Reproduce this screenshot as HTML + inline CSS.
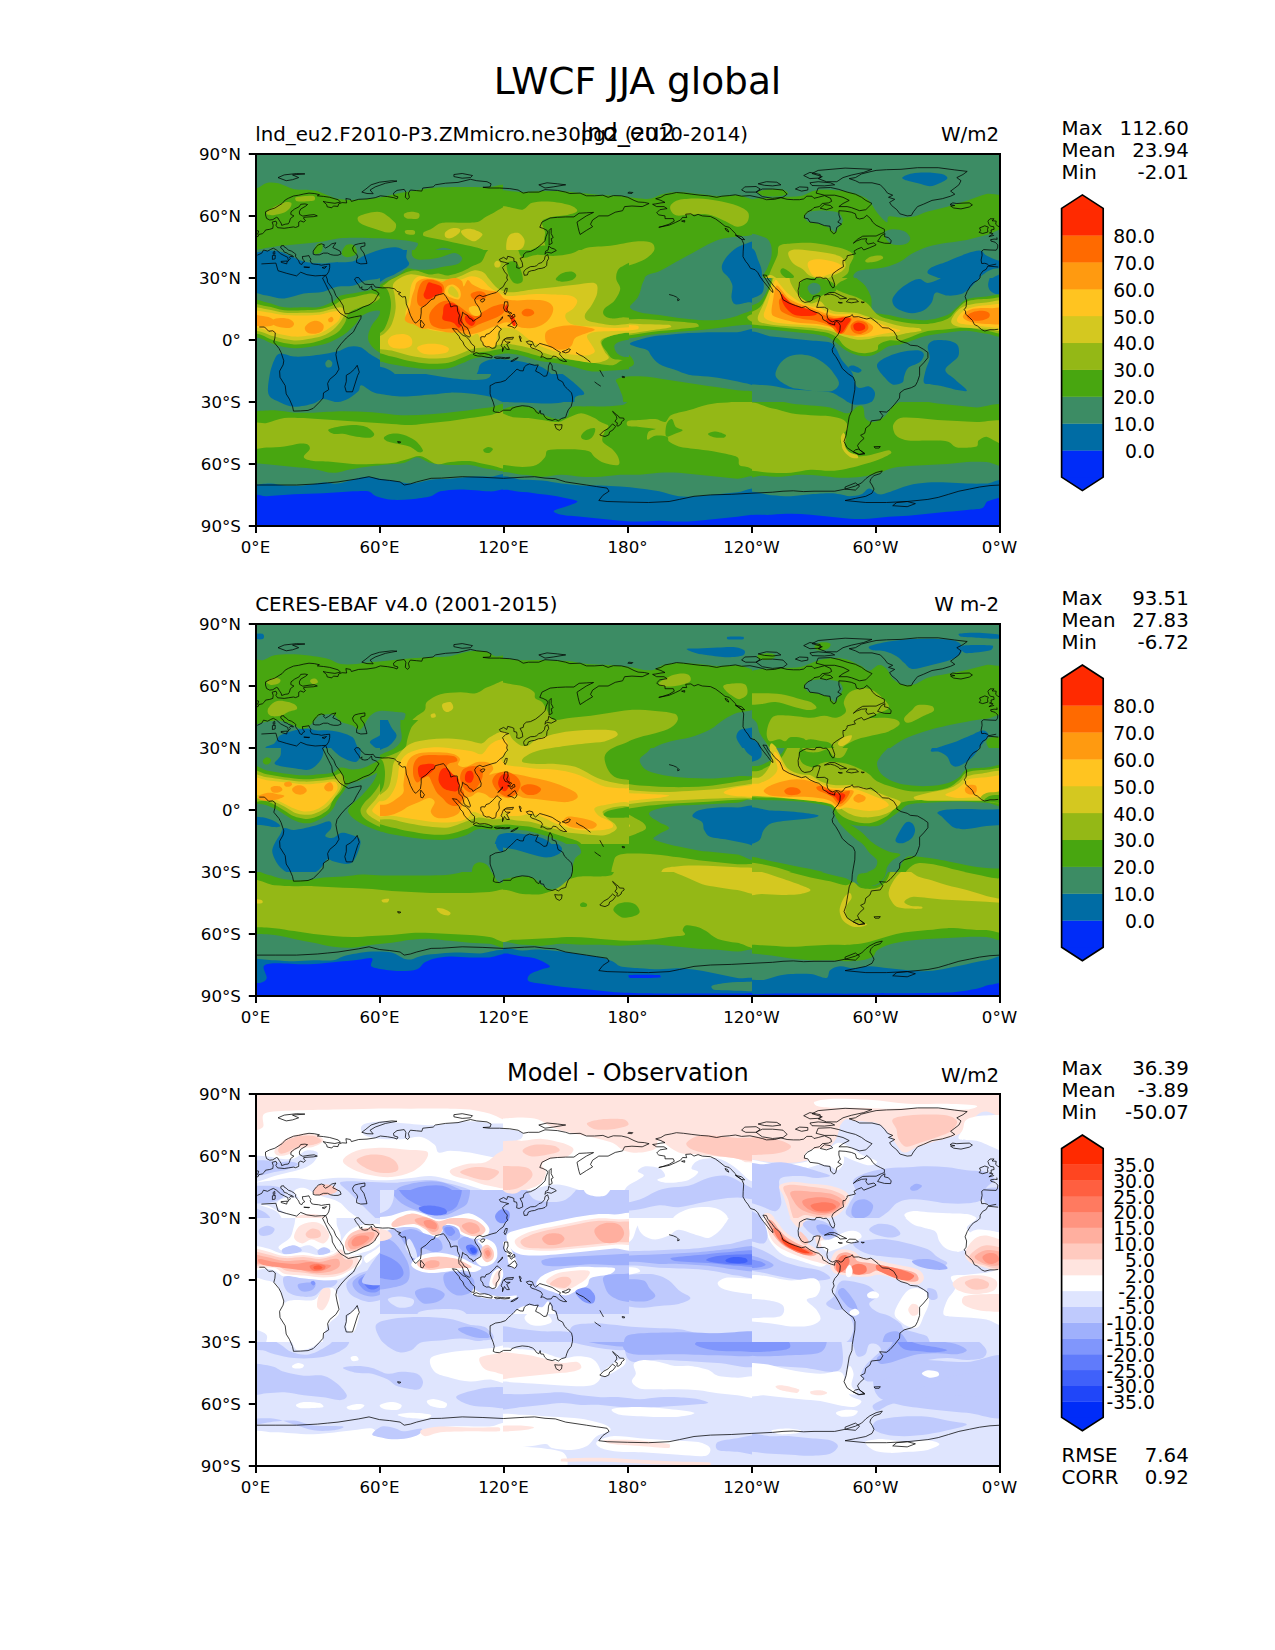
<!DOCTYPE html>
<html lang="en"><head><meta charset="utf-8"><title>LWCF JJA global</title>
<style>
html,body{margin:0;padding:0;background:#fff;}
body{width:1275px;height:1650px;overflow:hidden;}
svg{display:block;}
text{font-family:"DejaVu Sans","Liberation Sans",sans-serif;fill:#000;}
</style></head><body>
<svg width="1275" height="1650" viewBox="0 0 1275 1650">
<rect width="1275" height="1650" fill="#fff"/>
<clipPath id="c1"><rect x="255.0" y="154.0" width="249.0" height="186.0"/></clipPath>
<g clip-path="url(#c1)">
<rect x="255.0" y="154.0" width="249.0" height="186.0" fill="#3c8c64"/>
<g transform="translate(255.0 154.0) scale(0.19529)">
<path d="M-30 178c1-16 25 3 40-2c15-5 32-24 50-28c18-4 37-3 60 2c23 5 48 24 80 30c32 6 70-1 110 8c40 9 82 37 130 44c48 7 110 1 160-4c50-5 97-20 140-28c43-8 83-15 120-20c37-5 60-9 100-10c53-2 162-2 220 0c52 2 122-40 130 12c22 135 223 665 0 798c-223 133-1117 134-1340 0c-223-134-7-668 0-802z" fill="#48a610"/>
<path d="M-30 495c1-12 18-1 30-3c27-4 78-15 130-22c55-7 147-13 200-20c48-6 71-17 120-20c52-3 127-2 190 2c63 4 161 12 190 23c18 7-18 33-15 45c3 12 18 27 35 25c24-3 78-43 110-45c32-2 65 19 80 30c12 9 17 24 10 35c-7 11-28 23-50 30c-25 7-67 12-100 15c-33 3-77 0-100 5c-18 4-23 16-40 25c-17 9-40 22-60 30c-20 8-37 13-60 20c-23 7-52 12-80 20c-28 8-67 21-90 30c-21 8-29 17-50 25c-23 8-53 21-90 25c-45 4-125 2-180 2c-55 0-120-3-150-4c-12 0-29 12-30 0c-5-46-5-227 0-273z" fill="#3c8c64"/>
<path d="M-30 505c2-12 18 1 30 0c15-2 38-9 60-10c22-1 47-1 70 5c23 6 50 22 70 30c20 8 29 15 50 20c22 5 55 9 80 10c25 1 42-3 70-5c28-2 73 1 100-5c26-6 37-20 60-30c23-10 53-23 80-30c27-7 58-14 80-12c22 2 38 10 50 22c12 12 20 35 20 50c0 15-7 28-20 40c-15 13-45 28-70 40c-25 12-50 21-80 30c-30 9-63 18-100 25c-37 7-88 10-120 15c-28 4-42 10-70 15c-33 6-92 16-130 20c-38 4-67 8-100 5c-33-3-78-21-100-25c-12-2-28 12-30 0c-5-35-5-175 0-210z" fill="#006ca4"/>
<path d="M300 500c2-9 12-34 20-40c8-6 22-5 25 2c3 7 1 30-5 38c-6 8-23 12-30 12c-6 0-11-6-10-12z" fill="#48a610"/>
<path d="M445 500c3-9 14-30 25-35c11-5 32-3 40 5c8 8 15 30 10 40c-5 10-28 16-40 18c-12 2-24-3-30-8c-6-5-8-12-5-20z" fill="#48a610"/>
<path d="M60 295c6-7 25-17 40-25c15-8 36-19 50-22c14-3 30-2 35 2c5 4 1 17-5 25c-6 8-17 19-30 25c-13 6-36 10-50 12c-14 2-28 1-35-2c-6-2-9-10-5-15z" fill="#94b816"/>
<path d="M210 222c14-4 75-10 90-7c9 2 11 20 2 23c-14 4-72 7-87 4c-8-1-13-18-5-20z" fill="#94b816"/>
<path d="M530 320c12-8 50-19 70-22c20-3 33-4 50 2c17 6 38 25 50 35c10 9 20 16 22 25c2 9 0 23-7 30c-7 7-20 13-35 12c-16-1-40-11-60-17c-20-6-45-13-60-20c-13-6-25-13-30-20c-5-7-8-19 0-25z" fill="#94b816"/>
<path d="M765 305c6-4 23-9 35-9c12 0 34 3 40 9c6 6 3 21-5 25c-8 4-33 3-45 2c-11-1-21-6-25-10c-4-4-5-13 0-17z" fill="#94b816"/>
<path d="M770 392c7-3 38-3 45 0c7 3 7 17 0 20c-7 3-33 1-40-2c-7-3-12-15-5-18z" fill="#94b816"/>
<path d="M865 400c6-6 21-8 35-15c16-8 33-29 60-33c38-6 130 5 170-2c31-5 40-27 70-38c30-11 103-74 110-29c18 111 45 581 0 697c-39 101-227 63-270 0c-43-63 3-314 10-380c1-13 17-12 30-15c20-5 72-7 90-15c12-5 13-18 15-30c2-12 3-30-5-40c-8-10-23-15-40-20c-20-6-50-11-80-18c-30-7-68-15-100-22c-32-7-79-13-95-20c-7-3-6-14 0-20z" fill="#94b816"/>
<path d="M975 400c6-8 23-18 35-20c12-2 35 0 40 5c5 5-2 18-10 25c-8 8-29 20-40 22c-10 2-21-2-25-7c-4-5-6-17 0-25z" fill="#d4c820"/>
<path d="M1055 395c3-6 23-11 35-12c12-1 28 2 40 7c12 5 35 13 35 22c0 9-24 28-35 33c-11 5-20-1-30-5c-10-4-22-12-30-20c-8-8-18-19-15-25z" fill="#d4c820"/>
<path d="M1225 555c3-5 15-9 20-7c5 2 13 11 13 17c0 6-8 18-13 20c-5 2-14-2-17-7c-3-5-6-18-3-23z" fill="#d4c820"/>
<path d="M-30 788c22-32 83 1 130 2c47 1 112 5 150 5c32 0 55 0 80-3c25-3 52-12 70-17c16-5 25-7 40-15c17-9 40-31 60-40c20-9 40-12 60-15c20-3 46-6 60-5c11 1 24 4 25 12c1 8-13 23-20 33c-7 10-13 18-25 25c-14 8-40 17-60 25c-20 8-47 16-60 25c-12 8-13 18-20 30c-7 12-12 27-20 40c-8 13-18 25-25 40c-7 15 6 48-15 50c-74 8-358 32-430 0c-70-31-22-160 0-192z" fill="#94b816"/>
<path d="M-30 800c22-30 83 2 130 3c47 1 112 5 150 5c32 0 55 0 80-3c25-3 52-12 70-15c16-2 31-6 40-2c9 4 14 15 12 27c-2 12-14 30-22 45c-8 15-18 31-25 45c-7 14-15 27-20 40c-5 13 5 34-10 35c-69 6-337 30-405 0c-66-29-22-150 0-180z" fill="#d4c820"/>
<path d="M-30 815c22-12 83 2 130 3c47 1 112 4 150 4c32 0 55-1 80-4c25-3 53-12 70-13c12-1 26-1 30 7c4 8 0 25-5 38c-5 13-16 28-25 40c-9 12-18 21-30 30c-12 9-25 18-40 25c-15 7-29 18-50 17c-22-1-50-14-80-24c-30-10-67-25-100-33c-33-8-78-12-100-15c-12-2-26 9-30-2c-5-12-22-61 0-73z" fill="#ffc420"/>
<path d="M90 850c6-6 25-11 40-12c15-1 38 2 50 7c12 5 20 17 20 25c0 8-9 17-20 20c-12 3-36 0-50-2c-14-2-28-7-35-13c-7-6-11-19-5-25z" fill="#ff9a10"/>
<path d="M255 890c2-10 14-22 25-28c11-6 28-9 40-7c12 2 26 11 30 20c4 9 2 27-5 35c-7 8-23 13-35 15c-12 2-31 1-40-5c-9-6-17-20-15-30z" fill="#ff9a10"/>
<path d="M375 845c2-5 13-13 17-13c4 0 10 11 10 16c0 5-6 12-10 14c-4 2-11 1-14-2c-3-3-5-10-3-15z" fill="#ff9a10"/>
<path d="M-30 905c13-12 55 2 80 5c25 3 45 8 70 15c25 7 67 18 80 27c9 6 11 27 0 28c-38 5-192 12-230 0c-29-9-13-63 0-75z" fill="#94b816"/>
<path d="M-30 915c12-10 48-1 70 3c22 4 48 12 60 22c12 10 26 35 10 40c-22 7-117 11-140 0c-23-11-12-55 0-65z" fill="#48a610"/>
<path d="M470 850c8-12 16-15 30-20c15-5 40-9 60-10c20-1 47 0 60 5c12 4 18 12 20 25c3 26 33 108 0 130c-33 22-168 13-200 0c-30-13 5-58 10-80c5-21 12-38 20-50z" fill="#3c8c64"/>
</g></g>
<clipPath id="c2"><rect x="255.0" y="340.0" width="249.0" height="187.0"/></clipPath>
<g clip-path="url(#c2)">
<rect x="255.0" y="340.0" width="249.0" height="187.0" fill="#3c8c64"/>
<g transform="translate(255.0 340.0) scale(0.19529)">
<path d="M90 -30c-21 3 12 33 30 45c18 12 50 23 80 27c30 4 68 0 100-4c32-4 67-12 90-23c23-11 77-41 50-45c-50-8-297-8-350 0z" fill="#48a610"/>
<path d="M130 -30c-20 3 15 31 30 40c15 9 37 13 60 15c23 2 55-1 80-5c25-4 53-12 70-20c15-8 47-28 30-30c-40-5-230-7-270 0z" fill="#94b816"/>
<path d="M190 -30c-15 6 15 29 30 35c15 6 45 6 60 0c15-6 45-29 30-35c-15-6-105-6-120 0z" fill="#d4c820"/>
<path d="M70 280c-9-23 0-70 5-100c5-30 16-62 25-80c8-15 13-28 30-30c17-2 42 13 70 15c28 2 63-1 100-5c37-4 90-12 120-20c25-6 40-21 60-25c20-4 40-5 60 3c20 8 35 27 60 42c27 15 58 35 100 50c42 15 100 29 150 40c50 11 103 19 150 25c47 6 98 10 130 10c26 0 52-3 65-10c12-6 15-20 15-30c0-10-4-22-15-30c-12-9-56-17-55-23c1-6 36-10 60-12c28-3 92-40 110-5c18 35 18 185 0 217c-18 32-75-16-110-22c-35-6-67-12-100-15c-33-3-67-6-100-5c-33 1-60 7-100 10c-40 3-98 10-140 10c-42 0-83-8-110-12c-20-3-32-5-50-13c-18-8-43-33-55-33c-12 0-6 20-15 30c-11 11-32 29-50 38c-18 9-38 18-60 18c-22 0-50-17-70-16c-20 1-29 17-50 23c-25 7-72 18-100 17c-28-1-48-12-70-22c-22-10-51-17-60-40z" fill="#006ca4"/>
<path d="M360 120c1-6 9-17 15-18c6-1 17 7 20 13c3 6-1 19-5 23c-4 4-17 5-22 2c-5-3-9-14-8-20z" fill="#3c8c64"/>
<path d="M560 -30c-23 2 17 34 30 50c13 16 26 32 50 45c25 13 65 25 100 35c35 10 75 20 110 25c35 5 68 7 100 5c32-2 65-8 90-15c25-7 34-23 60-30c27-7 65-7 100-10c35-3 92 13 110-5c18-18 40-95 0-100c-125-17-630-8-750 0z" fill="#48a610"/>
<path d="M600 -30c-21 1 12 31 25 45c13 14 33 28 55 40c22 12 52 23 80 30c28 7 58 12 90 15c32 3 70 7 100 5c30-2 58-7 80-15c22-8 27-24 50-30c25-7 62-8 100-10c38-2 108 8 130-5c22-13 30-72 0-75c-118-12-596-8-710 0z" fill="#94b816"/>
<path d="M640 -30c-18 1 7 28 20 40c13 12 37 27 60 35c23 8 50 9 80 15c30 6 67 18 100 20c33 2 77-3 100-10c19-5 23-22 40-30c17-8 35-15 60-20c27-5 65-8 100-10c35-2 92 7 110 0c15-5 16-39 0-40c-112-7-562-7-670 0z" fill="#d4c820"/>
<path d="M690 -30c-15 6 2 29 10 40c8 11 25 20 40 25c15 5 38 9 50 5c12-4 18-18 20-30c2-12 6-35-10-40c-20-7-93-7-110 0z" fill="#ffc420"/>
<path d="M820 45c-2-7 16-17 30-20c17-4 47-7 70-5c23 2 59 8 70 15c9 5 3 19-5 25c-10 7-34 13-55 15c-21 2-52 0-70-5c-18-5-38-18-40-25z" fill="#ffc420"/>
<path d="M-30 365c1-12 18 0 30 0c22-1 67-6 100-5c33 1 67 10 100 12c33 2 60 1 100 0c42-1 100-7 150-7c50 0 100 2 150 5c50 3 100 13 150 15c50 2 100-2 150-5c50-3 100-9 150-15c50-6 107-16 150-20c43-4 95-46 110-5c18 51 18 257 0 310c-14 42-75 12-110 10c-35-2-67-17-100-20c-33-3-67 2-100 0c-33-2-72-3-100-10c-28-7-47-30-70-30c-23 0-40 23-70 30c-30 7-67 5-110 10c-43 5-108 13-150 20c-40 6-67 20-100 20c-33 0-67-15-100-20c-33-5-67-7-100-10c-33-3-67-7-100-10c-33-3-78-8-100-10c-12-1-29 12-30 0c-5-44-5-221 0-265z" fill="#48a610"/>
<path d="M-30 430c15-20 60 0 90-5c30-5 58-21 90-25c32-4 60-2 100 0c42 2 100 7 150 10c50 3 100 7 150 10c50 3 108 8 150 10c40 2 67 6 100 5c33-1 67-7 100-10c33-3 67-6 100-10c33-4 67-10 100-15c33-5 65-11 100-15c35-4 93-51 110-10c18 43 18 221 0 265c-17 41-75 3-110 0c-35-3-67-18-100-20c-33-2-72 2-100 5c-28 2-45 15-70 10c-25-5-55-36-80-40c-25-4-45 9-70 15c-25 6-50 16-80 20c-30 4-67 4-100 5c-33 1-67 2-100 0c-33-2-67-7-100-10c-33-3-75-1-100-5c-21-4-47-10-50-20c-3-10 27-29 30-40c3-10-2-20-10-25c-8-5-24-6-40-5c-20 2-52 12-80 15c-28 3-60 5-90 5c-30 0-75 18-90-2c-15-20-15-98 0-118z" fill="#94b816"/>
<path d="M375 460c3-6 26-11 45-15c21-4 55-10 80-10c25 0 52 3 70 10c18 7 37 26 40 35c3 9-9 18-20 20c-15 2-47-2-70-5c-23-3-50-13-70-15c-20-2-38 3-50 0c-12-3-28-14-25-20z" fill="#48a610"/>
<path d="M660 500c3-7 23-18 40-20c17-2 40-1 60 5c20 6 43 17 60 30c17 13 37 40 40 50c3 8-11 12-20 10c-12-3-30-23-50-30c-20-7-52-11-70-15c-16-4-30-5-40-10c-10-5-23-13-20-20z" fill="#48a610"/>
<path d="M1170 560c3-4 17-12 25-12c8 0 22 5 23 10c1 5-11 17-18 20c-7 3-20 0-25-3c-5-3-8-11-5-15z" fill="#48a610"/>
<path d="M-30 745c1-12 18-2 30-3c18-2 55-8 80-7c25 1 42 8 70 10c28 2 67 3 100 0c33-3 72-13 100-15c28-2 45 8 70 5c25-3 55-14 80-20c25-6 47-14 70-15c23-1 45 6 70 10c25 4 53 8 80 12c27 4 50 14 80 13c30-1 67-16 100-20c33-4 67-3 100-5c33-2 67-8 100-10c33-2 65-1 100 0c35 1 94-36 110 5c18 48 112 261 0 285c-223 48-1117 41-1340 0c-96-18-5-204 0-245z" fill="#006ca4"/>
<path d="M-30 805c15-32 54-3 90-5c38-2 92-8 140-10c48-2 100-2 150-5c50-3 112-8 150-10c32-1 60-4 80 0c18 4 22 19 40 25c20 7 50 16 80 18c30 2 67 0 100-3c33-3 75-8 100-15c22-6 28-20 50-25c25-6 60-10 100-10c42 0 107 7 150 10c43 3 92-31 110 5c18 36 83 197 0 210c-223 35-1117 31-1340 0c-73-10-15-153 0-185z" fill="#002cf8"/>
</g></g>
<clipPath id="c3"><rect x="503.0" y="154.0" width="249.0" height="186.0"/></clipPath>
<g clip-path="url(#c3)">
<rect x="503.0" y="154.0" width="249.0" height="186.0" fill="#48a610"/>
<g transform="translate(503.0 154.0) scale(0.19529)">
<path d="M-30 -30c223-36 1117-41 1340 0c96 18 18 205 0 245c-18 40-75-5-110-5c-35 0-67 6-100 5c-33-1-67-7-100-10c-33-3-70-10-100-10c-30 0-57 5-80 10c-23 5-40 19-60 23c-20 4-36 2-60 0c-27-2-67-10-100-13c-33-3-67-3-100-5c-33-2-67-7-100-10c-33-3-67-8-100-10c-33-2-67-1-100 0c-33 1-67 6-100 5c-33-1-78-8-100-10c-12-1-28 12-30 0c-5-36-85-201 0-215z" fill="#3c8c64"/>
<path d="M860 260c7-9 22-21 40-25c23-5 67-8 100-7c33 1 67 6 100 12c33 6 74 15 100 25c24 9 47 21 55 35c8 14 4 38-5 50c-9 12-30 24-50 22c-20-2-45-22-70-32c-25-10-52-25-80-30c-28-5-63-1-90 0c-27 1-53 8-70 5c-15-3-25-16-30-25c-5-9-7-21 0-30z" fill="#94b816"/>
<path d="M-30 290c9-51 100 2 130-5c24-5 26-29 50-35c25-7 67-8 100-5c33 3 78 12 100 20c15 5 33 19 30 27c-3 8-29 15-50 20c-22 5-58 4-80 10c-21 5-44 10-50 23c-6 13 13 37 15 55c2 18-7 30-3 50c4 20 17 57 28 70c11 13 24 10 40 10c18 0 45-2 70-10c25-8 47-32 80-40c33-8 78-5 120-10c42-5 95-20 130-22c32-2 64 0 80 7c14 6 18 23 15 35c-3 12-19 28-35 40c-16 12-40 22-60 30c-20 8-44 12-60 20c-16 8-32 13-35 30c-3 17 14 48 15 70c1 22 0 42-10 60c-10 18-38 37-50 50c-11 11-28 20-25 30c3 10 24 27 45 30c31 4 92-6 140-5c48 1 102 6 150 10c48 4 115 7 140 13c9 2 19 18 10 22c-15 6-67 10-100 15c-33 5-67 7-100 15c-33 8-75 18-100 30c-23 11-24 39-50 40c-122 7-567 117-680 0c-113-117-22-582 0-700z" fill="#94b816"/>
<path d="M270 640c0-7 17-23 30-30c13-7 38-12 50-10c12 2 25 12 25 20c0 8-13 20-25 25c-12 5-37 8-50 7c-13-1-30-5-30-12z" fill="#48a610"/>
<path d="M-30 560c8-15 35-10 50-10c15 0 27 2 40 10c13 8 34 25 40 40c6 15 2 39-5 50c-7 11-23 18-35 18c-12 0-25-13-40-18c-15-5-42 5-50-10c-8-15-8-65 0-80z" fill="#48a610"/>
<path d="M90 545c2-12 22-33 40-45c18-12 52-27 70-30c14-3 30 0 35 10c5 10 4 37-5 50c-9 13-32 23-50 30c-18 7-45 12-60 10c-15-2-32-13-30-25z" fill="#48a610"/>
<path d="M20 440c3-14 10-24 20-30c10-6 28-10 40-5c12 5 27 23 30 35c3 12-2 30-10 40c-8 10-27 16-40 18c-13 2-33 7-40-3c-7-10-3-41 0-55z" fill="#d4c820"/>
<path d="M-30 700c11-34 60 10 90 10c30 0 58-7 90-10c32-3 67-7 100-10c33-3 67-5 100-10c33-5 78-20 100-20c14 0 27 10 30 20c3 10-3 27-10 40c-7 13-20 27-30 40c-10 13-27 28-30 40c-3 12 0 23 10 30c12 8 37 13 60 20c23 7 47 16 80 20c37 5 92 8 140 10c48 2 123-2 150 0c7 1 17 13 10 15c-15 5-73 10-100 15c-24 5-42 8-60 15c-18 7-40 14-50 25c-10 11 6 39-10 40c-113 7-558 48-670 0c-106-46-15-243 0-290z" fill="#d4c820"/>
<path d="M-30 740c12-34 60 1 90 0c30-1 58-2 90-5c32-3 68-9 100-10c32-1 68-1 90 5c19 5 35 18 40 30c5 12-2 28-10 40c-8 12-32 22-40 30c-6 6-18 16-10 20c12 7 50 15 80 20c30 5 67 8 100 10c33 2 68-1 100 0c32 1 75 1 90 5c8 2 8 17 0 20c-15 5-58 7-90 10c-32 3-80 4-100 10c-12 4-17 14-20 25c-3 11 16 39 0 40c-85 7-425 42-510 0c-85-42-15-208 0-250z" fill="#ffc420"/>
<path d="M40 790c5-13 14-24 30-30c18-7 53-10 80-10c27 0 62 2 80 10c17 8 24 25 25 40c1 15-11 36-20 50c-9 14-17 28-35 35c-18 7-48 11-70 10c-22-1-45-6-60-15c-15-9-25-25-30-40c-5-15-5-37 0-50z" fill="#ff9a10"/>
<path d="M225 930c6-18 19-36 35-45c16-9 37-9 60-7c23 2 55 12 80 17c25 5 67 5 70 10c3 5-29 14-50 20c-22 7-60 9-80 20c-20 11-21 37-40 45c-19 8-62 10-75 0c-13-10-6-42 0-60z" fill="#ff9a10"/>
<path d="M100 805c3-5 16-12 25-13c9-1 25 3 30 8c5 5 7 15 3 20c-4 5-19 10-28 10c-9 0-20-4-25-8c-5-4-8-12-5-17z" fill="#ff6a00"/>
<path d="M1310 420c-4-24-38-1-60 0c-22 1-45 2-70 5c-25 3-50 4-80 15c-30 11-67 32-100 50c-33 18-67 37-100 55c-33 18-73 43-100 55c-23 11-45 10-60 20c-15 10-24 23-30 40c-6 17 2 43-5 60c-7 17-26 28-35 40c-9 11-25 22-20 30c5 8 29 16 50 20c25 5 67 5 100 10c33 5 67 15 100 20c33 5 67 8 100 10c33 2 67 3 100 0c33-3 75-12 100-20c22-7 32-23 50-30c18-7 56 14 60-10c10-63 10-308 0-370z" fill="#3c8c64"/>
<path d="M1310 460c-9-31-57-2-80 5c-23 7-42 19-60 35c-18 16-38 43-45 60c-7 15-6 27 0 40c6 13 27 23 35 40c8 17 8 40 10 60c2 20-5 48 0 60c5 12 17 12 30 10c13-2 32-13 50-20c18-7 55 5 60-20c10-48 13-226 0-270z" fill="#006ca4"/>
<path d="M640 990c-32-3 33-42 60-55c27-13 67-14 100-20c33-6 67-11 100-15c33-4 67-6 100-10c33-4 67-8 100-12c33-4 65-7 100-10c35-3 92-28 110-8c18 20 51 120 0 130c-112 22-568 9-670 0z" fill="#3c8c64"/>
<path d="M700 990c-30-2 35-35 60-45c25-10 54-10 90-13c40-3 108-5 150-7c40-2 67-5 100-7c33-2 65-4 100-6c35-2 92-20 110-7c18 13 34 80 0 85c-102 14-518 8-610 0z" fill="#006ca4"/>
<path d="M1250 840c1-7 15-16 25-20c10-4 29-12 35-5c6 7 7 42 0 50c-7 8-30 1-40-3c-10-4-21-15-20-22z" fill="#94b816"/>
</g></g>
<clipPath id="c4"><rect x="503.0" y="340.0" width="249.0" height="187.0"/></clipPath>
<g clip-path="url(#c4)">
<rect x="503.0" y="340.0" width="249.0" height="187.0" fill="#48a610"/>
<g transform="translate(503.0 340.0) scale(0.19529)">
<path d="M-30 60c22-43 83 18 130 25c47 7 100 13 150 20c50 7 105 19 150 25c45 6 87 10 120 10c32 0 57-3 80-10c23-7 48-18 60-30c12-12 13-27 10-40c-3-13-18-25-30-40c-12-15-66-48-40-50c112-8 592-45 710 0c101 38 18 229 0 270c-18 41-75-18-110-25c-35-7-67-11-100-15c-33-4-67-8-100-10c-33-2-67-5-100-5c-33 0-67 4-100 5c-33 1-70 1-100 2c-30 1-60-1-80 3c-18 3-38 9-40 20c-2 11 20 31 30 45c10 14 28 28 30 40c2 12-6 25-20 30c-20 7-67 8-100 10c-33 2-72-1-100 0c-28 1-55-3-70 5c-15 8-8 35-20 45c-12 10-29 17-50 15c-22-2-58-15-80-25c-22-10-26-29-50-35c-25-7-70-5-100-5c-30 0-71 36-80 5c-13-47-22-242 0-285z" fill="#3c8c64"/>
<path d="M-30 95c14-33 60 1 90 5c30 4 58 13 90 20c32 7 70 8 100 20c30 12 55 32 80 50c25 18 56 46 70 60c8 8 20 18 15 25c-5 7-27 8-45 15c-19 8-42 24-70 30c-28 6-67 5-100 5c-33 0-67-4-100-5c-33-1-78-2-100-2c-12 0-28 12-30 0c-5-37-15-187 0-223z" fill="#006ca4"/>
<path d="M660 10c0-13 17-39 40-40c108-7 508-41 610 0c91 37 18 209 0 245c-18 36-75-23-110-30c-35-7-67-7-100-10c-33-3-70-3-100-5c-30-2-55-5-80-10c-25-5-50-12-70-20c-20-8-35-19-50-30c-15-11-23-25-40-35c-17-10-43-14-60-25c-17-11-40-27-40-40z" fill="#006ca4"/>
<path d="M-30 -30c112-14 554-12 670 0c30 3 22 50 25 70c3 20 6 36-5 50c-11 14-37 28-60 35c-23 7-48 10-80 10c-33 0-75-4-120-10c-45-6-100-17-150-25c-50-8-103-12-150-20c-47-8-108-7-130-25c-22-18-34-81 0-85z" fill="#48a610"/>
<path d="M100 -30c-27 4 13 43 30 60c17 17 42 29 70 40c28 11 67 18 100 25c33 7 67 12 100 15c33 3 70 7 100 5c30-2 63-7 80-15c13-6 20-17 20-30c0-13-10-33-20-50c-10-17-15-47-40-50c-80-8-372-10-440 0z" fill="#94b816"/>
<path d="M150 -30c-31 6 25 43 50 60c25 17 67 31 100 40c33 9 70 12 100 15c30 3 57 7 80 5c23-2 50-10 60-20c10-10 6-25 0-40c-7-17-11-56-40-60c-65-10-300-10-350 0z" fill="#d4c820"/>
<path d="M170 -30c-25 9 33 42 60 55c27 13 72 19 100 25c28 6 52 11 70 10c17-1 37-7 40-15c3-8-10-23-20-35c-10-12-18-36-40-40c-42-7-185-9-210 0z" fill="#ffc420"/>
<path d="M190 -30c-15 7 38 30 60 40c22 10 53 19 70 20c13 1 27-5 30-15c3-10 8-40-10-45c-27-8-135-7-150 0z" fill="#ff9a10"/>
<path d="M-30 385c10-31 53 7 80 10c27 3 55 3 80 5c25 2 45 7 70 10c25 3 57 12 80 10c23-2 40-18 60-25c20-7 40-20 60-20c20 0 43 13 60 20c17 7 27 17 40 25c13 8 37 12 40 20c3 8-15 17-20 30c-5 13-17 35-10 50c7 15 37 27 50 40c13 13 25 27 30 40c5 13 12 35 0 40c-12 5-50-3-70-10c-20-7-37-20-50-30c-13-10-14-25-30-30c-22-7-65-9-100-10c-35-1-89-2-110 5c-15 5-5 23-15 35c-10 12-26 32-45 40c-19 8-42 10-70 10c-28 0-78-8-100-10c-12-1-29 12-30 0c-5-42-13-214 0-255z" fill="#94b816"/>
<path d="M400 490c3-8 18-24 30-30c12-6 34-12 40-8c6 4 0 23-5 33c-5 10-16 21-25 25c-9 4-23 1-30-2c-7-3-13-10-10-18z" fill="#48a610"/>
<path d="M640 415c10-5 37-3 60-5c23-2 58-7 80-5c21 2 37 18 50 15c13-3 14-27 30-35c20-10 58-16 90-25c32-9 67-23 100-30c33-7 60-8 100-10c43-2 133-59 160-2c27 57 10 287 0 342c-4 24-43-7-60-10c-16-3-32-2-40-10c-8-8 4-32-10-40c-18-11-67-18-100-25c-33-7-67-10-100-15c-33-5-75-8-100-15c-22-6-40-17-50-25c-8-7 0-21-10-25c-12-5-43-7-60-5c-17 2-34 23-40 20c-6-3-2-31 5-40c7-9 43-11 35-15c-8-4-57-7-80-10c-23-3-50 0-60-5c-9-4-9-21 0-25z" fill="#94b816"/>
<path d="M1050 480c2-5 25-13 40-12c15 1 43 12 50 17c6 5-3 13-10 15c-10 2-37 1-50-2c-13-3-32-13-30-18z" fill="#48a610"/>
<path d="M838 430c5-14 19-28 27-25c8 3 11 31 20 40c9 9 37 11 35 17c-2 6-31 15-45 20c-14 5-34 19-40 10c-6-9-2-48 3-62z" fill="#48a610"/>
<path d="M-30 700c21-48 92-10 130-10c38 0 67 10 100 10c33 0 67-10 100-10c33 0 67 8 100 10c33 2 67 2 100 0c33-2 67-8 100-10c33-2 67 2 100 0c33-2 67-8 100-10c33-2 67-2 100 0c33 2 67 7 100 10c33 3 67 7 100 10c33 3 65 8 100 10c35 2 94-36 110 5c18 47 108 253 0 275c-223 46-1117 48-1340 0c-113-25-22-240 0-290z" fill="#3c8c64"/>
<path d="M-30 720c22-46 92-5 130-5c38 0 67 2 100 5c33 3 67 11 100 15c33 4 67 8 100 10c33 2 67-1 100 0c33 1 67 3 100 5c33 2 67 6 100 10c33 4 67 8 100 15c33 7 67 21 100 25c33 4 67 2 100 0c33-2 67-7 100-10c33-3 65-8 100-10c35-2 92-40 110-5c18 35 85 201 0 215c-223 36-1117 45-1340 0c-106-21-22-224 0-270z" fill="#006ca4"/>
<path d="M-30 785c22-35 92-8 130-7c38 1 67 8 100 12c33 4 70 9 100 15c30 6 75 13 80 20c5 7-30 17-50 25c-20 8-65 18-70 25c-5 7 23 16 40 20c23 5 67 7 100 10c33 3 67 7 100 10c33 3 67 7 100 10c33 3 67 5 100 5c33 0 67-5 100-5c33 0 67 5 100 5c33 0 67-2 100-5c33-3 67-7 100-10c33-3 65-7 100-10c35-3 92-19 110-5c18 14 36 88 0 90c-223 15-1117 34-1340 0c-81-12-22-170 0-205z" fill="#002cf8"/>
</g></g>
<clipPath id="c5"><rect x="752.0" y="154.0" width="249.0" height="186.0"/></clipPath>
<g clip-path="url(#c5)">
<rect x="752.0" y="154.0" width="249.0" height="186.0" fill="#48a610"/>
<g transform="translate(752.0 154.0) scale(0.19529)">
<path d="M-30 -30c223-41 1117-37 1340 0c87 14 18 181 0 220c-18 39-75 7-110 15c-35 8-67 24-100 35c-33 11-67 21-100 30c-33 9-72 17-100 25c-28 8-47 20-70 25c-23 5-48 5-70 5c-22 0-48-9-60-5c-12 4 0 33-10 30c-10-3-35-32-50-50c-15-18-27-46-40-60c-13-14-22-18-40-25c-22-8-53-20-90-25c-38-5-103-9-140-5c-34 4-50 24-80 30c-30 6-67 3-100 5c-33 2-70 6-100 5c-30-1-70 21-80-10c-13-43-96-227 0-245z" fill="#3c8c64"/>
<path d="M270 320c2-8 15-21 30-25c18-5 57-6 80-5c23 1 46 2 60 10c14 8 25 27 25 40c0 13-18 30-25 40c-6 8-7 21-15 20c-8-1-19-18-35-25c-16-7-42-15-60-20c-18-5-35-4-45-10c-10-6-17-17-15-25z" fill="#3c8c64"/>
<path d="M680 400c5-9 23-14 40-15c17-1 45 3 60 10c15 7 28 24 30 35c2 11-7 24-20 30c-13 6-43 8-60 5c-17-3-32-14-40-25c-8-11-15-31-10-40z" fill="#3c8c64"/>
<path d="M30 195c3-5 30-11 50-13c20-2 52-5 70-2c16 3 35 14 35 20c0 6-20 13-35 15c-21 3-70 3-90 0c-14-2-33-15-30-20z" fill="#48a610"/>
<path d="M770 120c5-6 29-16 50-20c22-4 53-6 80-5c27 1 63 5 80 10c11 3 23 13 20 20c-3 7-25 18-40 25c-15 7-32 15-50 15c-18 0-40-10-60-15c-20-5-47-10-60-15c-9-4-25-9-20-15z" fill="#006ca4"/>
<path d="M1310 400c-14-42-75 8-110 15c-35 7-67 18-100 25c-33 7-67 9-100 15c-33 6-70 11-100 20c-30 9-57 23-80 35c-23 12-37 28-60 40c-23 12-53 23-80 30c-27 7-57 7-80 10c-23 3-47 3-60 10c-13 6-25 20-20 30c5 10 35 18 50 30c15 12 35 23 40 40c5 17-12 42-10 60c2 18 3 38 20 50c17 12 50 13 80 20c30 7 67 17 100 20c33 3 67 3 100 0c33-3 75-10 100-20c24-10 33-25 50-40c17-15 25-40 50-50c25-10 65-10 100-10c35 0 96 52 110 10c18-55 18-286 0-340z" fill="#3c8c64"/>
<path d="M720 740c5-15 23-35 40-50c17-15 43-32 60-40c15-7 27-12 40-10c13 2 23 20 40 20c17 0 60-12 60-20c0-8-53-20-60-30c-7-10 8-23 20-30c17-10 50-18 80-30c30-12 72-31 100-40c27-9 53-17 70-15c16 2 16 17 30 25c15 8 42 22 60 25c18 3 42-11 50-5c8 6 13 32 0 40c-13 8-58 3-80 10c-22 7-35 18-50 30c-15 12-27 27-40 40c-13 13-27 30-40 40c-13 10-23 16-40 20c-17 4-40 7-60 5c-20-2-47-21-60-15c-13 6-10 35-20 50c-10 15-23 31-40 40c-17 9-40 15-60 15c-20 0-45-9-60-15c-13-5-23-10-30-20c-7-10-15-25-10-40z" fill="#006ca4"/>
<path d="M1210 660c3-12 15-22 30-30c17-8 58-36 70-20c12 16 8 97 0 115c-8 18-35-1-50-5c-15-4-32-10-40-20c-8-10-13-28-10-40z" fill="#006ca4"/>
<path d="M-30 425c10-35 69-6 90 0c19 5 28 19 35 35c7 16 7 40 5 60c-2 20-13 43-20 60c-7 17-15 23-20 40c-5 17-5 40-10 60c-5 20-7 48-20 60c-13 12-55 34-60 10c-10-52-15-271 0-325z" fill="#3c8c64"/>
<path d="M-30 480c3-16 30 0 40 10c10 10 13 32 20 50c7 18 18 37 20 60c2 23 0 58-5 80c-5 22-13 45-25 55c-12 10-46 27-50 7c-8-42-7-220 0-262z" fill="#006ca4"/>
<path d="M95 600c8-20 27-58 35-80c7-19-2-40 10-50c12-10 36-10 60-12c27-2 67-5 100-3c33 2 70 9 100 15c30 6 60 12 80 20c18 8 37 17 40 30c3 13-15 35-20 50c-5 15 0 27-10 40c-10 13-40 27-50 40c-10 13-17 29-10 40c7 11 29 18 50 25c22 7 60 11 80 20c19 9 30 21 40 35c10 14 3 37 20 50c17 13 50 22 80 30c30 8 67 16 100 20c33 4 67 8 100 5c33-3 75-13 100-25c25-12 33-35 50-50c17-15 26-31 50-40c25-9 65-13 100-15c35-2 92-34 110 5c18 39 91 214 0 230c-223 38-1117 20-1340 0c-48-4-8-90 0-120c8-30 35-33 50-60c15-27 30-73 40-100c9-24 14-43 20-60c6-16 8-24 15-40z" fill="#94b816"/>
<path d="M-30 880c12-15 48 5 70 10c22 5 35 15 60 20c27 6 67 11 100 15c33 4 67 7 100 10c33 3 83 3 100 10c13 6 14 34 0 35c-72 6-358 17-430 0c-39-9-12-85 0-100z" fill="#48a610"/>
<path d="M-30 905c12-11 48 5 70 10c22 5 40 14 60 20c20 6 50 9 60 17c9 7 11 26 0 28c-32 5-158 12-190 0c-28-11-12-64 0-75z" fill="#3c8c64"/>
<path d="M-30 935c12-7 52 1 70 5c17 4 33 13 40 20c6 6 8 19 0 20c-18 3-92 8-110 0c-17-7-12-38 0-45z" fill="#006ca4"/>
<path d="M740 980c-18-1 7-31 20-40c13-9 37-12 60-15c23-3 50-3 80-5c30-2 67-2 100-5c33-3 67-13 100-15c33-2 65 4 100 5c35 1 92-13 110 0c18 13 30 71 0 75c-95 12-478 7-570 0z" fill="#48a610"/>
<path d="M800 980c-27-4 33-28 60-35c27-7 67-3 100-5c33-2 77-12 100-10c18 2 33 14 40 22c7 8 11 27 0 28c-50 5-260 6-300 0z" fill="#3c8c64"/>
<path d="M240 690c1-15 5-31 15-40c10-9 26-13 45-15c19-2 50 0 70 5c20 5 40 15 50 25c10 10 17 27 10 35c-7 8-35 9-50 15c-15 6-25 13-40 20c-15 7-35 19-50 20c-15 1-32-4-40-15c-8-11-11-35-10-50z" fill="#48a610"/>
<path d="M285 680c3-8 15-18 25-20c10-2 28 3 35 10c7 7 9 22 5 30c-4 8-21 18-30 20c-9 2-19-3-25-10c-6-7-13-22-10-30z" fill="#3c8c64"/>
<path d="M145 600c0-7 7-17 15-15c9 2 31 17 40 25c8 6 17 15 15 20c-2 5-16 11-25 10c-9-1-22-8-30-15c-8-7-15-18-15-25z" fill="#48a610"/>
<path d="M580 545c3-5 17-16 30-20c13-4 40-7 50-5c7 1 15 10 10 15c-5 5-27 14-40 17c-13 3-32 4-40 3c-6-1-13-5-10-10z" fill="#94b816"/>
<path d="M185 510c0-12 12-18 25-20c19-2 58 2 90 5c32 3 73 9 100 15c25 5 47 10 60 20c13 10 20 28 20 40c0 12-10 22-20 30c-10 8-27 13-40 20c-13 7-25 18-40 20c-15 2-35-2-50-5c-15-3-28-7-40-15c-12-8-17-20-30-30c-13-10-38-17-50-30c-12-13-25-38-25-50z" fill="#d4c820"/>
<path d="M285 570c-2-12 4-21 15-25c12-5 38-7 60-5c22 2 53 9 70 15c14 5 28 13 30 20c2 7-10 18-20 25c-10 7-25 10-40 15c-15 5-35 14-50 15c-15 1-29 0-40-10c-11-10-23-38-25-50z" fill="#ffc420"/>
<path d="M60 650c5-16 18-28 30-30c12-2 27 8 40 20c13 12 23 33 40 50c17 17 38 37 60 50c22 13 50 27 70 30c20 3 37-13 50-10c13 3 18 22 30 30c12 8 23 16 40 20c17 4 40 3 60 5c20 2 40 1 60 5c20 4 36 12 60 20c27 8 70 21 100 30c30 9 53 17 80 22c27 5 66 4 80 8c6 2 11 13 5 15c-13 4-61 5-85 10c-24 5-47 11-60 20c-13 9-4 33-20 35c-47 6-212 9-260 0c-25-5-8-44-30-55c-23-12-75-13-110-17c-35-4-67-5-100-8c-33-3-72-5-100-12c-28-7-55-21-70-30c-10-6-19-11-18-23c2-13 20-36 28-55c8-19 17-38 20-60c3-22-5-53 0-70z" fill="#d4c820"/>
<path d="M80 660c2-9 20-17 30-15c10 2 19 14 30 25c12 12 23 30 40 45c17 15 40 33 60 45c20 12 43 20 60 25c15 5 27 1 40 5c13 4 25 14 40 20c15 6 30 12 50 15c20 3 48-2 70 0c22 2 40 4 60 10c20 6 37 16 60 25c23 9 57 22 80 30c23 8 60 14 60 20c0 6-42 9-60 15c-18 6-40 11-50 20c-10 9 4 32-10 35c-32 6-145 9-180 0c-24-6-9-41-30-55c-22-14-70-24-100-30c-30-6-50-2-80-5c-30-3-72-8-100-15c-28-7-53-17-70-25c-13-6-28-10-30-20c-2-10 12-25 20-40c8-15 20-35 25-50c5-15 7-27 5-40c-2-13-22-31-20-40z" fill="#ffc420"/>
<path d="M100 690c0-7 17-12 25-10c8 2 16 11 25 20c11 11 23 32 40 45c17 13 40 22 60 30c20 8 42 13 60 20c18 7 32 13 50 20c18 7 40 17 60 20c20 3 42-1 60 0c18 1 33 1 50 5c17 4 35 12 50 20c15 8 37 20 40 30c3 10-7 23-20 30c-13 8-40 12-60 15c-20 3-43 6-60 5c-16-1-27-3-40-10c-13-7-22-21-40-30c-18-9-45-20-70-25c-25-5-53-2-80-5c-27-3-57-8-80-15c-23-7-48-16-60-25c-10-8-12-18-10-30c2-12 16-27 20-40c4-13 8-28 5-40c-3-12-25-23-25-30z" fill="#ff9a10"/>
<path d="M140 720c4-7 16 4 25 10c10 8 19 25 35 35c16 10 40 17 60 25c20 8 42 13 60 20c18 7 33 14 50 20c17 6 32 13 50 15c18 2 45-6 60-5c13 1 28 2 30 10c2 8-13 28-20 40c-7 12-12 24-20 30c-8 6-19 10-30 5c-12-6-22-29-40-40c-18-11-47-19-70-25c-23-6-48-6-70-10c-22-4-42-8-60-15c-18-7-40-14-50-25c-10-11-8-25-10-40c-2-15-4-43 0-50z" fill="#ff6a00"/>
<path d="M505 885c3-10 22-25 35-27c13-2 36 5 45 12c9 7 14 21 10 30c-4 9-23 22-35 25c-12 3-31 0-40-7c-9-7-18-23-15-33z" fill="#ff6a00"/>
<path d="M150 720c3-2 15 16 25 25c10 9 19 22 35 30c16 8 40 13 60 20c20 7 51 14 60 20c5 3 1 13-5 15c-8 3-27 5-45 5c-18 0-43 1-60-5c-17-6-29-18-40-30c-11-12-20-27-25-40c-5-13-8-38-5-40z" fill="#ff2a00"/>
<path d="M380 850c4-5 25 1 40 0c15-1 36-8 50-8c14 0 32 1 35 8c3 7-13 24-20 35c-7 11-13 24-20 30c-6 5-13 9-20 5c-7-4-12-23-20-30c-8-7-23-3-30-10c-7-7-19-25-15-30z" fill="#ff2a00"/>
<path d="M520 880c3-6 16-12 25-12c9 0 25 7 30 12c5 5 7 15 3 20c-4 5-19 11-28 12c-9 1-20-2-25-7c-5-5-8-19-5-25z" fill="#ff2a00"/>
<path d="M1020 860c2-12 17-37 30-50c13-13 28-23 50-30c25-8 65-12 100-15c35-3 92-23 110 0c18 23 18 117 0 140c-18 23-75-3-110-5c-35-2-73-2-100-5c-24-2-47-4-60-10c-12-5-22-13-20-25z" fill="#d4c820"/>
<path d="M1050 850c3-10 17-30 30-40c13-10 30-15 50-20c20-5 42-8 70-10c30-2 92-18 110 0c18 18 18 92 0 110c-18 18-77 2-110 0c-33-2-67-7-90-10c-20-3-40-5-50-10c-8-4-13-12-10-20z" fill="#ffc420"/>
<path d="M1080 840c-2-10 17-28 30-35c13-7 30-8 50-10c20-2 45 0 70 0c25 0 67-13 80 0c13 13 18 62 0 75c-18 13-78 6-110 5c-32-1-60-4-80-10c-18-5-38-15-40-25z" fill="#ff9a10"/>
<path d="M1100 835c2-7 17-15 30-20c13-5 36-8 50-7c14 1 30 6 35 12c5 6 3 19-5 25c-8 6-25 11-40 13c-15 2-38 1-50-3c-11-4-22-13-20-20z" fill="#ff6a00"/>
</g></g>
<clipPath id="c6"><rect x="752.0" y="340.0" width="249.0" height="187.0"/></clipPath>
<g clip-path="url(#c6)">
<rect x="752.0" y="340.0" width="249.0" height="187.0" fill="#3c8c64"/>
<g transform="translate(752.0 340.0) scale(0.19529)">
<path d="M-30 -30c75-42 374-12 450 0c28 4-2 48 5 70c7 22 21 40 35 60c14 20 37 37 50 60c13 23 15 68 30 80c15 12 45-10 60-5c15 5 29 21 30 35c1 14-7 40-25 50c-18 10-61 14-85 10c-24-4-40-24-60-35c-20-11-34-25-60-30c-43-7-150-9-200-15c-40-4-67-14-100-18c-33-4-78-6-100-7c-12-1-29 12-30 0c-5-43-75-213 0-255z" fill="#006ca4"/>
<path d="M120 170c2-16 15-44 30-60c15-16 35-30 60-35c25-5 62-3 90 5c28 8 58 28 80 45c22 17 39 43 50 60c9 14 18 28 15 40c-3 12-17 27-35 33c-19 6-53 3-80 2c-27-1-58-7-80-10c-20-3-32-2-50-10c-18-8-47-23-60-35c-12-11-22-19-20-35z" fill="#3c8c64"/>
<path d="M640 130c0-17 20-29 40-40c20-12 52-23 80-30c28-7 70-12 90-10c14 1 28 10 30 20c2 10-7 28-20 40c-13 12-47 18-60 30c-13 12-15 28-20 40c-5 12 0 28-10 35c-10 7-35 14-50 10c-15-4-27-19-40-35c-13-16-40-43-40-60z" fill="#006ca4"/>
<path d="M880 215c-5-13 5-44 10-65c5-21 18-40 20-60c2-20-13-40-10-60c3-20 7-50 30-60c23-10 88-13 110 0c22 13 18 60 20 80c1 16-1 26-10 40c-12 17-58 42-60 60c-2 18 32 33 50 50c18 17 57 42 60 50c3 8-24 2-40 0c-20-2-57-11-80-15c-23-4-43-7-60-10c-16-3-35 3-40-10z" fill="#006ca4"/>
<path d="M495 135c2-5 15-9 25-7c11 2 36 16 40 22c4 6-7 14-15 15c-8 1-27-5-35-10c-8-5-17-15-15-20z" fill="#006ca4"/>
<path d="M440 -30c-21 4 10 36 20 50c10 14 23 26 40 35c17 9 40 17 60 20c20 3 40 4 60 0c20-4 43-16 60-25c17-9 30-17 40-30c10-13 41-46 20-50c-47-8-253-8-300 0z" fill="#48a610"/>
<path d="M475 -30c-18 5 4 33 15 45c11 12 32 19 50 25c18 6 43 12 60 10c17-2 32-7 40-20c8-13 33-52 10-60c-28-10-148-8-175 0z" fill="#94b816"/>
<path d="M-30 285c17-50 92 13 130 20c38 7 67 15 100 20c33 5 67 7 100 10c33 3 68 3 100 10c32 7 67 31 90 30c23-1 37-30 50-35c11-4 23-5 30 5c7 10 2 43 10 55c8 12 23 22 40 20c17-2 43-17 60-30c17-13 23-37 40-50c17-13 38-25 60-30c22-5 42-2 70 0c28 2 67 11 100 15c33 4 67 7 100 10c33 3 60 8 100 10c43 3 133-43 160 5c27 48 18 234 0 280c-16 41-75-4-110-5c-35-1-67-2-100 0c-33 2-67 7-100 10c-33 3-67 3-100 5c-33 2-70 2-100 5c-30 3-55 4-80 10c-25 6-43 17-70 25c-27 8-57 16-90 20c-33 4-75 6-110 5c-35-1-67-7-100-10c-33-3-67-6-100-5c-33 1-67 9-100 10c-33 1-70-3-100-5c-30-2-74 26-80-5c-13-68-22-341 0-405z" fill="#48a610"/>
<path d="M-30 340c20-48 92 4 130 10c38 6 67 19 100 25c33 6 67 7 100 10c33 3 72 1 100 5c28 4 55 10 70 20c15 10 22 27 20 40c-2 13-24 27-30 40c-6 13-8 27-5 40c3 13 13 29 25 40c12 11 30 22 50 25c20 3 42 0 70-5c28-5 81-23 100-25c8-1 18 10 12 15c-8 8-37 22-62 32c-25 10-62 20-90 28c-28 8-53 15-80 20c-27 5-50 9-80 10c-30 1-67-7-100-5c-33 2-67 13-100 15c-33 2-67 2-100 0c-33-2-78-8-100-10c-12-1-29 7-30-5c-5-55-22-273 0-325z" fill="#94b816"/>
<path d="M455 500c1-12 11-25 15-25c4 0 9 14 10 25c1 11-8 28-5 40c3 12 14 27 25 35c11 8 33 10 40 15c5 4 6 14 0 15c-7 1-28 1-40-7c-12-8-28-22-35-38c-7-16-11-46-10-60z" fill="#d4c820"/>
<path d="M725 430c6-11 17-26 35-30c21-5 58-2 90 0c32 2 67 8 100 10c33 2 67 3 100 5c33 2 60 4 100 5c43 1 133-20 160 0c27 20 10 103 0 120c-10 17-42-12-60-20c-18-8-35-24-50-25c-15-1-32 12-40 20c-8 8 2 26-10 30c-18 6-75 9-100 5c-23-4-27-25-50-30c-25-6-67-4-100-5c-33-1-74 3-100 0c-23-3-42-12-55-20c-12-8-17-19-20-30c-3-11-6-24 0-35z" fill="#94b816"/>
<path d="M-30 790c22-32 92 3 130 5c38 2 67 6 100 5c33-1 67-8 100-10c33-2 75-5 100-5c20 0 33 3 50 5c17 2 32 10 50 10c18 0 43-3 60-10c17-7 25-30 40-30c15 0 33 27 50 30c17 3 30-4 50-10c25-8 67-27 100-35c33-8 67-13 100-15c33-2 67-1 100 0c33 1 67 4 100 5c33 1 65 1 100 0c35-1 93-45 110-5c18 42 102 240 0 260c-223 43-1117 33-1340 0c-79-12-22-168 0-200z" fill="#006ca4"/>
<path d="M-30 905c22-16 92-7 130-10c38-3 67-5 100-5c33 0 67 2 100 5c33 3 67 7 100 10c33 3 67 8 100 10c33 2 67 2 100 0c33-2 67-7 100-10c33-3 67-3 100-5c33-2 67-7 100-10c33-3 67-7 100-10c33-3 70-7 100-10c30-3 62-2 80-10c17-7 12-30 30-35c22-7 83-33 100-5c17 28 67 161 0 170c-223 28-1117 14-1340 0c-34-2-22-69 0-85z" fill="#002cf8"/>
</g></g>
<clipPath id="c7"><rect x="255.0" y="278.0" width="249.0" height="124.0"/></clipPath>
<g clip-path="url(#c7)">
<rect x="255.0" y="278.0" width="249.0" height="124.0" fill="#3c8c64"/>
<g transform="translate(255.0 278.0) scale(0.19529)">
<path d="M-30 -30c112-17 558-5 670 0c12 1 10 24 0 30c-13 8-57 8-80 15c-23 7-37 20-60 25c-23 5-55 0-80 5c-25 5-42 19-70 25c-28 6-67 4-100 10c-33 6-68 23-100 25c-32 2-65-10-90-15c-24-5-45-12-60-15c-12-2-27 9-30-3c-5-18-40-96 0-102z" fill="#006ca4"/>
<path d="M-30 120c15-28 60 0 90 5c30 5 58 21 90 25c32 4 70 0 100 0c30 0 55 3 80-2c25-5 52-18 70-28c18-9 21-23 40-30c20-8 53-10 80-15c27-5 57-9 80-15c23-6 43-5 60-20c17-15 8-67 40-70c108-12 508-68 610 0c102 68 10 341 0 410c-3 24-36 2-60 5c-27 3-67 7-100 15c-33 8-67 22-100 30c-33 8-67 13-100 15c-33 2-67-2-100-5c-33-3-72-8-100-15c-28-7-48-16-70-25c-22-9-44-18-60-30c-16-12-28-27-35-40c-7-13-7-25-5-40c2-15 12-35 20-50c8-15 23-28 30-40c6-11 15-25 10-30c-5-5-25-4-40 0c-16 4-42 15-55 25c-13 10-14 23-25 35c-11 12-27 28-40 40c-13 12-23 20-40 30c-17 10-37 22-60 30c-23 8-50 15-80 20c-30 5-67 12-100 10c-33-2-72-12-100-20c-28-8-48-22-70-30c-22-8-52 4-60-20c-10-32-15-142 0-170z" fill="#48a610"/>
<path d="M-30 140c15-21 60 1 90 5c30 4 58 17 90 20c32 3 70 1 100 0c30-1 55-1 80-5c25-4 50-12 70-20c20-8 30-22 50-30c20-8 45-10 70-15c25-5 60-16 80-15c18 1 40 12 40 20c0 8-23 22-40 30c-17 8-40 12-60 20c-20 8-47 17-60 30c-13 13-10 33-20 50c-10 17-23 37-40 50c-17 13-40 22-60 30c-20 8-35 15-60 20c-27 5-67 12-100 10c-33-2-72-12-100-20c-28-8-48-22-70-30c-22-8-51 3-60-20c-10-25-15-109 0-130z" fill="#94b816"/>
<path d="M-30 155c15-16 60 1 90 5c30 4 58 15 90 18c32 3 70 0 100 0c30 0 55 0 80-3c25-3 52-13 70-17c16-4 30-11 40-8c10 3 20 13 20 25c0 12-10 30-20 45c-10 15-25 32-40 45c-15 13-32 23-50 30c-18 7-36 11-60 15c-25 4-58 12-90 10c-32-2-72-12-100-20c-28-8-48-18-70-25c-22-7-50 0-60-20c-10-20-15-84 0-100z" fill="#d4c820"/>
<path d="M-30 170c15-11 60 2 90 5c30 3 58 12 90 15c32 3 70 2 100 2c30 0 55-1 80-4c25-3 52-14 70-16c14-2 30-4 35 3c5 7 3 27-5 40c-8 13-25 24-40 35c-15 11-32 22-50 30c-18 8-37 12-60 15c-23 3-50 7-80 5c-30-2-72-13-100-20c-28-7-48-15-70-22c-22-7-50-3-60-18c-10-15-15-59 0-70z" fill="#ffc420"/>
<path d="M90 215c6-6 25-9 40-10c15-1 38 2 50 7c11 5 20 16 20 23c0 7-9 17-20 20c-12 3-36-1-50-3c-14-2-28-6-35-12c-7-6-11-19-5-25z" fill="#ff9a10"/>
<path d="M255 255c2-9 14-21 25-27c11-6 28-10 40-8c12 2 26 12 30 20c4 8 2 22-5 30c-7 8-23 13-35 15c-12 2-31 0-40-5c-9-5-17-16-15-25z" fill="#ff9a10"/>
<path d="M375 210c2-4 13-12 17-12c4 0 10 9 10 14c0 5-6 12-10 14c-4 2-11 1-14-2c-3-3-5-10-3-14z" fill="#ff9a10"/>
<path d="M-30 190c12-7 50 2 70 5c20 3 41 7 50 15c9 8 12 24 5 30c-7 6-27 9-45 8c-21-1-67-3-80-13c-13-10-12-38 0-45z" fill="#ff9a10"/>
<path d="M70 597c-9-23 0-70 5-100c5-30 16-62 25-80c8-15 13-27 30-30c17-3 42 13 70 15c28 2 63-1 100-5c37-4 90-13 120-20c25-6 40-21 60-25c20-4 40-4 60 3c20 7 35 27 60 42c27 15 58 35 100 50c42 15 100 29 150 40c50 11 103 19 150 25c47 6 98 10 130 10c26 0 52-3 65-10c12-6 15-20 15-30c0-10-4-22-15-30c-12-9-56-17-55-23c1-6 36-10 60-12c28-3 92-40 110-5c18 35 18 184 0 217c-18 33-75-16-110-22c-35-6-67-12-100-15c-33-3-67-6-100-5c-33 1-60 7-100 10c-40 3-98 10-140 10c-42 0-83-8-110-12c-20-3-32-5-50-13c-18-8-43-32-55-33c-12-1-6 20-15 30c-11 11-32 29-50 38c-18 9-38 18-60 18c-22 0-50-17-70-16c-20 1-29 17-50 23c-25 7-72 18-100 17c-28-1-48-12-70-22c-22-10-51-17-60-40z" fill="#006ca4"/>
<path d="M360 437c1-6 9-17 15-18c6-1 17 7 20 13c3 6-1 19-5 23c-4 4-17 5-22 2c-5-3-9-14-8-20z" fill="#3c8c64"/>
</g></g>
<clipPath id="c8"><rect x="503.0" y="278.0" width="249.0" height="124.0"/></clipPath>
<g clip-path="url(#c8)">
<rect x="503.0" y="278.0" width="249.0" height="124.0" fill="#3c8c64"/>
<g transform="translate(503.0 278.0) scale(0.19529)">
<path d="M650 335c5-7 45-18 70-25c25-7 50-11 80-15c30-4 67-7 100-10c33-3 67-4 100-5c33-1 67-2 100-2c33 0 65 0 100 0c35 0 93-39 110 2c18 44 10 222 0 265c-5 23-36-1-60-5c-27-4-67-14-100-20c-33-6-67-11-100-15c-33-4-72-4-100-10c-28-6-45-16-70-25c-25-9-60-18-80-30c-20-11-30-28-40-40c-9-11-8-22-20-30c-12-8-35-9-50-15c-15-6-45-13-40-20z" fill="#006ca4"/>
<path d="M1160 -30c22-12 125-24 150 0c25 24 10 119 0 145c-9 23-40 7-60 10c-20 3-47 14-60 10c-13-4-18-19-20-35c-2-16 7-38 5-60c-2-22-37-58-15-70z" fill="#006ca4"/>
<path d="M-30 415c12-34 60 1 90 5c30 4 58 13 90 20c32 7 70 8 100 20c30 12 55 32 80 50c25 18 56 46 70 60c8 8 20 18 15 25c-5 7-34 3-45 15c-11 12 5 56-20 60c-67 10-317 42-380 0c-63-42-15-213 0-255z" fill="#006ca4"/>
<path d="M-30 -30c125-66 627-12 750 0c28 3-5 48-10 70c-5 22-10 42-20 60c-10 18-42 38-40 50c2 12 28 19 50 25c25 7 67 10 100 15c33 5 67 11 100 15c33 4 67 8 100 10c33 2 70 3 100 0c30-3 55-8 80-15c25-7 48-19 70-25c22-6 50-20 60-10c10 10 10 57 0 70c-10 13-36 3-60 5c-27 2-67 6-100 10c-33 4-67 8-100 12c-33 4-67 7-100 10c-33 3-67 5-100 8c-33 3-72 8-100 12c-28 4-45 9-70 13c-25 4-60 8-80 13c-17 4-43 8-40 17c3 9 43 23 60 35c17 12 32 28 40 40c7 10 13 22 10 30c-3 8-16 15-30 20c-15 5-37 9-60 10c-23 1-50-2-80-5c-30-3-67-11-100-15c-33-4-67-5-100-10c-33-5-67-13-100-20c-33-7-67-12-100-20c-33-8-78-24-100-30c-12-3-29 7-30-5c-5-67-125-329 0-395z" fill="#48a610"/>
<path d="M580 520c8-8 37-12 60-15c23-3 53-2 80 0c27 2 50 6 80 10c30 4 67 10 100 15c33 5 67 10 100 15c33 5 67 10 100 15c33 5 65 10 100 15c35 5 92-1 110 15c18 16 32 76 0 80c-112 13-553 12-670 0c-30-3-22-50-30-70c-8-20-15-37-20-50c-4-12-18-22-10-30z" fill="#48a610"/>
<path d="M600 -30c36 5 2 65 0 90c-2 24 0 43-10 60c-10 17-38 29-50 40c-11 9-28 16-25 25c3 9 24 27 45 30c31 4 92-6 140-5c48 1 102 6 150 10c48 4 115 7 140 12c8 2 18 15 10 18c-15 5-67 8-100 12c-33 4-67 6-100 10c-33 4-67 8-100 13c-33 5-70 10-100 15c-30 5-57 11-80 15c-23 4-60 4-60 10c0 6 40 14 60 25c20 11 47 28 60 40c11 9 23 21 20 30c-3 9-23 21-40 25c-17 4-36 2-60 0c-27-3-67-11-100-15c-33-4-67-5-100-10c-33-5-67-13-100-20c-33-7-67-12-100-20c-33-8-78-24-100-30c-12-3-29 7-30-5c-5-63-105-313 0-375c105-62 525-15 630 0z" fill="#94b816"/>
<path d="M1250 200c1-6 15-12 25-15c10-3 29-12 35-5c6 7 7 38 0 45c-7 7-30 1-40-3c-10-4-21-16-20-22z" fill="#94b816"/>
<path d="M-30 -30c85-58 427-12 510 0c28 4-3 48-10 70c-7 22-20 42-30 60c-10 18-28 35-30 50c-2 15 5 30 20 40c15 11 42 18 70 25c28 7 67 12 100 15c33 3 60 3 100 5c42 2 123 2 150 5c6 1 16 10 10 12c-15 5-70 11-100 16c-30 5-53 8-80 12c-27 4-53 7-80 10c-27 3-53 6-80 10c-27 4-72 5-80 12c-8 7 17 18 30 28c13 10 38 20 50 30c11 9 23 22 20 30c-3 8-22 18-40 20c-20 2-53-2-80-5c-27-3-52-10-80-15c-28-5-58-8-90-15c-32-7-67-16-100-25c-33-9-70-23-100-30c-30-7-73 21-80-10c-13-60-85-292 0-350z" fill="#d4c820"/>
<path d="M-30 -30c68-53 341-22 410 0c50 16 7 100 5 130c-1 21-6 36-15 50c-9 14-32 26-40 35c-6 7-18 16-10 20c12 7 50 15 80 20c30 5 67 7 100 10c33 3 68 3 100 5c32 2 75 1 90 5c7 2 7 15 0 17c-15 4-58 6-90 10c-32 4-72 8-100 13c-28 5-50 9-70 15c-20 6-45 12-50 20c-5 8 10 20 20 30c10 10 35 22 40 30c5 8-2 17-10 20c-10 3-30 2-50 0c-22-2-50-8-80-15c-30-7-67-16-100-25c-33-9-67-20-100-30c-33-10-78-23-100-30c-12-4-29 3-30-10c-5-55-68-267 0-320z" fill="#ffc420"/>
<path d="M40 150c5-13 14-24 30-30c18-7 53-10 80-10c27 0 62 2 80 10c17 8 24 25 25 40c1 15-11 36-20 50c-9 14-17 28-35 35c-18 7-48 11-70 10c-22-1-45-6-60-15c-15-9-25-25-30-40c-5-15-5-37 0-50z" fill="#ff9a10"/>
<path d="M225 290c3-16 19-36 35-45c16-9 37-9 60-7c23 2 55 12 80 17c25 5 67 5 70 10c3 5-32 13-50 20c-18 7-47 16-60 25c-12 8-22 21-20 30c2 9 32 19 30 25c-2 6-25 10-40 10c-15 0-35-4-50-10c-15-6-31-13-40-25c-9-12-18-34-15-50z" fill="#ff9a10"/>
<path d="M100 165c3-5 16-12 25-13c9-1 25 3 30 8c5 5 7 15 3 20c-4 5-19 10-28 10c-9 0-20-4-25-8c-5-4-8-12-5-17z" fill="#ff6a00"/>
</g></g>
<clipPath id="c9"><rect x="752.0" y="278.0" width="249.0" height="124.0"/></clipPath>
<g clip-path="url(#c9)">
<rect x="752.0" y="278.0" width="249.0" height="124.0" fill="#3c8c64"/>
<g transform="translate(752.0 278.0) scale(0.19529)">
<path d="M-30 -30c12-23 55-10 70 0c15 10 18 42 20 60c2 18 0 38-10 50c-10 12-37 20-50 25c-11 4-27 15-30 3c-5-22-12-115 0-138z" fill="#006ca4"/>
<path d="M720 105c5-15 23-35 40-50c17-15 43-32 60-40c15-7 27-12 40-10c13 2 23 20 40 20c17 0 43-11 60-20c17-9 19-32 40-35c37-6 157-9 180 0c23 9-27 39-40 55c-13 16-27 30-40 40c-13 10-23 16-40 20c-17 4-40 7-60 5c-20-2-47-21-60-15c-13 6-10 35-20 50c-10 15-23 31-40 40c-17 9-40 15-60 15c-20 0-45-9-60-15c-13-5-23-10-30-20c-7-10-15-25-10-40z" fill="#006ca4"/>
<path d="M1210 25c3-16 13-46 30-55c17-9 58-20 70 0c12 20 8 101 0 120c-8 18-35-1-50-5c-15-4-32-10-40-20c-8-10-13-24-10-40z" fill="#006ca4"/>
<path d="M-30 290c22-41 92 7 130 10c38 3 67 7 100 10c33 3 67 7 100 10c33 3 78 3 100 10c16 5 21 16 30 30c10 15 17 40 30 60c13 20 37 37 50 60c13 23 15 68 30 80c15 12 45-10 60-5c15 5 29 21 30 35c1 14-7 40-25 50c-18 10-61 14-85 10c-24-4-40-24-60-35c-20-11-34-25-60-30c-43-7-150-9-200-15c-40-4-67-14-100-18c-33-4-78-6-100-7c-12-1-29 12-30 0c-5-43-22-214 0-255z" fill="#006ca4"/>
<path d="M120 490c2-16 15-44 30-60c15-16 35-30 60-35c25-5 62-3 90 5c28 8 58 28 80 45c22 17 39 43 50 60c9 14 18 28 15 40c-3 12-17 27-35 33c-19 6-53 3-80 2c-27-1-58-7-80-10c-20-3-32-2-50-10c-18-8-47-23-60-35c-12-11-22-19-20-35z" fill="#3c8c64"/>
<path d="M640 450c0-17 20-29 40-40c20-12 52-23 80-30c28-7 70-12 90-10c14 1 28 10 30 20c2 10-7 28-20 40c-13 12-47 18-60 30c-13 12-15 28-20 40c-5 12 0 28-10 35c-10 7-35 14-50 10c-15-4-27-19-40-35c-13-16-40-43-40-60z" fill="#006ca4"/>
<path d="M880 535c-5-13 5-44 10-65c5-21 18-40 20-60c2-20-13-45-10-60c3-15 14-25 30-30c17-5 50-3 70 0c20 3 40 10 50 20c10 10 10 28 10 40c0 12-2 20-10 30c-12 15-58 42-60 60c-2 18 32 32 50 50c18 18 57 46 60 55c3 9-24 3-40 0c-20-3-57-15-80-20c-23-5-43-7-60-10c-16-3-35 3-40-10z" fill="#006ca4"/>
<path d="M495 455c2-5 15-9 25-7c11 2 36 16 40 22c4 6-7 14-15 15c-8 1-27-5-35-10c-8-5-17-15-15-20z" fill="#006ca4"/>
<path d="M-30 160c12-22 52-23 70-40c18-17 30-40 40-60c10-20 13-45 20-60c6-13 6-29 20-30c70-5 331-5 400 0c13 1 6 20 15 30c10 12 33 23 45 40c12 17 23 38 30 60c7 22-5 55 10 70c15 15 50 13 80 20c30 7 67 16 100 20c33 4 67 8 100 5c33-3 75-14 100-25c24-10 33-27 50-40c17-13 26-31 50-40c25-9 65-13 100-15c35-2 92-27 110 5c18 32 18 159 0 190c-18 31-75-2-110-5c-35-3-67-14-100-15c-33-1-67 6-100 10c-33 4-70 8-100 15c-30 7-57 17-80 25c-23 8-40 15-60 20c-20 5-42 3-60 10c-18 7-33 22-50 30c-17 8-32 18-50 20c-18 2-40 0-60-5c-20-5-42-14-60-25c-18-11-33-28-50-40c-17-12-28-22-50-30c-22-8-50-11-80-15c-30-4-67-7-100-10c-33-3-67-7-100-10c-33-3-78-7-100-10c-12-1-26 7-30-5c-5-16-12-68 0-90z" fill="#48a610"/>
<path d="M-30 190c12-14 52-22 70-40c18-18 30-48 40-70c10-22 15-42 20-60c5-18-10-47 10-50c67-8 327-5 390 0c13 1-1 21-10 30c-9 9-35 16-45 25c-10 9-21 21-15 30c6 9 30 17 50 25c20 8 51 16 70 25c19 9 30 17 45 30c15 13 27 37 45 50c18 13 35 18 60 25c27 8 67 16 100 20c33 4 67 8 100 5c33-3 75-13 100-25c25-12 33-35 50-50c17-15 26-32 50-40c25-9 65-11 100-12c35-1 92-24 110 4c18 28 18 137 0 163c-18 26-75-2-110-5c-35-3-67-14-100-15c-33-1-67 4-100 7c-33 3-70 4-100 10c-30 6-57 20-80 28c-23 8-40 17-60 20c-20 3-42-3-60 0c-18 3-40 12-50 20c-10 8 1 23-10 30c-12 8-40 14-60 15c-20 1-42-3-60-10c-18-7-37-19-50-30c-13-11-18-25-30-35c-12-10-22-20-40-25c-23-7-67-13-100-17c-33-4-67-7-100-10c-33-3-67-7-100-10c-33-3-78-7-100-10c-12-1-25 2-30-6c-5-8-11-29 0-42z" fill="#94b816"/>
<path d="M240 55c1-15 5-31 15-40c10-9 26-13 45-15c19-2 50 0 70 5c20 5 40 15 50 25c10 10 17 27 10 35c-7 8-35 9-50 15c-15 6-25 13-40 20c-15 7-35 19-50 20c-15 1-32-4-40-15c-8-11-11-35-10-50z" fill="#48a610"/>
<path d="M285 45c3-8 15-18 25-20c10-2 28 3 35 10c7 7 9 22 5 30c-4 8-21 18-30 20c-9 2-19-3-25-10c-6-7-13-22-10-30z" fill="#3c8c64"/>
<path d="M285 -30c-10 2 6 17 15 20c12 4 40 8 60 5c20-3 48-16 60-20c4-2 14-5 10-5c-22-1-123-3-145 0z" fill="#d4c820"/>
<path d="M30 200c3-16 20-47 30-70c10-23 22-48 30-70c8-22 15-45 20-60c4-12-2-25 10-30c12-5 47-10 60 0c13 10 10 40 20 60c10 20 23 43 40 60c17 17 42 35 60 40c18 5 37-13 50-10c13 3 18 22 30 30c12 8 23 16 40 20c17 4 40 3 60 5c20 2 40 1 60 5c20 4 36 12 60 20c27 8 70 22 100 30c30 8 53 15 80 20c27 5 66 4 80 8c6 1 11 12 5 14c-13 4-64 9-85 13c-16 3-27 7-40 10c-13 3-24 4-40 5c-17 1-43 0-60 2c-16 2-24 8-40 10c-17 2-42 5-60 4c-18-1-35-7-50-11c-15-4-25-7-40-13c-15-6-29-17-50-22c-25-6-67-11-100-15c-33-4-67-5-100-7c-33-2-73-4-100-8c-24-4-48-8-60-15c-9-5-12-14-10-25z" fill="#d4c820"/>
<path d="M1020 220c2-12 17-37 30-50c13-13 28-23 50-30c25-8 65-12 100-15c35-3 92-23 110 0c18 23 18 117 0 140c-18 23-75-3-110-5c-35-2-73-2-100-5c-24-2-47-4-60-10c-12-5-22-13-20-25z" fill="#d4c820"/>
<path d="M60 190c0-14 13-38 20-60c7-22 13-50 20-70c7-20 13-45 20-50c7-5 12 12 20 20c10 11 23 30 40 45c17 15 40 33 60 45c20 12 43 20 60 25c15 5 27 1 40 5c13 4 25 14 40 20c15 6 30 12 50 15c20 3 48-2 70 0c22 2 40 4 60 10c20 6 37 16 60 25c23 9 57 22 80 30c23 8 60 15 60 20c0 5-42 9-60 12c-18 3-33 5-50 8c-17 3-32 8-50 10c-18 2-43 3-60 2c-16-1-25-6-40-10c-15-4-33-9-50-14c-17-5-30-12-50-18c-20-6-45-12-70-15c-25-3-50-3-80-5c-30-2-72-4-100-8c-28-4-55-10-70-17c-12-5-20-12-20-25z" fill="#ffc420"/>
<path d="M1050 210c3-10 17-30 30-40c13-10 30-15 50-20c20-5 42-8 70-10c30-2 92-18 110 0c18 18 18 92 0 110c-18 18-77 2-110 0c-33-2-67-7-90-10c-20-3-40-5-50-10c-8-4-13-12-10-20z" fill="#ffc420"/>
<path d="M100 170c0-16 6-48 10-70c4-22 8-53 15-60c7-7 16 11 25 20c11 11 23 32 40 45c17 13 40 22 60 30c20 8 42 13 60 20c18 7 32 13 50 20c18 7 40 17 60 20c20 3 42-1 60 0c18 1 33 1 50 5c17 4 35 12 50 20c15 8 37 20 40 30c3 10-7 23-20 30c-13 8-40 13-60 15c-20 2-43-2-60-5c-17-3-27-8-40-15c-13-7-22-19-40-25c-18-7-45-12-70-15c-25-3-53-2-80-5c-27-3-57-9-80-15c-23-6-48-13-60-20c-9-6-10-14-10-25z" fill="#ff9a10"/>
<path d="M1080 200c-2-10 17-28 30-35c13-7 30-8 50-10c20-2 45 0 70 0c25 0 67-13 80 0c13 13 18 62 0 75c-18 13-78 6-110 5c-32-1-60-4-80-10c-18-5-38-15-40-25z" fill="#ff9a10"/>
<path d="M140 110c4-7 15-12 25-10c10 2 20 17 35 25c16 8 40 17 60 25c20 8 42 13 60 20c18 7 33 14 50 20c17 6 32 13 50 15c18 2 45-6 60-5c13 1 28 2 30 10c2 8-13 28-20 40c-7 12-12 24-20 30c-8 6-19 10-30 5c-12-6-22-29-40-40c-18-11-47-19-70-25c-23-6-48-6-70-10c-22-4-42-8-60-15c-18-7-40-16-50-25c-9-9-8-20-10-30c-2-10-4-23 0-30z" fill="#ff6a00"/>
<path d="M505 245c3-10 22-25 35-27c13-2 36 5 45 12c9 7 14 21 10 30c-4 9-23 22-35 25c-12 3-31 0-40-7c-9-7-18-23-15-33z" fill="#ff6a00"/>
<path d="M1100 195c2-7 17-15 30-20c13-5 36-8 50-7c14 1 30 6 35 12c5 6 3 19-5 25c-8 6-25 11-40 13c-15 2-38 1-50-3c-11-4-22-13-20-20z" fill="#ff6a00"/>
<path d="M150 80c3-2 15 16 25 25c10 9 19 22 35 30c16 8 40 13 60 20c20 7 51 14 60 20c5 3 1 13-5 15c-8 3-27 5-45 5c-18 0-43 1-60-5c-17-6-29-18-40-30c-11-12-20-27-25-40c-5-13-8-38-5-40z" fill="#ff2a00"/>
<path d="M380 210c4-5 25 1 40 0c15-1 36-8 50-8c14 0 32 1 35 8c3 7-13 24-20 35c-7 11-13 24-20 30c-6 5-13 9-20 5c-7-4-12-23-20-30c-8-7-23-3-30-10c-7-7-19-25-15-30z" fill="#ff2a00"/>
<path d="M520 240c3-6 16-12 25-12c9 0 25 7 30 12c5 5 7 15 3 20c-4 5-19 11-28 12c-9 1-20-2-25-7c-5-5-8-19-5-25z" fill="#ff2a00"/>
</g></g>
<clipPath id="c10"><rect x="380.0" y="250.0" width="249.0" height="124.0"/></clipPath>
<g clip-path="url(#c10)">
<rect x="380.0" y="250.0" width="249.0" height="124.0" fill="#94b816"/>
<g transform="translate(380.0 250.0) scale(0.19529)">
<path d="M-30 -30c98-37 495-8 590 0c21 2-13 35-20 50c-7 15-10 30-20 40c-10 10-24 12-40 20c-17 8-38 22-60 30c-22 8-50 18-70 20c-20 2-33-9-50-10c-17-1-30 7-50 5c-20-3-48-19-70-20c-22-1-40 7-60 15c-20 8-36 19-60 30c-25 12-75 70-90 40c-15-30-82-189 0-220z" fill="#48a610"/>
<path d="M-30 -30c30-34 148-10 180 0c24 7 7 47 15 60c8 13 19 19 35 20c22 2 70-4 100-10c30-6 60-25 80-25c19 0 37 16 40 25c3 9-7 24-20 30c-15 8-45 10-70 15c-25 5-55 13-80 15c-25 2-52 1-70 0c-16-1-27-9-40-5c-13 4-23 20-40 30c-17 10-38 22-60 30c-22 8-60 47-70 20c-12-31-30-171 0-205z" fill="#3c8c64"/>
<path d="M-30 -30c26-32 128-12 155 0c26 11 6 52 10 70c3 15 19 23 13 35c-6 12-30 24-48 35c-18 11-38 22-60 30c-22 8-59 47-70 20c-12-28-26-158 0-190z" fill="#006ca4"/>
<path d="M-30 190c6-23 46-7 60 5c14 12 22 43 25 65c3 22 0 47-5 70c-5 23-17 54-25 70c-7 13-16 20-25 25c-9 5-28 17-30 5c-5-39-10-201 0-240z" fill="#48a610"/>
<path d="M650 70c5-12 28-15 40-10c12 5 23 23 30 40c7 17 15 48 10 60c-5 12-28 15-40 10c-12-5-23-23-30-40c-7-17-15-48-10-60z" fill="#48a610"/>
<path d="M715 -30c54-8 277-7 325 0c22 3-19 31-40 40c-23 10-67 18-100 20c-33 2-73-7-100-5c-25 2-46 16-60 15c-13-1-21-8-25-20c-4-12-20-47 0-50z" fill="#48a610"/>
<path d="M900 150c0-7 17-23 30-30c13-7 38-12 50-10c12 2 25 12 25 20c0 8-13 20-25 25c-12 5-37 8-50 7c-13-1-30-5-30-12z" fill="#48a610"/>
<path d="M1310 70c-8-28-54 8-70 15c-13 5-20 14-25 25c-5 11-7 25-5 40c2 15 22 32 20 50c-2 18-17 43-30 60c-13 17-41 28-50 40c-8 10-10 22-5 30c5 8 19 18 35 20c16 2 38-2 60-5c22-3 63 13 70-15c12-46 12-219 0-260z" fill="#48a610"/>
<path d="M-30 535c15-21 60 5 90 10c30 5 58 17 90 23c32 6 67 12 100 14c33 2 72 0 100-5c28-5 48-17 70-25c22-8 37-18 60-24c23-6 53-6 80-10c27-4 57-12 80-13c23-1 40 3 60 7c20 4 40 10 60 16c20 6 37 12 60 17c23 5 55 8 80 11c25 3 43 3 72 6c31 4 78 10 115 15c37 5 81 15 106 13c21-2 27-19 47-25c20-6 58-27 70-10c12 17 46 111 0 115c-223 19-1117 22-1340 0c-54-5-15-114 0-135z" fill="#48a610"/>
<path d="M-30 575c15-14 60 6 90 10c30 4 58 11 90 15c32 4 67 9 100 10c33 1 72 0 100-5c28-5 48-17 70-25c22-8 37-19 60-25c23-6 53-6 80-10c27-4 57-13 80-15c23-2 40 2 60 5c20 3 40 9 60 15c20 6 35 13 60 18c27 5 71 9 101 14c30 5 51 11 79 18c28 7 55 19 87 22c32 3 69-4 106-5c37-1 97-12 117-3c20 9 22 55 0 56c-223 9-1117 16-1340 0c-38-3-15-81 0-95z" fill="#3c8c64"/>
<path d="M520 580c12-8 35-18 60-20c27-2 70 2 100 5c30 3 55 9 80 15c25 6 50 10 70 20c20 10 42 28 50 40c7 10 12 29 0 30c-63 5-318 10-380 0c-24-4 2-45 5-60c3-13 4-23 15-30z" fill="#006ca4"/>
<path d="M-30 600c12-10 52 3 70 10c18 7 33 20 40 30c7 10 12 27 0 30c-18 5-92 12-110 0c-18-12-12-60 0-70z" fill="#006ca4"/>
<path d="M1310 430c-18-18-83 1-110 5c-21 3-39 13-50 20c-10 7-17 14-15 25c2 11 14 27 25 40c11 13 18 36 40 40c25 4 92 7 110-15c18-22 18-97 0-115z" fill="#48a610"/>
<path d="M1310 462c-13-11-62 1-80 6c-14 4-28 12-30 22c-2 10 5 30 15 40c10 10 29 17 45 18c16 1 42 1 50-13c8-14 13-62 0-73z" fill="#3c8c64"/>
<path d="M-30 455c8-12 35-13 50-25c15-12 30-28 40-50c10-22 18-55 20-80c2-25-3-48-5-70c-2-22-17-42-5-60c12-18 50-40 80-45c30-5 67 11 100 15c33 4 72 12 100 10c28-2 48-12 70-20c22-8 42-22 60-25c18-3 37 3 50 10c13 7 18 22 30 35c12 13 25 34 40 45c15 11 33 17 50 20c17 3 30 2 50 0c25-3 67-11 100-15c33-4 67-6 100-10c33-4 67-9 100-12c33-3 81-15 100-8c19 7 14 32 12 50c-2 18-17 42-27 60c-10 18-31 37-35 50c-4 12-1 23 10 30c12 8 37 11 60 15c23 4 48 9 80 10c32 1 92-13 110-7c16 5 10 34 0 42c-10 8-38 2-60 5c-22 3-50 8-70 15c-20 7-45 12-50 25c-5 13 13 40 20 55c7 15 28 25 20 35c-8 10-42 21-70 23c-28 2-67-8-100-13c-33-5-70-13-100-20c-30-7-57-17-80-25c-23-8-40-15-60-20c-20-5-40-9-60-12c-20-3-37-9-60-8c-23 1-53 11-80 15c-27 4-57 5-80 10c-23 5-38 15-60 23c-22 8-42 18-70 22c-28 4-67 7-100 5c-33-2-68-8-100-15c-32-7-60-18-90-25c-30-7-75-5-90-15c-15-10-8-33 0-45z" fill="#d4c820"/>
<path d="M585 70c1-6 9-15 15-15c6 0 16 7 18 13c2 6-4 17-8 20c-4 3-14 3-18 0c-4-3-8-12-7-18z" fill="#d4c820"/>
<path d="M130 330c0-20 15-55 20-80c5-25 2-51 10-70c8-19 20-40 40-45c20-5 55 10 80 15c25 5 47 15 70 15c23 0 50-10 70-15c20-5 33-15 50-15c17 0 35 6 50 15c15 9 27 29 40 40c13 11 25 18 40 25c15 7 30 17 50 20c20 3 45-1 70-3c25-2 50-6 80-7c30-1 70 1 100 3c30 2 62 2 80 7c15 4 28 14 30 25c2 11-10 28-20 40c-10 12-35 19-40 30c-5 11 2 26 10 35c8 9 22 17 40 20c23 5 67 5 100 7c33 2 65 8 100 8c35 0 92-7 110-5c7 1 7 16 0 17c-18 3-75 2-110 3c-35 1-77 1-100 5c-18 3-37 10-40 20c-3 10 13 27 20 40c7 13 23 30 20 40c-3 10-22 18-40 20c-20 2-53-2-80-5c-27-3-55-8-80-15c-25-7-50-17-70-25c-20-8-35-16-50-25c-15-9-27-20-40-30c-13-10-27-23-40-30c-13-7-27-8-40-10c-13-2-30-7-40 0c-10 7-15 25-20 40c-5 15-2 40-10 50c-8 10-28 13-40 10c-12-3-22-18-30-30c-8-12-12-35-20-40c-8-5-20 10-30 10c-10 0-18-7-30-10c-12-3-24-9-40-10c-18-2-47 2-70 0c-23-2-48-4-70-10c-22-6-42-18-60-25c-18-7-38-6-50-15c-12-9-20-22-20-40z" fill="#ffc420"/>
<path d="M40 470c0-10 7-24 20-30c13-7 43-12 60-10c17 2 33 10 40 20c7 10 8 31 0 40c-8 9-33 14-50 15c-17 1-38-1-50-7c-12-6-20-18-20-28z" fill="#ffc420"/>
<path d="M190 500c2-8 23-15 40-18c18-3 50-3 70 0c20 3 43 11 50 18c7 7 0 20-10 25c-12 6-40 9-60 10c-20 1-45 1-60-5c-15-6-32-22-30-30z" fill="#ffc420"/>
<path d="M127 352c2-14 20-42 26-60c6-18 6-34 10-50c4-16 11-32 15-45c4-13 4-25 12-33c8-8 19-14 33-17c14-3 34-1 50 2c16 3 33 13 45 13c11 0 15-7 25-10c11-3 28-9 41-8c13 1 28 8 35 15c7 7 5 29 10 28c5-1 13-31 20-33c7-2 14 16 25 23c11 7 27 15 40 20c13 5 25 7 40 10c15 3 36 1 50 8c14 7 20 28 36 35c16 7 37 7 60 8c23 1 55-4 80-3c25 1 52 1 70 7c17 6 30 17 35 28c5 11 1 27-5 40c-6 13-17 29-30 40c-13 11-32 20-50 25c-18 5-42 7-60 5c-18-2-35-10-50-15c-15-5-25-15-40-15c-15 0-34 10-50 15c-16 5-30 12-46 18c-16 6-33 15-50 20c-17 5-33 10-50 10c-17 0-33-8-50-10c-17-2-34 2-51 0c-17-2-33-7-50-10c-17-3-35-8-50-10c-15-2-27 3-40 0c-13-3-23-15-35-20c-12-5-26-5-35-10c-9-5-17-11-16-21z" fill="#ff9a10"/>
<path d="M190 262c-1-13 0-38 5-55c5-17 13-39 25-48c12-9 31-10 48-7c17 3 43 14 53 25c10 11 8 31 5 40c-3 9-14 9-23 15c-10 6-23 11-35 20c-12 9-29 29-40 35c-9 5-19 4-25 0c-6-4-12-14-13-25z" fill="#ff6a00"/>
<path d="M253 332c3-16 18-33 30-45c12-12 27-21 40-25c13-4 27-4 40 0c13 4 27 16 41 25c14 9 27 22 40 30c13 8 25 21 40 20c15-1 33-17 50-25c17-8 33-19 50-25c17-6 41-14 50-10c9 4 10 24 5 35c-5 11-21 22-35 30c-14 8-33 13-50 20c-17 7-37 14-50 20c-12 6-17 11-30 16c-13 5-33 14-50 15c-17 1-32-8-51-10c-19-2-42 3-60 0c-18-3-40-8-50-20c-10-12-13-35-10-51z" fill="#ff6a00"/>
<path d="M464 227c2-7 18-13 30-15c12-2 32 0 40 5c8 5 13 19 10 25c-3 6-19 8-30 10c-11 2-27 4-35 0c-8-4-17-18-15-25z" fill="#ff6a00"/>
<path d="M223 232c-1-8 6-19 10-30c4-11 8-30 15-35c7-5 15 2 25 5c11 3 33 8 40 15c7 7 8 23 5 30c-3 7-16 5-25 10c-9 5-21 16-30 20c-9 4-18 7-25 5c-7-2-14-12-15-20z" fill="#ff2a00"/>
<path d="M328 287c5-8 16-13 25-15c9-2 23 0 31 5c8 5 15 16 20 25c5 9 7 18 10 30c3 12 12 29 10 40c-2 11-12 26-20 26c-8 0-16-19-30-26c-14-7-42-7-51-15c-9-8-1-23 0-35c1-12 0-27 5-35z" fill="#ff2a00"/>
<path d="M434 352c-1-8 4-18 10-20c6-2 18 5 25 10c7 5 19 12 20 20c1 8-8 23-15 26c-7 3-18-4-25-10c-7-6-14-18-15-26z" fill="#ff2a00"/>
<path d="M333 217c-1-8 3-23 10-30c7-7 20-12 30-10c10 2 24 12 31 20c7 8 10 21 10 30c0 9-3 22-10 25c-7 3-22-2-31-5c-9-3-18-5-25-10c-7-5-14-12-15-20z" fill="#ffc420"/>
<path d="M348 212c0-6 5-19 10-23c5-4 12-4 18 0c7 5 19 19 23 28c4 9 5 21 2 25c-3 4-15 0-22-3c-7-3-16-7-21-12c-5-5-10-9-10-15z" fill="#d4c820"/>
<path d="M454 302c0-8 12-13 20-15c8-2 22 0 30 5c8 5 15 18 15 25c0 7-7 17-15 20c-8 3-22 1-30-5c-8-6-20-22-20-30z" fill="#ffc420"/>
<path d="M850 420c8-12 28-19 50-25c22-6 53-10 80-10c27 0 60 6 80 10c17 3 40 8 40 13c0 5-24 10-40 17c-17 7-47 14-60 25c-13 11-10 30-20 40c-10 10-23 18-40 20c-17 2-45-3-60-10c-15-7-25-17-30-30c-5-13-8-38 0-50z" fill="#ff9a10"/>
<path d="M725 320c1-6 12-16 20-18c8-2 23 0 30 3c7 3 16 11 15 17c-1 6-12 13-20 16c-8 3-22 3-30 0c-8-3-16-12-15-18z" fill="#ff6a00"/>
<path d="M640 295c1-6 7-18 10-17c3 1 6 15 6 22c0 7-2 16-4 18c-2 2-7-2-9-6c-2-4-4-11-3-17z" fill="#ff2a00"/>
<path d="M668 340c1-5 8-8 12-5c4 3 10 17 12 25c2 8 4 20 2 25c-2 5-8 6-12 3c-4-3-8-15-10-23c-2-8-5-20-4-25z" fill="#ff2a00"/>
</g></g>
<clipPath id="c11"><rect x="255.0" y="624.0" width="249.0" height="186.0"/></clipPath>
<g clip-path="url(#c11)">
<rect x="255.0" y="624.0" width="249.0" height="186.0" fill="#3c8c64"/>
<g transform="translate(255.0 624.0) scale(0.19529)">
<path d="M-30 190c2-28 48 0 70-5c22-5 34-20 60-25c27-5 67-6 100-5c33 1 70 6 100 10c30 4 57 8 80 15c23 7 37 21 60 25c23 4 53 2 80 0c27-2 50-7 80-10c30-3 67-7 100-10c33-3 67-7 100-10c33-3 67-3 100-5c33-2 67 0 100-5c33-5 70-21 100-25c30-4 58-4 80 0c22 4 28 19 50 25c22 6 77-22 80 10c13 136 223 671 0 805c-223 134-1117 132-1340 0c-223-132-12-658 0-790z" fill="#48a610"/>
<path d="M-30 520c2-12 18-2 30-5c15-3 38-12 60-15c22-3 47-8 70-5c23 3 50 17 70 25c20 8 33 23 50 20c17-3 37-28 50-40c13-11 14-24 30-30c17-6 52-10 70-5c18 5 23 26 40 35c17 9 43 13 60 20c17 7 25 28 40 20c15-8 33-54 50-70c16-15 28-22 50-25c22-3 58 3 80 5c20 2 45-2 50 10c5 12-15 43-20 60c-5 16-5 27-10 40c-5 13-10 27-20 40c-10 13-23 28-40 40c-17 12-53 20-60 30c-7 10 20 18 20 30c0 12-7 28-20 40c-13 12-40 23-60 30c-20 7-36 8-60 10c-27 2-67 6-100 5c-33-1-67-7-100-10c-33-3-67-6-100-10c-33-4-73-7-100-15c-26-7-43-22-60-30c-16-8-28-17-40-20c-12-3-28 12-30 0c-5-30-5-149 0-180z" fill="#3c8c64"/>
<path d="M55 630c5-6 33-10 45-20c12-10 13-29 30-40c17-11 48-19 70-25c22-6 40-10 60-10c20 0 40 8 60 10c20 2 40-2 60 0c20 2 40 4 60 10c20 6 47 14 60 25c13 11 13 27 20 40c7 13 12 28 20 40c8 12 30 23 30 30c0 7-18 10-30 10c-12 0-24-7-40-10c-17-3-40-10-60-10c-20 0-45 2-60 10c-15 8-13 29-30 40c-17 11-47 22-70 25c-23 3-47-4-70-10c-23-6-52-23-70-25c-16-2-35 15-40 10c-5-5 7-27 10-40c3-13 17-32 10-40c-7-8-39-2-50-5c-8-2-20-9-15-15z" fill="#006ca4"/>
<path d="M590 600c7-8 38-20 50-30c11-9 10-24 20-30c10-6 30-8 40-5c10 3 22 14 20 25c-2 11-22 28-30 40c-8 12-10 28-20 35c-10 7-28 7-40 5c-12-2-23-13-30-20c-6-6-16-13-10-20z" fill="#006ca4"/>
<path d="M8 52c6-4 28-4 34 0c6 4 6 20 0 24c-6 4-28 4-34 0c-6-4-6-20 0-24z" fill="#006ca4"/>
<path d="M60 295c3-6 28-18 40-20c12-2 27 5 30 10c3 5-2 16-10 20c-8 5-30 9-40 7c-10-2-23-11-20-17z" fill="#94b816"/>
<path d="M285 285c4-3 19-7 25-5c6 2 14 13 12 18c-2 5-16 10-22 10c-6 0-12-4-15-8c-3-4-4-12 0-15z" fill="#94b816"/>
<path d="M65 440c3-12 21-32 35-40c14-8 33-7 50-5c17 2 39 8 50 15c10 6 20 18 15 25c-5 7-31 9-45 15c-14 6-25 17-40 20c-15 3-39 5-50 0c-11-5-18-18-15-30z" fill="#94b816"/>
<path d="M800 500c7-12 18-20 30-30c12-10 32-18 40-30c8-12-2-28 10-40c13-13 42-32 70-40c28-8 70-9 100-10c30-1 55 10 80 5c25-5 40-27 70-35c30-8 103-59 110-15c18 110 112 563 0 675c-112 112-561 13-670 0c-32-4 10-53 15-80c5-27 7-53 13-80c6-27 12-55 22-80c10-25 27-52 40-70c13-18 28-25 40-40c12-15 27-35 30-50c3-15-10-27-10-40c0-13 3-28 10-40z" fill="#94b816"/>
<path d="M960 410c6-7 31-13 40-10c9 3 17 22 15 30c-2 8-17 18-25 20c-8 2-20-3-25-10c-5-7-11-23-5-30z" fill="#d4c820"/>
<path d="M900 465c2-4 16-9 20-7c4 2 8 13 5 17c-3 4-16 7-20 5c-4-2-7-11-5-15z" fill="#d4c820"/>
<path d="M-30 770c12-30 58 2 80 5c21 3 29 12 50 15c25 4 67 8 100 10c33 2 67 5 100 5c33 0 75-3 100-5c20-2 37-10 50-10c13 0 27 2 30 10c3 8-3 27-10 40c-7 13-18 28-30 40c-12 12-28 20-40 30c-12 10-23 18-30 30c-7 12 6 38-10 40c-67 7-325 35-390 0c-65-35-13-176 0-210z" fill="#94b816"/>
<path d="M-30 790c12-29 58-2 80 0c21 2 29 12 50 15c25 4 67 8 100 10c33 2 67 3 100 3c33 0 77-6 100-6c16 0 32-3 40 3c8 6 8 23 5 35c-3 12-16 24-25 35c-9 11-20 20-30 30c-10 10-23 19-30 30c-7 11 5 34-10 35c-65 6-317 32-380 0c-63-32-13-158 0-190z" fill="#d4c820"/>
<path d="M-30 805c13-29 58 1 80 3c20 2 30 9 50 12c25 3 67 6 100 8c33 2 70 3 100 2c30-1 60-10 80-10c16 0 32 3 40 10c8 7 8 20 5 30c-3 10-16 20-25 30c-9 10-20 20-30 30c-10 10-23 20-30 30c-7 10 3 29-10 30c-62 5-300 29-360 0c-60-29-13-146 0-175z" fill="#ffc420"/>
<path d="M80 850c2-6 12-13 20-15c8-2 23 0 30 3c7 3 12 12 10 17c-2 5-12 13-20 15c-8 2-23 1-30-2c-7-3-12-12-10-18z" fill="#ff9a10"/>
<path d="M150 820c3-4 18-9 25-8c7 1 15 8 15 13c0 5-9 13-15 15c-6 2-16 1-20-2c-4-3-8-14-5-18z" fill="#ff9a10"/>
<path d="M190 850c2-8 15-18 25-20c10-2 27 0 35 5c8 5 17 17 15 25c-2 8-15 18-25 20c-10 2-27 0-35-5c-8-5-17-17-15-25z" fill="#ff9a10"/>
<path d="M360 830c5-6 18-16 25-15c7 1 13 13 15 20c2 7 0 20-5 25c-5 5-18 7-25 5c-7-2-13-9-15-15c-2-6 0-14 5-20z" fill="#ff9a10"/>
<path d="M20 885c7-6 25-13 40-15c15-2 35 2 50 5c15 3 38 5 40 10c2 5-16 15-30 20c-15 5-43 10-60 10c-16 0-33-5-40-10c-6-5-6-15 0-20z" fill="#ff9a10"/>
<path d="M-30 915c12-10 48 3 70 5c22 2 48 0 60 10c12 10 29 43 10 50c-22 8-117 11-140 0c-23-11-12-55 0-65z" fill="#d4c820"/>
<path d="M-30 930c12-8 50-3 70 0c20 3 40 12 50 20c10 8 22 27 10 30c-20 5-108 8-130 0c-19-7-12-42 0-50z" fill="#94b816"/>
<path d="M430 920c6-18 12-35 20-50c8-15 18-27 30-40c12-13 27-29 40-40c13-11 23-17 40-25c17-8 47-24 60-25c11-1 18 9 20 20c4 20 8 73 5 100c-2 25-13 40-20 60c-7 20 0 53-25 60c-35 10-157 10-185 0c-23-8 9-42 15-60z" fill="#3c8c64"/>
</g></g>
<clipPath id="c12"><rect x="255.0" y="810.0" width="249.0" height="187.0"/></clipPath>
<g clip-path="url(#c12)">
<rect x="255.0" y="810.0" width="249.0" height="187.0" fill="#3c8c64"/>
<g transform="translate(255.0 810.0) scale(0.19529)">
<path d="M80 -30c-26 5 17 44 30 60c13 16 32 27 50 35c18 8 37 14 60 15c23 1 53-3 80-10c27-7 58-13 80-30c22-17 84-62 50-70c-50-12-297-10-350 0z" fill="#48a610"/>
<path d="M110 -30c-23 4 17 38 30 50c13 12 32 20 50 25c18 5 38 6 60 5c22-1 48-3 70-10c22-7 47-18 60-30c13-12 38-37 20-40c-45-7-247-8-290 0z" fill="#94b816"/>
<path d="M150 -30c-19 5 17 31 30 40c13 9 32 14 50 15c18 1 43 2 60-7c17-9 63-40 40-48c-23-8-155-7-180 0z" fill="#d4c820"/>
<path d="M190 -30c-12 5 13 24 25 30c12 6 33 10 45 5c12-5 42-29 30-35c-12-6-88-5-100 0z" fill="#ffc420"/>
<path d="M-30 35c12-6 48-3 70 0c22 3 45 13 60 20c14 7 30 20 30 25c0 5-18 6-30 5c-15-1-38-7-60-10c-22-3-58 2-70-5c-12-7-12-29 0-35z" fill="#006ca4"/>
<path d="M90 200c1-12 3-23 10-35c7-12 20-24 30-35c10-11 14-25 30-30c20-7 62-5 90-10c28-5 58-15 80-20c20-5 40-13 50-10c10 3 13 18 10 30c-3 12-32 32-30 40c2 8 27 12 40 10c13-2 27-22 40-25c13-3 25 1 40 5c15 4 40 12 50 20c10 8 11 17 10 30c-2 15-12 43-20 60c-8 17-17 33-30 40c-13 7-35 2-50 0c-15-2-28-7-40-10c-12-3-20-15-30-10c-10 5-18 30-30 40c-12 10-22 16-40 20c-20 4-58 7-80 5c-21-2-33-7-50-15c-17-8-38-20-50-30c-12-10-20-18-25-30c-5-12-6-28-5-40z" fill="#006ca4"/>
<path d="M470 -30c-31 2 32 42 50 60c18 18 33 32 60 45c27 13 63 25 100 35c37 10 83 18 120 25c37 7 67 12 100 15c33 3 70 8 100 5c30-3 55-13 80-20c25-7 42-17 70-25c28-8 73-17 100-20c24-3 50 20 60 0c10-20 48-113 0-120c-140-20-708-10-840 0z" fill="#48a610"/>
<path d="M520 -30c-27 2 23 39 40 55c17 16 34 28 60 40c27 12 67 22 100 30c33 8 67 15 100 20c33 5 70 8 100 10c30 2 53 3 80 0c27-3 55-13 80-20c25-7 41-21 70-25c38-5 133 13 160-5c27-18 42-99 0-105c-132-18-665-9-790 0z" fill="#94b816"/>
<path d="M550 -30c-26 2 23 37 40 50c17 13 34 22 60 30c27 8 67 13 100 20c33 7 67 15 100 20c33 5 70 10 100 10c30 0 57-5 80-10c23-5 35-14 60-20c28-7 73-17 110-20c37-3 92 13 110 0c18-13 32-77 0-80c-127-13-640-8-760 0z" fill="#d4c820"/>
<path d="M590 -30c-20 2 13 30 30 40c18 11 50 19 80 25c30 6 70 5 100 10c30 5 55 15 80 20c25 5 48 10 70 10c22 0 43-4 60-10c17-6 30-9 40-25c10-16 49-66 20-70c-77-12-405-7-480 0z" fill="#ffc420"/>
<path d="M640 -30c-12 7 10 32 20 40c10 8 28 11 40 10c12-1 24-7 30-15c6-8 18-30 5-35c-15-6-83-7-95 0z" fill="#ff9a10"/>
<path d="M900 50c-5-8 10-22 20-35c10-13 17-38 40-45c23-8 87-8 100 0c13 8-10 37-20 50c-10 13-25 23-40 30c-15 7-33 10-50 10c-17 0-45-2-50-10z" fill="#ff9a10"/>
<path d="M1235 180c-3-12 3-30 10-40c7-10 19-16 30-20c11-4 30-18 35-5c6 14 8 74 0 90c-8 16-38 9-50 5c-12-4-22-18-25-30z" fill="#006ca4"/>
<path d="M-30 320c10-35 60 4 90 10c30 6 58 20 90 25c32 5 67 7 100 5c33-2 67-12 100-15c33-3 67-3 100-5c33-2 67-9 100-10c33-1 67 4 100 5c33 1 60 0 100 0c42 0 108 1 150 0c40-1 70-1 100-5c30-4 60-10 80-20c20-10 23-35 40-40c17-5 43 0 60 10c17 10 28 35 40 50c12 15 15 32 30 40c15 8 56-19 60 5c10 53 18 263 0 315c-15 42-75-3-110-5c-35-2-67-3-100-5c-33-2-67-7-100-10c-33-3-67-9-100-10c-33-1-67 2-100 5c-33 3-67 11-100 15c-33 4-67 6-100 10c-33 4-67 13-100 15c-33 2-67-1-100-5c-33-4-67-13-100-20c-33-7-67-13-100-20c-33-7-67-16-100-20c-33-4-78-4-100-5c-12 0-29 12-30 0c-5-53-15-264 0-315z" fill="#48a610"/>
<path d="M-30 370c22-36 92 12 130 15c38 3 67 4 100 5c33 1 67-1 100 0c33 1 67 3 100 5c33 2 67 3 100 5c33 2 67 2 100 5c33 3 67 7 100 10c33 3 67 3 100 5c33 2 67 4 100 5c33 1 67 0 100 0c33 0 67 1 100 0c33-1 65-5 100-5c35 0 92-35 110 5c18 41 18 203 0 240c-18 37-75-11-110-15c-35-4-67-8-100-10c-33-2-67-3-100-5c-33-2-67-4-100-5c-33-1-67-2-100 0c-33 2-67 8-100 10c-33 2-67 3-100 5c-33 2-67 5-100 5c-33 0-67-2-100-5c-33-3-67-6-100-10c-33-4-67-10-100-15c-33-5-67-12-100-15c-33-3-78-4-100-5c-12 0-28 12-30 0c-5-38-22-194 0-230z" fill="#94b816"/>
<path d="M650 460c5-3 30-7 35-5c5 2 0 14-5 17c-5 3-20 2-25 0c-5-2-10-9-5-12z" fill="#d4c820"/>
<path d="M930 505c2-4 18-3 30 0c12 3 35 14 40 20c5 5-3 14-10 15c-8 1-30-4-40-10c-10-6-22-21-20-25z" fill="#d4c820"/>
<path d="M-30 455c11-2 54 3 65 7c6 2 6 15 0 16c-11 2-54 1-65-3c-8-3-8-18 0-20z" fill="#d4c820"/>
<path d="M-30 760c2-12 18-1 30 0c22 2 67 8 100 10c33 2 67 5 100 5c33 0 67-4 100-5c33-1 75 3 100 0c21-3 30-14 50-20c20-6 45-11 70-15c25-4 50-9 80-10c30-1 73-1 100 5c26 6 43 24 60 30c15 5 24 7 40 5c17-3 35-15 60-20c25-5 58-7 90-10c32-3 67-5 100-5c33 0 60 4 100 5c43 1 133-43 160 0c27 43 100 236 0 255c-223 42-1117 38-1340 0c-91-16-5-192 0-230z" fill="#006ca4"/>
<path d="M-30 890c10-18 45 0 60-5c15-5 28-11 30-25c2-14-22-48-15-60c7-12 32-14 55-15c34-2 108 5 150 5c40 0 67-2 100-5c33-3 68-7 100-10c32-3 65-7 90-10c24-2 51-11 60-5c9 6-13 31-5 40c8 9 32 11 55 15c26 4 70 10 100 10c30 0 60-3 80-10c20-7 25-26 40-35c15-9 29-15 50-20c22-5 50-9 80-10c30-1 67 4 100 5c33 1 65 0 100 0c35 0 92-39 110 0c18 39 93 219 0 235c-223 39-1117 17-1340 0c-40-3-10-82 0-100z" fill="#002cf8"/>
</g></g>
<clipPath id="c13"><rect x="503.0" y="624.0" width="249.0" height="186.0"/></clipPath>
<g clip-path="url(#c13)">
<rect x="503.0" y="624.0" width="249.0" height="186.0" fill="#48a610"/>
<g transform="translate(503.0 624.0) scale(0.19529)">
<path d="M-30 -30c223-35 1117-41 1340 0c96 18 18 205 0 245c-18 40-75-5-110-5c-35 0-67 6-100 5c-33-1-67-7-100-10c-33-3-70-8-100-7c-30 1-58 6-80 12c-22 6-33 21-50 25c-17 4-30 2-50 0c-20-3-42-11-70-15c-30-4-73-8-110-10c-37-2-75-2-110-5c-35-3-65-12-100-15c-35-3-72-4-110-5c-38-1-83 2-120 0c-37-2-78-9-100-10c-12-1-28 15-30 3c-5-34-82-195 0-208z" fill="#3c8c64"/>
<path d="M940 128c2-4 36-2 60-3c27-1 70-4 100-5c30-1 58-4 80-2c22 2 47 10 55 17c8 7 4 21-5 25c-14 6-50 10-80 10c-30 0-73-7-100-10c-24-3-42-5-60-10c-18-5-52-18-50-22z" fill="#006ca4"/>
<path d="M1150 65c13-2 67-2 80 0c5 1 5 12 0 13c-13 2-67 2-80 0c-5-1-5-12 0-13z" fill="#006ca4"/>
<path d="M800 300c7-8 33-22 50-30c17-8 33-13 50-15c17-2 40-1 50 5c10 6 15 22 10 30c-5 8-23 15-40 20c-17 5-42 9-60 10c-18 1-40 1-50-2c-8-3-15-12-10-18z" fill="#94b816"/>
<path d="M1130 315c7-6 32-9 50-10c18-1 48-4 60 5c12 9 15 38 10 50c-5 12-27 24-40 25c-13 1-28-13-40-20c-12-7-23-17-30-25c-7-8-17-19-10-25z" fill="#94b816"/>
<path d="M-30 315c4-32 55-7 80-5c25 2 52 8 70 15c18 6 32 16 40 25c8 9-2 22 5 30c7 8 24 8 35 20c11 12 20 35 30 50c10 15 11 35 30 40c20 5 58-7 90-10c32-3 67-6 100-10c33-4 67-10 100-15c33-5 62-13 100-15c38-2 92 2 130 5c38 3 81 7 100 15c12 5 18 18 15 30c-3 12-17 29-35 40c-19 12-53 22-80 30c-27 8-53 12-80 20c-27 8-57 21-80 30c-23 9-45 15-60 25c-15 10-27 21-30 35c-3 14 10 33 10 50c0 17-13 37-10 50c3 13 14 23 30 30c20 8 57 15 90 20c33 5 68 8 110 10c42 2 92 2 140 0c48-2 108-7 150-10c40-3 67-7 100-10c33-3 73-8 100-10c24-2 52-28 60-5c10 30 73 175 0 185c-223 31-1117 111-1340 0c-223-111-13-553 0-665z" fill="#94b816"/>
<path d="M-30 520c4-28 48-7 70-5c22 2 37 10 60 15c23 5 53 12 80 15c27 3 52 5 80 5c28 0 58-3 90-5c32-2 68-3 100-5c32-2 68-7 90-5c17 1 40 8 40 15c0 7-22 19-40 25c-22 7-58 11-90 15c-32 4-68 7-100 10c-32 3-65 5-90 10c-25 5-42 12-60 20c-18 8-33 20-50 30c-17 10-43 22-50 30c-6 7 1 18 10 20c17 4 58 5 90 5c32 0 70-6 100-5c30 1 60 2 80 10c20 8 27 27 40 40c13 13 20 29 40 40c20 12 48 22 80 30c32 8 67 12 110 15c43 3 100 5 150 5c50 0 100-2 150-5c50-3 108-7 150-10c40-3 65-7 100-10c35-3 92-23 110-10c18 13 18 73 0 90c-18 17-75 7-110 10c-35 3-67 2-100 5c-33 3-67 10-100 15c-33 5-67 7-100 15c-33 8-58 29-100 30c-155 5-692 77-830 0c-138-77-12-382 0-460z" fill="#d4c820"/>
<path d="M100 690c5-8 33-21 50-30c17-9 32-18 50-25c18-7 35-13 60-17c25-4 58-7 90-10c32-3 72-8 100-8c28 0 56 0 70 10c14 10 12 32 15 50c3 18 7 43 5 60c-2 17-8 28-20 40c-12 12-35 30-50 30c-15 0-27-18-40-30c-13-12-19-32-40-40c-22-9-58-11-90-12c-32-1-70 4-100 4c-30 0-63-3-80-7c-10-2-25-7-20-15z" fill="#94b816"/>
<path d="M-30 580c2-20 40-12 50-5c10 7 10 27 10 45c0 18-15 42-10 60c5 18 18 39 40 50c22 11 58 12 90 15c32 3 70 1 100 5c30 4 58 12 80 20c22 8 32 18 50 30c18 12 33 30 60 40c27 10 65 15 100 20c35 5 75 8 110 10c35 2 67-2 100 0c33 2 92 6 100 10c8 4-29 12-50 15c-25 4-67 7-100 10c-33 3-67 6-100 10c-33 4-75 9-100 15c-21 5-40 12-50 20c-10 8 3 29-10 30c-80 5-392 67-470 0c-78-67-8-332 0-400z" fill="#ffc420"/>
<path d="M110 600c5-6 25-10 40-15c15-5 37-13 50-15c12-2 30 0 30 5c0 5-17 17-30 23c-13 6-37 11-50 14c-12 3-23 8-30 6c-7-2-15-12-10-18z" fill="#ffc420"/>
<path d="M1225 850c5-5 21-12 35-15c14-3 42-11 50-5c8 6 8 33 0 40c-8 7-37 3-50 2c-12-1-24-3-30-7c-5-3-9-11-5-15z" fill="#ffc420"/>
<path d="M-30 770c15-16 60 3 90 5c30 2 58 1 90 5c32 4 70 10 100 20c30 10 58 27 80 40c22 13 52 29 55 40c3 11-19 20-35 25c-18 6-45 10-70 10c-25 0-53-7-80-10c-27-3-57-6-80-10c-23-4-36-11-60-15c-25-4-75 8-90-10c-15-18-15-84 0-100z" fill="#ff9a10"/>
<path d="M90 840c2-6 10-13 20-15c12-3 35-4 50 0c15 4 38 16 40 23c2 7-17 16-30 20c-13 4-38 5-50 4c-11-1-20-7-25-12c-5-5-7-14-5-20z" fill="#ff6a00"/>
<path d="M-30 790c8-8 39 3 50 10c11 7 15 21 15 30c0 9-4 22-15 25c-11 3-42 6-50-5c-8-11-8-52 0-60z" fill="#ff2a00"/>
<path d="M1310 440c-3-20-32 2-50 5c-18 3-38 3-60 10c-22 7-47 21-70 35c-23 14-42 35-70 50c-28 15-67 30-100 40c-33 10-70 12-100 20c-30 8-57 17-80 30c-23 13-47 37-60 50c-10 10-22 18-20 30c2 12 13 29 30 40c17 11 42 19 70 25c28 6 67 8 100 10c33 2 67 2 100 0c33-2 67-6 100-10c33-4 65-10 100-15c35-5 96 27 110-15c18-53 8-255 0-305z" fill="#3c8c64"/>
<path d="M1310 540c-9-22-43-6-60-5c-16 1-31 3-40 10c-9 7-16 23-15 35c1 12 11 27 20 40c9 13 19 28 35 40c16 12 50 50 60 30c10-20 10-124 0-150z" fill="#006ca4"/>
<path d="M800 980c-41-3 67-20 100-28c33-8 67-12 100-17c33-5 67-10 100-13c33-3 65-5 100-7c35-2 92-18 110-7c18 11 29 68 0 72c-85 12-442 5-510 0z" fill="#48a610"/>
<path d="M1000 980c-23-2 28-22 50-28c25-7 67-9 100-12c33-3 73-4 100-5c24-1 50-7 60 0c10 7 18 42 0 45c-52 8-267 5-310 0z" fill="#3c8c64"/>
<path d="M1090 945c10-7 38-5 60-5c22 0 58-5 70 2c12 7 15 34 0 38c-22 6-108 6-130 0c-14-4-10-28 0-35z" fill="#006ca4"/>
</g></g>
<clipPath id="c14"><rect x="503.0" y="810.0" width="249.0" height="187.0"/></clipPath>
<g clip-path="url(#c14)">
<rect x="503.0" y="810.0" width="249.0" height="187.0" fill="#48a610"/>
<g transform="translate(503.0 810.0) scale(0.19529)">
<path d="M-30 110c7-28 48-12 70-15c22-3 36-9 60-5c27 4 67 20 100 30c33 10 70 17 100 30c30 13 63 35 80 50c13 12 22 28 20 40c-2 12-22 17-30 30c-8 13-8 32-15 50c-7 18-14 47-25 60c-11 13-25 16-40 20c-15 4-35 8-50 5c-15-3-25-10-40-20c-15-10-30-33-50-40c-20-7-45-7-70-5c-25 2-62 12-80 15c-12 2-29 17-30 5c-5-41-12-206 0-250z" fill="#3c8c64"/>
<path d="M-30 130c13-15 55-6 80-5c25 1 45 6 70 10c25 4 57 7 80 15c23 8 43 19 60 30c17 11 35 24 40 35c5 11 0 23-10 30c-12 8-37 19-60 20c-23 1-55-9-80-15c-25-6-45-14-70-20c-25-6-62-12-80-15c-12-2-26 11-30 0c-5-14-13-70 0-85z" fill="#006ca4"/>
<path d="M750 25c-3-15 5-53 30-55c93-9 442-46 530 0c88 46 18 232 0 275c-18 41-75-14-110-20c-35-6-67-12-100-15c-33-3-67-2-100-5c-33-3-70-5-100-10c-30-5-58-13-80-20c-21-6-47-13-50-20c-3-7 17-16 30-25c13-9 50-18 50-30c0-12-33-28-50-40c-17-12-47-20-50-35z" fill="#3c8c64"/>
<path d="M970 40c-3-20 0-64 30-70c57-12 258-35 310 0c52 35 18 178 0 210c-18 32-75-15-110-20c-35-5-73-5-100-10c-25-5-47-10-60-20c-13-10-9-26-20-40c-12-15-47-30-50-50z" fill="#006ca4"/>
<path d="M100 -30c-32 4 20 50 40 70c20 20 50 35 80 50c30 15 67 28 100 40c33 12 67 21 100 30c33 9 70 23 100 25c30 2 53-7 80-15c27-8 58-18 80-30c22-12 43-27 50-40c7-13-2-27-10-40c-8-13-27-25-40-40c-13-15-14-48-40-50c-97-8-457-12-540 0z" fill="#94b816"/>
<path d="M130 -30c-29 4 20 42 40 60c20 18 50 32 80 45c30 13 67 22 100 30c33 8 67 16 100 20c33 4 72 7 100 5c28-2 53-12 70-20c15-8 30-18 30-30c0-12-19-23-30-40c-12-18-8-65-40-70c-82-12-382-10-450 0z" fill="#d4c820"/>
<path d="M150 -30c-28 5 25 36 50 50c25 14 67 24 100 35c33 11 70 22 100 30c30 8 57 17 80 20c23 3 45-1 60-5c14-4 30-12 30-20c0-8-18-20-30-30c-12-10-28-17-40-30c-12-13-7-47-30-50c-58-8-275-8-320 0z" fill="#ffc420"/>
<path d="M300 -30c-5 10 7 45 20 60c13 15 40 21 60 30c20 9 45 21 60 25c12 3 23 3 30 0c7-3 13-13 10-20c-3-7-17-17-30-25c-13-8-33-8-50-20c-17-12-33-42-50-50c-17-8-45-10-50 0z" fill="#ff9a10"/>
<path d="M320 50c2-6 10-15 15-15c5 0 13 9 15 15c2 6-1 16-5 20c-4 4-16 5-20 2c-4-3-7-16-5-22z" fill="#ff6a00"/>
<path d="M-30 425c22-40 92 4 130 5c38 1 70 5 100 0c30-5 57-18 80-30c23-12 40-35 60-45c20-10 35-13 60-15c27-2 73 2 100 0c24-2 48 0 60-10c12-10 13-35 15-50c2-15-13-31-5-40c8-9 30-10 50-12c22-2 50-3 80-3c30 0 67 1 100 3c33 2 67 4 100 7c33 3 67 7 100 10c33 3 67 3 100 5c33 2 65 8 100 10c35 2 99-38 110 5c18 72 18 356 0 425c-11 43-75-5-110-10c-35-5-73-10-100-20c-27-10-43-30-60-40c-15-9-23-15-40-20c-17-5-47-12-60-10c-13 2-18 17-20 25c-2 8 20 20 10 25c-12 6-50 6-80 10c-30 4-67 12-100 15c-33 3-67 5-100 5c-33 0-67-2-100-5c-33-3-67-7-100-10c-33-3-67-5-100-5c-33 0-67 3-100 5c-33 2-67 3-100 5c-33 2-70 4-100 5c-30 1-70 33-80 3c-13-40-22-203 0-243z" fill="#94b816"/>
<path d="M820 295c3-6 50-8 80-10c30-2 67-3 100-3c33 0 67 2 100 3c33 1 65 3 100 5c35 2 92-12 110 10c18 22 18 107 0 125c-18 18-75-10-110-15c-35-5-70-10-100-15c-30-5-55-7-80-15c-25-8-47-20-70-30c-23-10-48-21-70-30c-22-9-63-19-60-25z" fill="#d4c820"/>
<path d="M565 510c1-9 13-24 25-30c12-6 35-9 50-8c15 1 30 5 40 13c10 8 20 26 20 35c0 9-9 16-20 20c-13 5-44 13-60 12c-16-1-26-10-35-17c-9-7-21-16-20-25z" fill="#48a610"/>
<path d="M395 482c2-4 9-10 15-10c6 0 18 6 20 10c2 4 0 11-5 13c-5 2-20 2-25 0c-5-2-7-9-5-13z" fill="#48a610"/>
<path d="M-30 700c21-48 92-9 130-10c38-1 67 6 100 5c33-1 67-9 100-10c33-1 67 4 100 5c33 1 67-1 100 0c33 1 67 5 100 5c33 0 67-4 100-5c33-1 67-2 100 0c33 2 67 7 100 10c33 3 67 8 100 10c33 2 67 2 100 5c33 3 65 7 100 10c35 3 93-31 110 10c18 44 100 236 0 255c-223 42-1117 48-1340 0c-113-25-22-240 0-290z" fill="#3c8c64"/>
<path d="M-30 730c22-45 92-8 130-10c38-2 67-6 100-5c33 1 67 6 100 10c33 4 67 10 100 15c33 5 73 9 100 15c25 5 43 13 60 20c17 7 22 20 40 25c23 6 67 8 100 10c33 2 67 5 100 5c33 0 67-6 100-5c33 1 67 5 100 10c33 5 67 13 100 20c33 7 65 15 100 20c35 5 92-12 110 10c18 22 48 116 0 120c-223 20-1117 43-1340 0c-102-20-22-215 0-260z" fill="#006ca4"/>
<path d="M1070 900c12-6 50-12 80-15c30-3 73-4 100-5c24-1 50-8 60 0c10 8 17 38 0 45c-18 7-72 1-110 0c-38-1-98-1-120-5c-9-2-18-16-10-20z" fill="#3c8c64"/>
<path d="M-30 755c22-40 95-7 130-5c33 2 57 7 80 15c23 8 57 27 60 35c3 8-24 9-40 15c-17 7-48 15-60 25c-11 9-20 27-10 35c10 8 42 10 70 15c28 5 67 11 100 15c33 4 67 7 100 10c33 3 67 7 100 10c33 3 60 8 100 10c50 3 133 4 200 5c67 1 133 0 200 0c67 0 148 0 200 0c44 0 92-8 110 0c18 8 20 49 0 50c-223 8-1117 39-1340 0c-93-16-22-195 0-235z" fill="#002cf8"/>
<path d="M645 845c25-3 128-2 155 0c6 0 11 12 5 13c-25 2-128 4-155 2c-6-1-11-14-5-15z" fill="#002cf8"/>
</g></g>
<clipPath id="c15"><rect x="752.0" y="624.0" width="249.0" height="186.0"/></clipPath>
<g clip-path="url(#c15)">
<rect x="752.0" y="624.0" width="249.0" height="186.0" fill="#48a610"/>
<g transform="translate(752.0 624.0) scale(0.19529)">
<path d="M-30 -30c223-42 1117-38 1340 0c89 15 18 185 0 225c-18 40-75 8-110 15c-35 7-67 18-100 25c-33 7-67 13-100 20c-33 7-72 11-100 20c-28 9-48 29-70 35c-22 6-42 5-60 0c-18-5-37-17-50-30c-13-13-18-38-30-50c-12-12-25-22-40-20c-15 2-35 29-50 30c-15 1-23-17-40-25c-20-10-53-28-80-35c-27-7-55-7-80-5c-25 2-45 7-70 15c-25 8-50 24-80 30c-30 6-67 3-100 5c-33 2-70 5-100 5c-30 0-71 26-80-5c-13-43-100-236 0-255z" fill="#3c8c64"/>
<path d="M320 115c2-7 17-17 30-20c13-3 43 0 50 5c7 5-1 20-10 25c-10 6-38 12-50 10c-11-2-22-13-20-20z" fill="#48a610"/>
<path d="M30 160c7-5 35-10 50-10c15 0 37 5 40 10c3 5-9 17-20 20c-13 4-48 5-60 2c-9-3-17-17-10-22z" fill="#48a610"/>
<path d="M270 315c2-9 15-21 30-25c18-5 57-6 80-5c23 1 46 3 60 10c14 7 24 23 25 35c1 12-13 28-20 40c-7 12-12 29-20 30c-8 1-16-18-30-25c-16-7-47-15-65-20c-18-5-35-3-45-10c-10-7-17-21-15-30z" fill="#3c8c64"/>
<path d="M600 115c13-7 67-19 100-25c33-6 67-10 100-12c33-2 67-3 100-3c33 0 73 2 100 5c25 3 48 7 60 15c12 8 15 24 15 35c0 11-5 22-15 30c-12 10-35 21-60 30c-27 9-70 18-100 25c-30 7-60 17-80 15c-20-2-27-19-40-30c-13-11-23-25-40-35c-17-10-40-20-60-25c-20-5-47-1-60-5c-11-3-30-14-20-20z" fill="#006ca4"/>
<path d="M1060 50c13-3 56-6 90-5c34 1 96 5 115 10c8 2 8 19 0 20c-19 3-83-3-115-5c-32-2-65-2-80-5c-7-2-17-13-10-15z" fill="#006ca4"/>
<path d="M1080 110c26-4 127-4 150 0c11 2 0 22-10 25c-22 7-96 15-120 15c-12 0-22-8-25-15c-3-7-5-23 5-25z" fill="#006ca4"/>
<path d="M430 480c18-3 43-17 50-30c7-13-13-33-10-50c3-17 15-38 30-50c15-12 40-18 60-20c20-2 40 0 60 10c20 10 47 35 60 50c12 13 27 28 20 40c-7 12-43 22-60 30c-16 8-47 17-40 20c7 3 57-2 80 0c23 2 48 4 60 10c11 5 21 15 15 25c-7 10-33 26-55 35c-22 9-53 13-80 20c-27 7-57 12-80 20c-23 8-43 20-60 30c-17 10-27 32-40 30c-13-2-27-32-40-40c-13-8-24-7-40-10c-17-3-42-10-60-10c-18 0-33 12-50 10c-17-2-37-20-50-20c-13 0-20 18-30 20c-10 2-17-10-30-10c-13 0-39 15-50 10c-11-5-15-23-15-40c0-17 7-45 15-60c8-15 14-26 30-30c18-5 50-2 80 0c30 2 72 10 100 10c28 0 48-10 70-10c22 0 42 13 60 10z" fill="#94b816"/>
<path d="M-30 360c15-9 60-5 90-5c30 0 62 1 90 5c28 4 55 13 80 20c25 7 53 12 70 20c15 8 33 23 30 30c-3 7-30 12-50 10c-22-2-53-13-80-20c-27-7-55-18-80-20c-25-2-45 8-70 10c-25 2-67 8-80 0c-13-8-15-41 0-50z" fill="#94b816"/>
<path d="M780 480c5-11 28-29 40-40c11-11 15-22 30-25c17-3 57 0 70 5c10 4 17 17 10 25c-7 8-32 16-50 25c-18 9-45 24-60 30c-11 4-23 8-30 5c-7-3-15-15-10-25z" fill="#94b816"/>
<path d="M180 600c2-11 9-18 20-20c13-2 47 0 60 5c12 4 23 16 20 25c-3 9-28 18-40 30c-12 12-22 38-30 40c-8 2-15-17-20-30c-5-13-12-38-10-50z" fill="#48a610"/>
<path d="M440 610c2-8 18-23 30-30c12-7 35-13 40-10c5 3-2 21-10 30c-8 9-30 23-40 25c-10 2-22-7-20-15z" fill="#d4c820"/>
<path d="M60 600c5 0 28 27 40 40c12 13 20 23 30 40c10 17 15 45 30 60c15 15 37 23 60 30c23 7 60 13 80 10c20-3 32-20 40-30c8-10 0-27 10-30c10-3 32 12 50 10c18-2 40-20 60-20c20 0 40 13 60 20c20 7 45 12 60 20c15 8 26 20 30 30c4 10-10 20-5 30c5 10 19 22 35 30c16 8 37 15 60 20c23 5 55 10 80 10c25 0 42-7 70-10c28-3 72-5 100-10c28-5 52-12 70-20c18-8 27-18 40-30c13-12 20-31 40-40c20-9 48-12 80-15c35-3 108-44 130-5c22 39 94 223 0 240c-223 40-1117 32-1340 0c-75-11-10-155 0-190c7-24 42-10 60-20c18-10 40-25 50-40c10-15 12-35 10-50c-2-15-15-27-20-40c-5-13-15-40-10-40z" fill="#94b816"/>
<path d="M-30 480c4-21 38 7 50 20c12 13 10 40 20 60c10 20 28 40 40 60c12 20 27 43 30 60c3 16-2 28-10 40c-8 12-23 22-40 30c-17 8-45 16-60 20c-12 3-29 17-30 5c-5-48-8-249 0-295z" fill="#3c8c64"/>
<path d="M-30 590c8-17 37 2 50 10c13 8 23 25 30 40c7 15 13 40 10 50c-3 10-17 9-30 10c-15 2-50 18-60 0c-10-18-8-93 0-110z" fill="#006ca4"/>
<path d="M1310 480c-18-40-75 2-110 5c-35 3-67 9-100 15c-33 6-67 12-100 20c-33 8-67 15-100 25c-33 10-72 23-100 35c-28 12-50 27-70 40c-20 13-37 27-50 40c-13 13-27 25-30 40c-3 15-2 33 10 50c12 17 37 38 60 50c23 12 50 18 80 20c30 2 67-2 100-5c33-3 75-7 100-15c22-7 33-20 50-30c17-10 28-23 50-30c25-8 65-13 100-15c35-2 92 45 110 5c18-41 18-209 0-250z" fill="#3c8c64"/>
<path d="M915 650c0-4 27-13 45-20c22-8 63-20 90-30c27-10 48-21 70-30c22-9 45-24 60-25c14-1 28 11 30 20c2 9-11 22-20 35c-10 14-25 33-40 50c-15 17-33 37-50 50c-17 13-37 27-50 30c-12 3-22-2-30-10c-8-8-10-29-20-40c-10-11-26-20-40-25c-14-5-45-1-45-5z" fill="#006ca4"/>
<path d="M1200 600c2-10 18-18 30-20c12-2 32-5 40 5c8 10 13 46 5 55c-8 9-43 7-55 0c-12-7-22-30-20-40z" fill="#48a610"/>
<path d="M-30 800c12-17 52-2 70-10c18-8 30-25 40-40c10-15 18-32 20-50c2-18-10-45-10-60c0-13 3-30 10-30c7 0 21 16 30 30c10 15 20 43 30 60c10 17 15 29 30 40c15 11 42 20 60 25c18 5 33-1 50 5c17 6 30 22 50 30c20 8 45 17 70 20c25 3 57-2 80 0c23 2 40 5 60 10c20 5 37 12 60 20c23 8 57 21 80 30c23 9 53 16 60 25c7 9-10 22-20 30c-10 8-30 9-40 17c-10 8-6 27-20 28c-47 5-213 7-260 0c-18-3-4-32-20-40c-20-10-67-14-100-20c-33-6-67-11-100-15c-33-4-67-7-100-10c-33-3-78-4-100-5c-12 0-26 11-30 0c-5-15-12-73 0-90z" fill="#d4c820"/>
<path d="M-30 820c12-11 48-3 70-10c22-7 45-18 60-30c15-12 27-25 30-40c3-15-7-35-10-50c-3-15-10-36-8-40c2-4 17 6 23 15c8 12 14 39 25 55c11 16 23 30 40 40c17 10 42 15 60 20c18 5 33 4 50 10c17 6 32 18 50 25c18 7 37 17 60 20c23 3 57-3 80 0c23 3 40 8 60 15c20 7 40 17 60 25c20 8 47 17 60 25c11 7 23 18 20 25c-3 7-23 15-40 20c-17 5-40 7-60 7c-20 0-40-4-60-7c-20-3-43-10-60-10c-16 0-27 13-40 10c-13-3-21-24-40-30c-23-7-67-11-100-15c-33-4-67-7-100-10c-33-3-67-8-100-10c-33-2-78-4-100-5c-12 0-25 9-30 0c-5-9-12-44 0-55z" fill="#ffc420"/>
<path d="M60 850c0-9 23-22 40-30c17-8 38-15 60-20c22-5 47-10 70-10c23 0 50 5 70 10c20 5 33 13 50 20c17 7 30 16 50 20c20 4 50 3 70 5c20 2 45-3 50 5c5 8-12 28-20 40c-8 12-20 23-30 30c-10 7-18 13-30 10c-12-3-22-22-40-30c-18-8-45-12-70-15c-25-3-53-4-80-5c-27-1-55 1-80 0c-25-1-52 0-70-5c-18-5-40-16-40-25z" fill="#ff9a10"/>
<path d="M520 885c3-6 15-19 25-20c10-1 30 9 35 15c5 6 1 15-5 20c-6 5-22 10-30 10c-8 0-16-4-20-8c-4-4-8-11-5-17z" fill="#ff9a10"/>
<path d="M165 850c1-6 14-16 25-18c11-2 30-1 40 3c10 4 21 14 20 20c-1 6-14 13-25 15c-11 2-30 3-40 0c-10-3-21-14-20-20z" fill="#ff6a00"/>
<path d="M330 830c3-4 18-8 30-5c12 3 23 15 40 20c17 5 43 9 60 10c16 1 35-9 40-5c5 4-4 20-10 30c-6 10-17 24-25 30c-8 6-16 10-25 5c-9-5-18-26-30-35c-12-9-28-15-40-20c-12-5-23-7-30-12c-7-5-13-14-10-18z" fill="#ff6a00"/>
<path d="M375 845c1-3 16 2 25 5c9 3 19 10 30 12c11 2 27-2 35 0c7 2 14 7 13 13c-1 6-12 20-18 25c-5 4-10 8-15 5c-6-3-12-19-20-25c-8-6-22-6-30-12c-8-6-21-20-20-23z" fill="#ff2a00"/>
<path d="M830 880c10-6 42-13 70-20c28-7 73-12 100-20c26-8 43-19 60-30c17-11 20-27 40-35c20-8 48-12 80-15c35-3 108-28 130-5c22 23 18 121 0 145c-18 24-75 0-110 0c-35 0-67 0-100 0c-33 0-67 0-100 0c-33 0-73 1-100 0c-24-1-48-2-60-5c-7-2-16-11-10-15z" fill="#d4c820"/>
<path d="M990 870c0-7 35-16 50-25c15-9 28-21 40-30c12-9 15-21 30-25c20-6 57-8 90-10c33-2 92-22 110-5c18 17 18 93 0 110c-18 17-75-5-110-5c-35 0-73 4-100 5c-24 1-42 3-60 0c-18-3-50-8-50-15z" fill="#ffc420"/>
<path d="M1090 840c2-7 11-17 20-20c9-3 28-3 35 2c7 5 7 20 5 28c-2 8-12 16-20 18c-8 2-23-1-30-6c-7-5-12-15-10-22z" fill="#ff9a10"/>
<path d="M1170 885c0-7 17-20 30-25c13-5 32-3 50-5c18-2 50-14 60-5c10 9 18 51 0 60c-18 9-87-1-110-5c-14-3-30-13-30-20z" fill="#94b816"/>
<path d="M1190 895c2-5 17-16 30-20c13-4 35-4 50-5c15-1 33-7 40 0c7 7 15 34 0 40c-17 6-80 0-100-2c-9-1-22-8-20-13z" fill="#48a610"/>
<path d="M-30 905c22-12 92 1 130 3c38 2 67 6 100 10c33 4 70 11 100 17c30 6 67 9 80 17c10 5 11 27 0 28c-68 5-342 12-410 0c-30-5-22-63 0-75z" fill="#48a610"/>
<path d="M-30 925c22-9 92 1 130 3c38 2 73 6 100 10c24 4 50 7 60 14c9 6 11 27 0 28c-48 5-242 9-290 0c-22-4-20-47 0-55z" fill="#3c8c64"/>
<path d="M740 980c-16-1 10-26 20-35c10-9 23-16 40-20c23-5 67-8 100-10c33-2 67-3 100-3c33 0 67 3 100 3c33 0 65-3 100-3c35 0 92-11 110 0c18 11 27 65 0 68c-95 11-478 6-570 0z" fill="#48a610"/>
<path d="M780 980c-14-1 6-25 20-30c20-8 67-12 100-15c33-3 67-5 100-5c33 0 75 1 100 5c21 3 42 9 50 17c8 7 11 27 0 28c-62 5-312 5-370 0z" fill="#3c8c64"/>
</g></g>
<clipPath id="c16"><rect x="752.0" y="810.0" width="249.0" height="187.0"/></clipPath>
<g clip-path="url(#c16)">
<rect x="752.0" y="810.0" width="249.0" height="187.0" fill="#3c8c64"/>
<g transform="translate(752.0 810.0) scale(0.19529)">
<path d="M-30 -30c62-33 310-10 370 0c24 4 5 47-10 60c-15 13-50 14-80 20c-30 6-70 7-100 15c-30 8-62 21-80 35c-18 14-18 38-30 50c-12 12-28 17-40 20c-12 3-28 12-30 0c-5-33-62-167 0-200z" fill="#006ca4"/>
<path d="M940 20c-3-13-1-47 20-50c62-8 292-17 350 0c38 11 18 80 0 100c-18 20-75 16-110 20c-35 4-72 7-100 5c-28-2-50-7-70-15c-20-8-35-20-50-30c-15-10-37-17-40-30z" fill="#006ca4"/>
<path d="M735 150c3-11 16-35 25-50c9-15 20-34 30-40c10-6 22-2 30 5c8 7 15 23 15 35c0 12-6 29-15 40c-9 11-28 21-40 25c-12 4-28 3-35 0c-7-2-12-8-10-15z" fill="#006ca4"/>
<path d="M420 -30c-25 5 12 43 20 60c8 17 18 27 30 40c12 13 25 37 40 40c15 3 29-14 50-20c22-6 57-7 80-15c23-8 43-17 60-35c17-18 71-62 40-70c-47-12-270-10-320 0z" fill="#48a610"/>
<path d="M440 -30c-21 5 10 36 20 50c10 14 20 28 40 35c20 7 55 7 80 5c25-2 52-5 70-20c18-15 71-60 40-70c-35-12-212-8-250 0z" fill="#94b816"/>
<path d="M480 -30c-20 7 13 36 30 45c17 9 50 11 70 10c20-1 40-6 50-15c10-9 26-36 10-40c-25-7-138-8-160 0z" fill="#d4c820"/>
<path d="M510 110c5-3 35 10 50 20c15 10 27 30 40 40c13 10 24 12 40 20c17 8 40 23 60 30c20 7 57 3 60 10c3 7-28 18-40 30c-12 12-23 27-30 40c-7 13-2 27-10 40c-8 13-23 32-40 40c-17 8-43 12-60 10c-17-2-34-10-40-20c-6-10-3-32 5-40c8-8 31-5 45-10c14-5 32-10 40-20c8-10 15-27 10-40c-5-13-28-27-40-40c-12-13-18-28-30-40c-12-12-30-18-40-30c-10-12-25-37-20-40z" fill="#48a610"/>
<path d="M-30 245c14-51 92 13 130 20c38 7 67 13 100 20c33 7 67 13 100 20c33 7 70 17 100 25c30 8 57 12 80 20c23 8 34 24 60 30c27 6 75 13 100 5c25-8 37-36 50-55c13-19 15-47 30-60c15-13 42-15 60-20c18-5 30-11 50-10c28 1 75 8 120 15c45 7 108 23 150 30c40 7 65 11 100 15c35 4 97-30 110 12c18 58 18 282 0 338c-14 42-75 0-110 0c-35 0-67-1-100 0c-33 1-67 3-100 5c-33 2-67 3-100 5c-33 2-67 5-100 10c-33 5-73 12-100 20c-26 8-47 20-60 30c-12 9-8 22-20 30c-13 8-37 16-60 20c-23 4-53 5-80 5c-27 0-50-4-80-5c-30-1-67 2-100 0c-33-2-67-6-100-10c-33-4-67-11-100-15c-33-4-78-8-100-10c-12-1-29 12-30 0c-5-82-22-412 0-490z" fill="#48a610"/>
<path d="M-30 275c16-50 92 7 130 15c38 8 67 21 100 30c33 9 67 18 100 25c33 7 70 13 100 20c30 7 60 19 80 20c17 1 27-17 40-15c13 2 21 25 40 30c20 5 58 7 80 0c22-7 37-23 50-40c13-17 15-47 30-60c15-13 38-16 60-20c22-4 42-7 70-5c28 2 67 9 100 15c33 6 67 13 100 20c33 7 67 13 100 20c33 7 73 16 100 20c24 4 55-18 60 5c10 43 18 212 0 255c-17 41-75 5-110 5c-35 0-67-3-100-5c-33-2-67-6-100-5c-33 1-67 7-100 10c-33 3-70 6-100 10c-30 4-55 9-80 15c-25 6-47 13-70 20c-23 7-45 15-70 20c-25 5-50 8-80 10c-30 2-67-1-100 0c-33 1-67 3-100 5c-33 2-67 5-100 5c-33 0-67-3-100-5c-33-2-78-4-100-5c-12 0-29 12-30 0c-5-69-22-348 0-415z" fill="#94b816"/>
<path d="M-30 310c15-18 60 3 90 10c30 7 58 19 90 30c32 11 75 25 100 35c21 8 50 17 50 25c0 8-29 16-50 20c-25 4-67 5-100 5c-33 0-70-4-100-5c-30-1-67 18-80-2c-13-20-15-100 0-118z" fill="#d4c820"/>
<path d="M700 420c2-15 10-33 20-50c10-17 27-40 40-50c13-10 25-13 40-10c15 3 30 22 50 30c20 8 45 12 70 20c25 8 50 17 80 25c30 8 67 16 100 25c33 9 71 22 100 30c29 8 57 12 75 15c14 2 29-3 35 0c6 3 8 19 0 20c-18 3-75-3-110-5c-35-2-67-3-100-5c-33-2-67-3-100-5c-33-2-70-8-100-10c-30-2-60-8-80-5c-19 3-38 17-40 25c-2 8 16 16 30 20c15 4 50 2 60 5c4 1 4 9 0 10c-12 2-48 2-70 0c-22-2-45-3-60-10c-15-7-23-23-30-35c-7-12-12-25-10-40z" fill="#d4c820"/>
<path d="M450 500c3-14 12-38 20-50c8-12 23-25 30-25c7 0 12 15 10 25c-2 11-20 25-25 40c-5 15-9 37-5 50c4 13 17 23 30 30c13 7 37 8 50 10c12 2 30 2 30 5c0 3-17 11-30 13c-13 2-35 2-50-3c-15-5-30-15-40-25c-10-10-15-23-18-35c-3-12-5-21-2-35z" fill="#d4c820"/>
<path d="M-30 880c15-20 63-5 90-10c27-5 47-15 70-20c23-5 42-8 70-10c28-2 70-3 100 0c30 3 63 23 80 20c17-3 8-30 20-40c12-10 30-18 50-20c20-2 45 10 70 10c25 0 50-10 80-10c30 0 67 7 100 10c33 3 67 8 100 10c33 2 67 7 100 5c33-2 67-9 100-15c33-6 67-13 100-20c33-7 65-15 100-20c35-5 92-47 110-10c18 37 91 214 0 230c-223 38-1117 18-1340 0c-44-4-15-90 0-110z" fill="#006ca4"/>
<path d="M-30 945c105-8 458-3 630-5c160-2 308-1 400-5c60-3 113-13 150-20c29-5 43-16 70-20c27-4 75-21 90-5c15 16 40 97 0 100c-223 17-1117 8-1340 0c-18-1-18-44 0-45z" fill="#002cf8"/>
</g></g>
<clipPath id="c17"><rect x="255.0" y="748.0" width="249.0" height="124.0"/></clipPath>
<g clip-path="url(#c17)">
<rect x="255.0" y="748.0" width="249.0" height="124.0" fill="#3c8c64"/>
<g transform="translate(255.0 748.0) scale(0.19529)">
<path d="M100 80c-2-9 22-22 30-40c8-18-7-60 20-70c33-12 147-8 180 0c21 5 20 33 20 50c0 17-8 35-20 50c-12 15-30 34-50 40c-20 6-47-2-70-5c-23-3-52-6-70-10c-17-4-38-6-40-15z" fill="#006ca4"/>
<path d="M380 -30c17-10 113-10 140 0c24 9 20 43 20 60c0 17-8 35-20 40c-12 5-33-3-50-10c-17-7-35-15-50-30c-15-15-57-50-40-60z" fill="#006ca4"/>
<path d="M40 65c2-6 13-16 20-17c7-1 20 6 22 12c2 6-6 18-12 22c-6 4-17 3-22 0c-5-3-10-11-8-17z" fill="#48a610"/>
<path d="M-30 95c15-28 60 14 90 20c30 6 58 11 90 15c32 4 70 9 100 10c30 1 55-2 80-5c25-3 52-4 70-10c18-6 23-23 40-25c17-2 40 10 60 10c20 0 40-3 60-10c20-7 40-18 60-30c20-12 43-23 60-40c17-17 11-57 40-60c105-10 492-72 590 0c98 72 18 360 0 435c-11 43-75 7-110 15c-35 8-67 22-100 32c-33 10-67 26-100 30c-33 4-67-2-100-5c-33-3-67-9-100-15c-33-6-67-12-100-20c-33-8-70-18-100-30c-30-12-60-26-80-40c-20-13-37-29-42-42c-5-13 3-23 12-35c10-13 32-26 50-45c18-19 46-50 60-70c13-18 25-43 25-50c0-7-15 6-25 10c-14 6-40 18-60 25c-20 7-46 11-60 20c-14 9-15 21-25 35c-10 14-26 35-35 50c-9 15-10 27-20 40c-10 13-23 28-40 40c-17 12-42 24-60 30c-18 6-33 7-50 5c-17-2-33-7-50-15c-17-8-33-20-50-30c-17-10-33-22-50-30c-17-8-33-16-50-20c-17-4-37-4-50-5c-12-1-28 12-30 0c-5-32-15-162 0-190z" fill="#48a610"/>
<path d="M1310 -30c-92-70-448-12-550 0c-37 4-43 47-60 70c-17 23-30 47-40 70c-10 23-10 48-20 70c-10 22-27 43-40 60c-13 17-30 27-40 40c-10 13-20 27-20 40c0 13 7 28 20 40c13 12 37 24 60 35c23 11 50 22 80 30c30 8 67 14 100 20c33 6 67 12 100 15c33 3 67 6 100 2c33-4 67-18 100-27c33-9 65-23 100-30c35-7 99 28 110-15c18-72 92-350 0-420z" fill="#94b816"/>
<path d="M1310 -30c-87-68-423-13-520 0c-40 5-43 53-60 80c-17 27-28 55-40 80c-12 25-18 48-30 70c-12 22-28 43-40 60c-12 17-27 29-35 40c-7 9-16 17-15 25c1 8 10 17 20 25c12 9 29 20 50 30c22 10 50 20 80 28c30 8 67 14 100 20c33 6 70 11 100 14c30 3 50 6 80 2c30-4 67-17 100-26c33-9 65-23 100-30c35-7 99 30 110-13c18-70 87-337 0-405z" fill="#d4c820"/>
<path d="M1310 -30c-82-64-400-15-490 0c-41 7-35 62-50 90c-15 28-28 57-40 80c-12 23-18 42-30 60c-12 18-27 35-40 50c-13 15-30 28-40 40c-9 11-20 22-20 30c0 8 10 14 20 20c12 8 30 17 50 25c20 8 42 17 70 25c28 8 68 14 100 20c32 6 63 12 90 15c27 3 42 4 70 0c28-4 67-16 100-25c33-9 65-22 100-30c35-8 98 28 110-15c18-67 82-321 0-385z" fill="#ffc420"/>
<path d="M-30 115c15-22 60 14 90 20c30 6 58 11 90 15c32 4 70 9 100 10c30 1 55-2 80-5c25-3 52-6 70-10c17-4 30-19 40-15c10 4 20 25 20 40c0 15-10 34-20 50c-10 16-30 30-40 45c-10 15-10 33-20 45c-10 12-25 22-40 30c-15 8-35 16-50 20c-15 4-25 4-40 2c-15-2-33-5-50-12c-17-7-33-20-50-30c-17-10-33-22-50-30c-17-8-29-16-50-20c-22-4-67 21-80-5c-13-26-15-128 0-150z" fill="#94b816"/>
<path d="M-30 135c15-17 60 11 90 15c30 4 58 8 90 12c32 4 70 9 100 10c30 1 55-2 80-4c25-2 53-8 70-8c12 0 23-2 30 5c7 7 13 21 10 35c-3 14-20 35-30 50c-10 15-18 28-30 40c-12 12-25 22-40 30c-15 8-33 17-50 20c-17 3-35 2-50 0c-15-2-25-3-40-10c-15-7-33-21-50-30c-17-9-33-18-50-25c-17-7-29-16-50-20c-22-4-67 15-80-5c-13-20-15-98 0-115z" fill="#d4c820"/>
<path d="M-30 150c15-12 60 11 90 15c30 4 58 7 90 10c32 3 70 9 100 10c30 1 55-3 80-5c25-2 55-9 70-8c10 1 17 6 20 13c3 7 5 19 0 30c-5 12-18 27-30 40c-12 13-25 29-40 40c-15 11-33 20-50 25c-17 5-33 7-50 5c-17-2-33-8-50-15c-17-7-33-17-50-25c-17-8-33-17-50-25c-17-8-29-16-50-20c-22-4-67 10-80-5c-13-15-15-73 0-85z" fill="#ffc420"/>
<path d="M80 205c2-5 12-9 20-10c8-1 23 0 30 3c7 3 12 12 10 17c-2 5-12 11-20 13c-8 2-23 2-30-2c-7-4-12-16-10-21z" fill="#ff9a10"/>
<path d="M150 180c3-4 18-9 25-8c7 1 15 9 15 13c0 4-9 11-15 13c-6 2-16 1-20-2c-4-3-8-12-5-16z" fill="#ff9a10"/>
<path d="M190 210c2-7 15-16 25-18c10-2 27 0 35 5c8 5 17 16 15 23c-2 7-15 16-25 18c-10 2-27 0-35-5c-8-5-17-16-15-23z" fill="#ff9a10"/>
<path d="M360 190c5-6 18-16 25-15c7 1 13 13 15 20c2 7 0 19-5 23c-5 4-18 6-25 4c-7-2-13-9-15-14c-2-5 0-12 5-18z" fill="#ff9a10"/>
<path d="M20 245c7-5 25-13 40-15c15-2 35 2 50 5c15 3 38 5 40 10c2 5-17 13-30 17c-15 4-43 8-60 8c-16 0-33-4-40-8c-6-4-5-13 0-17z" fill="#ff9a10"/>
<path d="M90 540c-4-16-1-25 5-40c7-17 26-45 35-60c8-12 8-27 20-30c12-3 30 11 50 10c25-2 70-12 100-20c30-8 65-27 80-25c14 2 13 23 10 35c-3 12-32 32-30 40c2 8 27 12 40 10c13-2 27-22 40-25c13-3 25 1 40 5c15 4 40 12 50 20c10 8 11 17 10 30c-2 15-12 43-20 60c-8 17-17 33-30 40c-13 7-35 2-50 0c-15-2-28-7-40-10c-12-3-20-15-30-10c-10 5-18 28-30 40c-12 12-21 24-40 30c-20 7-58 10-80 10c-20 0-33-2-50-10c-17-8-37-23-50-40c-13-17-26-43-30-60z" fill="#006ca4"/>
<path d="M-30 355c12-6 48-3 70 0c22 3 45 13 60 20c14 7 30 20 30 25c0 5-18 6-30 5c-15-1-38-7-60-10c-22-3-58 2-70-5c-12-7-12-29 0-35z" fill="#006ca4"/>
<path d="M1235 500c-3-12 3-30 10-40c7-10 19-16 30-20c11-4 30-18 35-5c6 14 8 74 0 90c-8 16-38 9-50 5c-12-4-22-18-25-30z" fill="#006ca4"/>
<path d="M1110 635c2-12 3-27 10-35c7-8 18-15 30-15c12 0 30 6 40 15c10 9 18 28 20 40c2 12 2 26-10 30c-17 5-75 6-90 0c-13-5-2-23 0-35z" fill="#48a610"/>
</g></g>
<clipPath id="c18"><rect x="503.0" y="748.0" width="249.0" height="124.0"/></clipPath>
<g clip-path="url(#c18)">
<rect x="503.0" y="748.0" width="249.0" height="124.0" fill="#48a610"/>
<g transform="translate(503.0 748.0) scale(0.19529)">
<path d="M700 60c2-15 23-25 40-40c17-15 29-47 60-50c95-8 425-26 510 0c59 18 18 126 0 155c-18 29-75 15-110 20c-35 5-67 8-100 10c-33 2-67 1-100 0c-33-1-67-2-100-5c-33-3-72-8-100-15c-28-7-53-13-70-25c-17-12-32-35-30-50z" fill="#3c8c64"/>
<path d="M1230 -30c12-7 67-14 80 0c13 14 7 73 0 85c-7 12-28-7-40-15c-12-8-23-18-30-30c-7-12-22-33-10-40z" fill="#006ca4"/>
<path d="M750 330c7-8 29-15 50-20c25-6 67-12 100-15c33-3 67-3 100-5c33-2 67-3 100-5c33-2 65-3 100-5c35-2 94-46 110-5c18 47 18 240 0 285c-17 41-75-11-110-15c-35-4-67-7-100-10c-33-3-67-5-100-10c-33-5-70-13-100-20c-30-7-58-13-80-20c-21-6-47-13-50-20c-3-7 17-16 30-25c13-9 50-20 50-30c0-10-35-21-50-30c-15-9-32-17-40-25c-8-8-17-17-10-25z" fill="#3c8c64"/>
<path d="M970 350c-3-10 14-24 30-30c22-8 67-12 100-15c33-3 65-1 100 0c35 1 92-27 110 5c18 32 10 160 0 190c-8 23-36-6-60-10c-27-5-68-14-100-20c-32-6-70-7-90-15c-17-7-23-23-30-35c-7-12 0-28-10-40c-10-12-47-20-50-30z" fill="#006ca4"/>
<path d="M-30 400c7-27 48-8 70-10c22-2 36-9 60-5c27 4 67 20 100 30c33 10 70 17 100 30c30 13 63 35 80 50c13 12 22 28 20 40c-2 12-22 17-30 30c-8 13-11 33-15 50c-4 17 12 52-10 55c-64 9-313 45-375 0c-62-45-12-223 0-270z" fill="#3c8c64"/>
<path d="M-30 425c13-15 55-6 80-5c25 1 45 6 70 10c25 4 57 8 80 15c23 7 43 19 60 30c17 11 35 24 40 35c5 11 0 23-10 30c-12 8-37 19-60 20c-23 1-55-9-80-15c-25-6-45-14-70-20c-25-6-62-13-80-15c-12-2-26 11-30 0c-5-14-13-70 0-85z" fill="#006ca4"/>
<path d="M-30 -30c95-63 478-10 570 0c25 3-20 42-20 60c0 18 20 33 20 50c0 17-23 37-20 50c3 13 22 22 40 30c22 9 58 19 90 25c32 6 67 7 100 10c33 3 67 4 100 5c33 1 67 1 100 0c33-1 67-2 100-5c33-3 67-10 100-15c33-5 73-12 100-15c24-3 50-22 60-5c10 17 10 88 0 105c-10 17-36-3-60-3c-27 0-67 4-100 6c-33 2-67 5-100 7c-33 2-67 3-100 5c-33 2-67 2-100 5c-33 3-72 7-100 10c-28 3-48 6-70 10c-22 4-57 7-60 15c-3 8 23 19 40 30c17 11 48 24 60 35c9 9 17 21 10 30c-7 9-32 17-50 25c-18 8-37 14-60 20c-23 6-52 13-80 15c-28 2-63-1-90-5c-27-4-45-12-70-20c-25-8-50-16-80-25c-30-9-67-21-100-30c-33-9-67-18-100-25c-33-7-78-12-100-15c-12-2-29 7-30-5c-5-64-95-317 0-380z" fill="#94b816"/>
<path d="M570 570c3-15 15-21 30-25c18-5 50-5 80-5c30 0 63 2 100 5c37 3 83 10 120 15c37 5 67 11 100 15c33 4 67 7 100 10c33 3 65 7 100 10c35 3 92-7 110 5c18 12 28 67 0 70c-122 12-612 17-735 0c-40-5-9-79-5-100z" fill="#94b816"/>
<path d="M820 620c13-11 50-12 80-15c30-3 67-3 100-3c33 0 67 2 100 3c33 1 65 3 100 5c35 2 92 0 110 10c18 10 20 48 0 50c-82 8-408 8-490 0c-20-2-13-39 0-50z" fill="#d4c820"/>
<path d="M-30 40c6-27 48-7 70-5c22 2 37 10 60 15c23 5 53 12 80 15c27 3 52 2 80 5c28 3 67 10 90 15c20 4 37 6 50 15c13 9 18 28 30 40c12 12 22 26 40 35c18 9 42 14 70 20c30 7 67 15 110 20c43 5 100 9 150 10c50 1 100-3 150-5c50-2 108-6 150-10c40-4 65-11 100-15c35-4 92-19 110-10c18 9 18 53 0 65c-18 12-75 4-110 5c-35 1-67 2-100 3c-33 1-67 2-100 4c-33 2-67 4-100 6c-33 2-67 2-100 4c-33 2-70 5-100 8c-30 3-53 7-80 10c-27 3-60 5-80 10c-17 4-43 13-40 20c3 7 40 12 60 20c20 8 45 20 60 30c14 9 33 21 30 30c-3 9-32 18-50 25c-18 7-38 12-60 15c-22 3-47 8-70 5c-23-3-45-13-70-20c-25-7-50-17-80-25c-30-8-67-17-100-25c-33-8-67-18-100-25c-33-7-75-12-100-15c-20-3-47 15-50-5c-8-49-12-241 0-290z" fill="#d4c820"/>
<path d="M1130 228c0-7 29-17 50-23c22-6 58-10 80-13c20-3 42-15 50-5c8 10 8 53 0 63c-8 10-30 1-50 0c-22-1-58-1-80-5c-21-4-50-10-50-17z" fill="#ffc420"/>
<path d="M-30 100c14-33 60 3 90 5c30 2 58 3 90 5c32 2 70 1 100 5c30 4 58 12 80 20c22 8 32 19 50 30c18 11 34 25 60 35c27 10 65 20 100 25c35 5 75 5 110 7c35 2 67 1 100 3c33 2 92 4 100 7c8 3-30 10-50 13c-25 4-67 7-100 10c-33 3-67 6-100 10c-33 4-72 10-100 15c-28 5-53 8-70 15c-15 6-33 18-30 25c3 7 30 9 50 15c20 6 52 12 70 20c18 8 37 21 40 30c3 9-8 20-20 25c-13 6-37 11-60 10c-23-1-53-8-80-15c-27-7-52-17-80-25c-28-8-58-17-90-25c-32-8-68-18-100-25c-32-7-63-12-90-15c-27-3-62 22-70-5c-12-38-15-184 0-220z" fill="#ffc420"/>
<path d="M-30 130c15-16 60 3 90 5c30 2 58 1 90 5c32 4 70 10 100 20c30 10 58 27 80 40c22 13 52 29 55 40c3 11-19 20-35 25c-18 6-45 10-70 10c-25 0-53-7-80-10c-27-3-57-6-80-10c-23-4-36-11-60-15c-25-4-75 8-90-10c-15-18-15-84 0-100z" fill="#ff9a10"/>
<path d="M300 380c-2-8 17-20 30-25c13-5 32-7 50-5c18 2 43 12 60 20c17 8 37 18 40 25c3 7-9 18-20 20c-13 3-40-3-60-5c-20-2-43-5-60-10c-17-5-38-12-40-20z" fill="#ff9a10"/>
<path d="M90 200c2-6 10-13 20-15c12-3 35-4 50 0c15 4 38 16 40 23c2 7-17 16-30 20c-13 4-38 5-50 4c-11-1-20-7-25-12c-5-5-7-14-5-20z" fill="#ff6a00"/>
<path d="M-30 150c8-8 39 3 50 10c11 7 15 21 15 30c0 9-4 22-15 25c-11 3-42 6-50-5c-8-11-8-52 0-60z" fill="#ff2a00"/>
</g></g>
<clipPath id="c19"><rect x="752.0" y="748.0" width="249.0" height="124.0"/></clipPath>
<g clip-path="url(#c19)">
<rect x="752.0" y="748.0" width="249.0" height="124.0" fill="#3c8c64"/>
<g transform="translate(752.0 748.0) scale(0.19529)">
<path d="M-30 -30c10-16 47-10 60 0c13 10 20 45 20 60c0 14-7 24-20 30c-13 6-50 20-60 5c-10-15-10-79 0-95z" fill="#006ca4"/>
<path d="M915 15c0-8 20-40 45-45c41-8 168-8 200 0c20 5 0 33-10 50c-10 17-33 38-50 50c-17 12-37 22-50 25c-12 2-22-2-30-10c-8-8-10-29-20-40c-10-11-26-20-40-25c-14-5-45 3-45-5z" fill="#006ca4"/>
<path d="M-30 315c22-28 83 3 130 5c47 2 110 6 150 10c36 4 82 10 90 15c8 5-23 12-40 15c-23 4-67 6-100 10c-33 4-77 7-100 15c-20 7-30 21-40 35c-10 14-10 38-20 50c-10 12-28 17-40 20c-12 3-28 12-30 0c-5-29-22-147 0-175z" fill="#006ca4"/>
<path d="M950 330c5-6 29-13 50-15c25-3 67-3 100-3c33 0 65 2 100 3c35 1 92-7 110 5c18 12 18 52 0 65c-18 13-75 10-110 15c-35 5-73 13-100 15c-24 2-43 1-60-5c-17-6-28-20-40-30c-12-10-22-22-30-30c-8-8-25-14-20-20z" fill="#006ca4"/>
<path d="M735 470c3-11 16-35 25-50c9-15 20-34 30-40c10-6 22-2 30 5c8 7 15 23 15 35c0 12-6 29-15 40c-9 11-28 21-40 25c-12 4-28 3-35 0c-7-2-12-8-10-15z" fill="#006ca4"/>
<path d="M-30 110c11-27 48-12 70-20c22-8 42-20 60-30c18-10 33-15 50-30c17-15 19-57 50-60c92-10 423-12 500 0c32 5-30 52-40 70c-9 16-20 25-20 40c0 15 7 35 20 50c13 15 37 30 60 40c23 10 50 16 80 20c30 4 67 7 100 5c33-2 73-7 100-15c26-7 43-18 60-30c17-12 19-32 40-40c23-8 65-8 100-10c35-2 92-32 110 0c18 32 18 160 0 190c-18 30-75-8-110-10c-35-2-67-4-100-5c-33-1-67-1-100 0c-33 1-67 3-100 5c-33 2-77 3-100 10c-19 5-27 20-40 30c-13 10-27 20-40 30c-13 10-27 22-40 30c-13 8-22 17-40 20c-20 3-57 2-80 0c-23-2-40-5-60-10c-20-5-47-10-60-20c-13-10-13-28-20-40c-7-12-7-24-20-30c-20-8-67-15-100-20c-33-5-67-6-100-8c-33-2-67-3-100-4c-33-1-78-2-100-3c-12-1-28 9-30-3c-5-26-12-123 0-152z" fill="#48a610"/>
<path d="M440 370c3-5 40 10 60 20c20 10 43 27 60 40c17 13 27 28 40 40c13 12 23 20 40 30c17 10 40 22 60 30c20 8 57 8 60 15c3 7-28 18-40 30c-12 12-23 24-30 40c-7 16 11 47-10 55c-25 9-118 4-140 0c-10-2-3-19 5-25c8-6 31-5 45-10c14-5 32-10 40-20c8-10 15-27 10-40c-5-13-28-27-40-40c-12-13-18-28-30-40c-12-12-25-17-40-30c-15-13-35-29-50-45c-15-16-43-45-40-50z" fill="#48a610"/>
<path d="M-30 560c22-15 92 13 130 20c38 7 67 13 100 20c33 7 67 12 100 20c33 8 83 17 100 25c9 4 10 24 0 25c-72 4-358 18-430 0c-43-11-22-95 0-110z" fill="#48a610"/>
<path d="M-30 590c22-11 92 8 130 15c38 7 73 19 100 30c26 10 87 31 60 35c-38 6-242 13-290 0c-31-9-22-69 0-80z" fill="#94b816"/>
<path d="M780 570c11-18 29-15 50-15c28 0 75 7 120 15c45 8 108 22 150 30c40 7 65 11 100 15c35 4 92 1 110 10c16 8 18 44 0 45c-92 8-462 17-550 0c-40-8 8-81 20-100z" fill="#48a610"/>
<path d="M800 620c12-13 27-27 50-30c25-3 67 4 100 10c33 6 67 17 100 25c33 8 75 17 100 25c21 6 72 19 50 20c-62 3-353 8-420 0c-21-3 8-37 20-50z" fill="#94b816"/>
<path d="M-30 135c12-23 48-12 70-20c22-8 42-19 60-30c18-11 37-21 50-35c13-14 22-37 30-50c8-12 8-25 20-30c12-5 43-10 50 0c7 10-12 42-10 60c2 18 7 38 20 50c13 12 45 20 60 20c14 0 17-15 30-20c13-5 30-10 50-10c22 0 53 3 80 10c27 7 60 21 80 30c17 8 27 15 40 25c13 10 21 25 40 35c20 11 53 22 80 30c27 8 50 16 80 20c30 4 67 4 100 2c33-2 73-8 100-17c27-9 43-27 60-40c17-13 19-32 40-40c23-9 65-11 100-13c35-2 92-27 110 0c18 27 18 135 0 160c-18 25-75-8-110-10c-35-2-67-4-100-4c-33 0-67 1-100 2c-33 1-67 3-100 5c-33 2-73 3-100 7c-25 4-47 10-60 18c-12 7-12 20-20 30c-8 10-18 22-30 30c-12 8-25 14-40 20c-15 6-32 13-50 15c-18 2-40-1-60-5c-20-4-43-12-60-20c-17-8-30-20-40-30c-10-10-12-22-20-30c-8-8-17-12-30-15c-20-5-58-13-90-17c-32-4-67-6-100-8c-33-2-67-4-100-5c-33-1-78-2-100-3c-12 0-27 10-30-2c-5-20-12-92 0-115z" fill="#94b816"/>
<path d="M380 -30c-15 8 12 37 20 50c8 13 18 27 30 30c12 3 30 3 40-10c10-13 35-58 20-70c-15-12-95-8-110 0z" fill="#94b816"/>
<path d="M250 -30c-15 4 4 29 12 38c8 9 23 12 38 14c15 2 35 0 50-4c15-4 30-10 38-18c8-8 22-27 10-30c-23-5-125-6-148 0z" fill="#94b816"/>
<path d="M-30 160c12-16 52-2 70-10c18-8 30-25 40-40c10-15 18-32 20-50c2-18-10-45-10-60c0-13 3-32 10-30c7 2 20 23 30 40c10 17 20 43 30 60c10 17 15 29 30 40c15 11 42 20 60 25c18 5 33-1 50 5c17 6 30 22 50 30c20 8 45 17 70 20c25 3 57-2 80 0c23 2 40 5 60 10c20 5 37 12 60 20c23 8 57 21 80 30c23 9 53 16 60 25c7 9-10 21-20 30c-10 9-23 17-40 25c-17 8-40 16-60 20c-20 4-40 6-60 5c-20-1-42-4-60-10c-18-6-37-16-50-25c-13-9-18-22-30-30c-12-8-23-11-40-15c-23-5-67-11-100-15c-33-4-67-6-100-8c-33-2-67-3-100-4c-33-1-78-2-100-3c-12 0-26 11-30 0c-5-14-12-69 0-85z" fill="#d4c820"/>
<path d="M830 250c10-6 42-13 70-20c28-7 73-12 100-20c26-8 43-19 60-30c17-11 20-27 40-35c20-8 48-12 80-15c35-3 108-28 130-5c22 23 18 121 0 145c-18 24-75 0-110 0c-35 0-67 0-100 0c-33 0-67 0-100 0c-33 0-73 1-100 0c-24-1-48-2-60-5c-7-2-16-11-10-15z" fill="#d4c820"/>
<path d="M-30 190c12-11 48-3 70-10c22-7 45-18 60-30c15-12 27-25 30-40c3-15-7-35-10-50c-3-15-10-36-8-40c2-4 17 6 23 15c8 12 14 39 25 55c11 16 23 30 40 40c17 10 42 15 60 20c18 5 33 4 50 10c17 6 32 18 50 25c18 7 37 17 60 20c23 3 57-3 80 0c23 3 40 8 60 15c20 7 40 17 60 25c20 8 47 17 60 25c11 7 23 18 20 25c-3 7-23 15-40 20c-17 5-40 7-60 7c-20 0-40-4-60-7c-20-3-43-10-60-10c-16 0-27 13-40 10c-13-3-21-24-40-30c-23-7-67-11-100-15c-33-4-67-7-100-10c-33-3-67-8-100-10c-33-2-78-4-100-5c-12 0-25 9-30 0c-5-9-12-44 0-55z" fill="#ffc420"/>
<path d="M990 240c0-7 35-16 50-25c15-9 28-21 40-30c12-9 15-21 30-25c20-6 57-8 90-10c33-2 92-22 110-5c18 17 18 93 0 110c-18 17-75-5-110-5c-35 0-73 4-100 5c-24 1-42 3-60 0c-18-3-50-8-50-15z" fill="#ffc420"/>
<path d="M60 220c0-9 23-22 40-30c17-8 38-15 60-20c22-5 47-10 70-10c23 0 50 5 70 10c20 5 33 13 50 20c17 7 30 16 50 20c20 4 50 3 70 5c20 2 45-3 50 5c5 8-12 28-20 40c-8 12-20 23-30 30c-10 7-18 13-30 10c-12-3-22-22-40-30c-18-8-45-12-70-15c-25-3-53-4-80-5c-27-1-55 1-80 0c-25-1-52 0-70-5c-18-5-40-16-40-25z" fill="#ff9a10"/>
<path d="M520 255c3-6 15-19 25-20c10-1 30 9 35 15c5 6 1 15-5 20c-6 5-22 10-30 10c-8 0-16-4-20-8c-4-4-8-11-5-17z" fill="#ff9a10"/>
<path d="M1090 210c2-7 11-17 20-20c9-3 28-3 35 2c7 5 7 20 5 28c-2 8-12 16-20 18c-8 2-23-1-30-6c-7-5-12-15-10-22z" fill="#ff9a10"/>
<path d="M165 220c1-6 14-16 25-18c11-2 30-1 40 3c10 4 21 14 20 20c-1 6-14 13-25 15c-11 2-30 3-40 0c-10-3-21-14-20-20z" fill="#ff6a00"/>
<path d="M330 200c3-4 18-8 30-5c12 3 23 15 40 20c17 5 43 9 60 10c16 1 35-9 40-5c5 4-4 20-10 30c-6 10-17 24-25 30c-8 6-16 10-25 5c-9-5-18-26-30-35c-12-9-28-15-40-20c-12-5-23-7-30-12c-7-5-13-14-10-18z" fill="#ff6a00"/>
<path d="M375 215c1-3 16 2 25 5c9 3 19 10 30 12c11 2 27-2 35 0c7 2 14 7 13 13c-1 6-12 20-18 25c-5 4-10 8-15 5c-6-3-12-19-20-25c-8-6-22-6-30-12c-8-6-21-20-20-23z" fill="#ff2a00"/>
<path d="M1170 255c0-7 17-20 30-25c13-5 32-3 50-5c18-2 50-14 60-5c10 9 18 51 0 60c-18 9-87-1-110-5c-14-3-30-13-30-20z" fill="#94b816"/>
<path d="M1190 265c2-5 17-16 30-20c13-4 35-4 50-5c15-1 33-7 40 0c7 7 15 34 0 40c-17 6-80 0-100-2c-9-1-22-8-20-13z" fill="#48a610"/>
</g></g>
<clipPath id="c20"><rect x="380.0" y="720.0" width="249.0" height="124.0"/></clipPath>
<g clip-path="url(#c20)">
<rect x="380.0" y="720.0" width="249.0" height="124.0" fill="#94b816"/>
<g transform="translate(380.0 720.0) scale(0.19529)">
<path d="M-30 -30c38-38 198-12 230 0c30 11-30 48-40 70c-10 22-15 43-20 60c-5 16-2 29-10 40c-8 11-25 18-40 25c-15 7-30 15-50 20c-20 5-61 37-70 10c-12-36-38-187 0-225z" fill="#48a610"/>
<path d="M-30 -30c20-34 98-12 120 0c22 12 12 48 15 70c3 22 9 43 5 60c-4 17-17 29-30 40c-13 11-32 19-50 25c-18 6-53 33-60 10c-10-33-20-171 0-205z" fill="#3c8c64"/>
<path d="M-30 -30c5-19 35-12 50 0c15 12 29 52 40 70c10 16 25 27 25 40c0 13-14 29-25 40c-11 11-25 20-40 25c-15 5-44 24-50 5c-8-29-8-150 0-180z" fill="#006ca4"/>
<path d="M-30 200c4-16 31-5 40 5c9 10 13 34 15 55c2 21-1 52-5 70c-4 17-12 32-20 40c-8 8-28 22-30 10c-5-28-7-151 0-180z" fill="#48a610"/>
<path d="M1310 110c-8-23-38 3-60 10c-22 7-53 18-70 30c-16 11-28 23-30 40c-2 17 7 43 15 60c8 17 19 31 35 40c16 9 42 13 60 15c18 2 45 14 50-5c8-32 10-160 0-190z" fill="#48a610"/>
<path d="M-30 415c12-25 55-43 70-65c15-22 15-48 20-70c5-22 2-40 10-60c8-20 25-43 40-60c15-17 27-30 50-40c23-10 58-16 90-20c32-4 67-6 100-5c33 1 72 6 100 10c28 4 52 17 70 15c18-2 23-20 40-30c17-10 43-27 60-30c16-3 30 3 40 10c10 7 10 20 20 30c10 10 27 25 40 30c13 5 27 5 40 0c13-5 22-22 40-30c23-10 67-22 100-30c33-8 67-12 100-15c33-3 67-5 100-5c33 0 81 0 100 5c11 3 23 16 15 25c-8 9-37 23-65 30c-28 7-60 5-100 10c-42 5-108 13-150 20c-40 6-73 12-100 20c-26 8-48 21-60 30c-8 7-19 20-10 25c10 6 42 8 70 10c28 2 67-3 100 0c33 3 70 6 100 15c30 9 55 28 80 40c25 12 42 22 70 30c28 8 73 16 100 20c24 4 50-13 60 5c10 18 10 87 0 105c-10 18-38-2-60 0c-22 2-52 5-70 10c-17 5-37 12-40 20c-3 8 10 20 20 30c10 10 32 20 40 30c8 10 18 20 10 30c-8 10-33 26-60 30c-27 4-67-2-100-5c-33-3-75-6-100-10c-21-3-30-9-50-15c-22-7-57-18-80-25c-23-7-40-12-60-15c-20-3-40-2-60-5c-20-3-40-9-60-10c-20-1-37 6-60 5c-23-1-57-12-80-10c-23 2-36 12-60 20c-25 8-58 26-90 30c-32 4-67-2-100-5c-33-3-68-9-100-15c-32-6-60-15-90-20c-30-5-75 6-90-10c-15-16-12-60 0-85z" fill="#d4c820"/>
<path d="M-30 425c10-13 43-4 60-15c17-11 30-32 40-50c10-18 15-38 20-60c5-22 3-50 10-70c7-20 13-37 30-50c17-13 42-23 70-30c28-7 67-10 100-10c33 0 72 7 100 10c28 3 50 6 70 10c20 4 35 20 50 15c15-5 27-33 40-45c13-12 27-20 40-25c13-5 31-9 40-5c9 4 15 18 15 30c0 12-9 28-15 40c-6 12-22 20-20 30c2 10 14 24 30 30c17 7 45 7 70 10c25 3 50 8 80 10c30 2 67 1 100 5c33 4 70 11 100 20c30 9 55 24 80 35c25 11 42 23 70 30c28 7 73 8 100 10c24 2 50-10 60 2c10 12 10 62 0 73c-10 11-38-6-60-5c-22 1-45 5-70 10c-25 5-70 10-80 20c-10 10 7 28 20 40c13 12 48 20 60 30c10 8 20 22 10 30c-10 8-45 12-70 15c-25 3-53 3-80 0c-27-3-57-9-80-15c-23-6-40-12-60-20c-20-8-40-22-60-30c-20-8-40-18-60-20c-20-2-40 8-60 10c-20 2-47 3-60 0c-11-3-10-22-20-20c-10 2-23 26-40 30c-17 4-40 0-60-5c-20-5-45-26-60-25c-15 1-17 22-30 30c-13 8-30 16-50 20c-20 4-45 5-70 5c-25 0-50-2-80-5c-30-3-68-10-100-15c-32-5-60-13-90-15c-30-2-75 11-90 0c-15-11-10-52 0-65z" fill="#ffc420"/>
<path d="M120 330c2-18 5-48 10-70c5-22 8-45 20-60c12-15 27-25 50-30c25-6 70-6 100-5c30 1 62 4 80 10c15 5 27 16 30 25c3 9-15 23-10 30c5 7 24 12 40 10c17-2 40-22 60-25c20-3 47-1 60 5c13 6 20 20 20 30c0 10-23 27-20 30c3 3 24-9 40-10c20-1 53 2 80 5c27 3 52 9 80 15c28 6 60 12 90 20c30 8 65 20 90 30c25 10 48 20 60 30c10 8 17 22 10 30c-7 8-29 18-50 20c-22 2-53-2-80-5c-27-3-57-7-80-10c-23-3-43-2-60-5c-17-3-27-15-40-15c-13 0-25 14-40 15c-15 1-35-10-50-10c-15 0-28 12-40 10c-12-2-18-15-30-20c-12-5-28-12-40-10c-12 2-20 15-30 20c-10 5-22 2-30 10c-8 8-13 27-20 40c-7 13-8 30-20 40c-12 10-32 17-50 20c-18 3-45 5-60 0c-15-5-28-17-30-30c-2-13 22-38 20-50c-2-12-17-20-30-20c-13 0-33 13-50 20c-17 7-33 12-50 20c-17 8-32 22-50 30c-18 8-38 18-60 20c-22 2-58 3-70-5c-12-8-12-36 0-45c12-9 50-3 70-10c20-7 37-20 50-30c13-10 25-18 30-30c5-12-1-24 0-40z" fill="#ff9a10"/>
<path d="M940 520c-2-8 8-22 20-25c13-3 40 2 60 5c20 3 45 9 60 15c13 5 28 13 30 20c2 7-9 17-20 20c-13 3-40 2-60 0c-20-2-45-4-60-10c-15-6-28-17-30-25z" fill="#ff9a10"/>
<path d="M170 280c-2-17-2-44 5-60c7-16 16-29 35-35c21-7 62-5 90-5c28 0 64 0 80 5c11 4 20 18 15 25c-5 7-36 8-45 15c-9 6-13 16-10 25c3 9 20 22 30 30c10 8 23 10 30 20c7 10 5 28 10 40c5 12 18 18 20 30c2 12-3 28-10 40c-7 12-18 27-30 30c-12 3-28-3-40-10c-12-7-20-20-30-30c-10-10-22-18-30-30c-8-12-13-27-20-40c-7-13-12-35-20-40c-8-5-20 5-30 10c-10 5-22 23-30 20c-8-3-18-23-20-40z" fill="#ff6a00"/>
<path d="M410 290c2-13 8-31 20-40c12-9 35-15 50-15c15 0 32 6 40 15c8 9 8 25 5 40c-3 15-16 37-25 50c-9 13-20 27-30 30c-10 3-22-3-30-10c-8-7-15-18-20-30c-5-12-12-27-10-40z" fill="#ff6a00"/>
<path d="M575 310c2-12 13-28 25-35c12-7 33-13 50-10c17 3 38 14 50 25c12 11 20 26 20 40c0 14-10 34-20 45c-10 11-27 19-40 20c-13 1-28-7-40-15c-12-8-22-18-30-30c-8-12-17-28-15-40z" fill="#ff6a00"/>
<path d="M720 350c0-9 17-18 30-20c13-2 38 1 50 5c12 4 25 13 25 20c0 7-13 21-25 25c-12 4-37 7-50 2c-13-5-30-23-30-32z" fill="#ff6a00"/>
<path d="M195 265c-1-10-3-23 5-30c8-7 27-9 40-10c13-1 35-1 40 5c5 6-2 20-10 30c-8 10-29 24-40 30c-9 5-19 9-25 5c-6-4-9-20-10-30z" fill="#ff2a00"/>
<path d="M300 310c-2-14 3-39 10-50c7-11 20-18 30-15c10 3 20 21 30 30c10 9 24 14 30 25c6 11 7 29 5 40c-2 11-6 22-15 25c-9 3-28-2-40-5c-12-3-22-7-30-15c-8-8-18-21-20-35z" fill="#ff2a00"/>
<path d="M435 290c1-8 4-20 10-25c6-5 19-7 25-3c6 4 11 18 10 28c-1 10-8 26-15 30c-7 4-20 0-25-5c-5-5-6-17-5-25z" fill="#ff2a00"/>
<path d="M605 320c1-11 7-28 15-35c8-7 22-13 30-10c8 3 13 14 15 25c2 11-1 29-5 40c-4 11-12 23-20 25c-8 2-19-7-25-15c-6-8-11-19-10-30z" fill="#ff2a00"/>
<path d="M-30 540c15-20 60 5 90 10c30 5 58 14 90 20c32 6 67 12 100 15c33 3 68 4 100 0c32-4 65-17 90-25c25-8 37-22 60-25c23-3 57 5 80 5c23 0 40-5 60-5c20 0 40 3 60 5c20 2 40 2 60 5c20 3 37 8 60 15c23 7 58 18 80 25c20 6 30 8 50 15c20 7 55 13 70 25c15 12 40 44 20 45c-175 8-892 22-1070 0c-52-6-15-110 0-130z" fill="#48a610"/>
<path d="M-30 575c15-14 60 6 90 10c30 4 58 11 90 15c32 4 67 10 100 12c33 2 68 4 100 0c32-4 65-13 90-22c25-9 37-25 60-30c23-5 57 2 80 2c23 0 40-4 60-4c20 0 40 2 60 4c20 2 40 2 60 6c20 4 37 10 60 17c23 7 57 16 80 25c23 9 50 20 60 30c8 8 12 30 0 30c-165 5-825 16-990 0c-38-4-15-81 0-95z" fill="#3c8c64"/>
<path d="M600 600c7-15 22-17 40-20c20-3 53 0 80 2c27 2 57 7 80 13c23 6 45 13 60 25c15 12 53 46 30 50c-43 8-242 12-290 0c-27-7-7-55 0-70z" fill="#006ca4"/>
<path d="M1310 445c-12-7-47 2-70 5c-23 3-54 9-70 15c-12 4-27 14-25 20c2 6 20 13 35 15c18 2 48 1 70 0c22-1 50 4 60-5c10-9 12-43 0-50z" fill="#48a610"/>
</g></g>
<clipPath id="c21"><rect x="255.0" y="1094.0" width="249.0" height="186.0"/></clipPath>
<g clip-path="url(#c21)">
<rect x="255.0" y="1094.0" width="249.0" height="186.0" fill="#ffffff"/>
<g transform="translate(255.0 1094.0) scale(0.19529)">
<path d="M-30 -30c223-34 1117-27 1340 0c64 8 18 138 0 160c-18 22-75-22-110-30c-35-8-67-16-100-20c-33-4-60-4-100-5c-50-1-133 0-200 0c-67 0-133-1-200 0c-67 1-133 3-200 5c-67 2-142 2-200 5c-58 3-123 1-150 15c-25 13 3 58-10 70c-13 12-61 31-70 5c-12-33-81-193 0-205z" fill="#ffe4df"/>
<path d="M550 160c15-12 65-18 100-20c35-2 68 7 110 10c42 3 100 10 140 10c40 0 67-7 100-10c33-3 67-10 100-10c33 0 65 5 100 10c35 5 92-10 110 20c18 30 18 135 0 160c-18 25-75-5-110-10c-35-5-67-15-100-20c-33-5-73-10-100-10c-24 0-47 15-60 10c-13-5-7-28-20-40c-15-13-43-35-70-40c-27-5-57 8-90 10c-33 2-77 3-110 0c-33-3-73-8-90-20c-17-12-25-38-10-50z" fill="#dfe5fe"/>
<path d="M100 290c5-13 28-41 50-55c22-14 53-25 80-30c27-5 60-3 80 3c20 6 42 22 40 32c-2 10-28 23-50 30c-22 7-58 3-80 10c-22 7-33 24-50 30c-17 6-38 8-50 5c-12-3-24-13-20-25z" fill="#ffe4df"/>
<path d="M120 280c5-11 22-29 40-40c18-11 47-21 70-25c23-4 52-4 70 0c18 4 40 17 40 25c0 8-23 16-40 20c-20 5-57 3-80 10c-23 7-45 24-60 30c-11 4-23 8-30 5c-7-3-15-15-10-25z" fill="#ffcabf"/>
<path d="M-30 330c15-22 65-10 90-10c24 0 37 8 60 10c23 2 57 7 80 0c23-7 40-35 60-40c20-5 53 0 60 10c7 10-8 37-20 50c-12 13-30 22-50 30c-20 8-45 13-70 20c-25 7-57 13-80 20c-23 7-38 15-60 20c-22 5-58 28-70 10c-12-18-15-98 0-120z" fill="#dfe5fe"/>
<path d="M-30 350c15-13 65-10 90-10c24 0 40 9 60 10c20 1 43-7 60-5c17 2 42 8 40 15c-2 7-30 18-50 25c-20 7-48 10-70 15c-22 5-38 12-60 15c-22 3-58 16-70 5c-12-11-15-57 0-70z" fill="#bfcafd"/>
<path d="M450 340c3-16 37-39 70-50c33-11 87-14 130-15c43-1 92 7 130 10c38 3 85 0 100 10c15 10 2 34-10 50c-13 17-42 42-70 55c-28 13-65 22-100 25c-35 3-77-3-110-10c-33-7-67-17-90-30c-23-13-53-29-50-45z" fill="#ffe4df"/>
<path d="M520 340c0-12 37-24 60-28c23-4 57-2 80 3c23 5 48 17 60 30c12 13 20 37 10 47c-10 10-45 14-70 13c-25-1-57-9-80-20c-23-11-60-33-60-45z" fill="#ffcabf"/>
<path d="M1000 390c10-10 50-23 80-30c30-7 72 0 100-10c28-10 48-40 70-50c22-10 52-33 60-10c10 28 18 150 0 180c-18 30-75 5-110 0c-35-5-70-22-100-30c-30-8-63-12-80-20c-13-6-30-20-20-30z" fill="#ffe4df"/>
<path d="M1050 400c0-9 45-22 70-25c25-3 58 1 80 5c21 4 50 10 50 20c0 10-28 35-50 40c-22 5-55-3-80-10c-25-7-70-21-70-30z" fill="#ffcabf"/>
<path d="M-30 470c22-20 92-23 130-30c38-7 67-10 100-10c33 0 67 10 100 10c33 0 67-8 100-10c33-2 67-2 100 0c33 2 67 8 100 10c33 2 67 2 100 0c33-2 67-7 100-10c33-3 67-12 100-10c33 2 67 12 100 20c33 8 67 20 100 30c33 10 65 22 100 30c35 8 92-5 110 20c18 25 10 110 0 130c-10 20-42-5-60-10c-18-5-33-20-50-20c-17 0-29 17-50 20c-25 3-67 0-100 0c-33 0-67 5-100 0c-33-5-72-28-100-30c-28-2-45 13-70 20c-25 7-58 12-80 20c-22 8-33 28-50 30c-17 2-32-13-50-20c-18-7-40-10-60-20c-20-10-43-27-60-40c-17-13-27-30-40-40c-13-10-23-14-40-20c-18-7-45-10-70-20c-25-10-58-37-80-40c-21-3-48 7-50 20c-2 13 40 40 40 60c0 20-20 53-40 60c-20 7-57-12-80-20c-23-8-35-23-60-30c-25-7-75 7-90-10c-15-17-22-70 0-90z" fill="#dfe5fe"/>
<path d="M440 450c20-8 117-1 160 0c40 1 73 5 100 5c24 0 36-3 60-5c33-2 100-12 140-10c40 2 67 12 100 20c33 8 70 20 100 30c30 10 72 12 80 30c8 18-8 62-30 80c-22 18-67 25-100 30c-33 5-67 5-100 0c-33-5-72-28-100-30c-28-2-45 13-70 20c-25 7-57 15-80 20c-23 5-43 13-60 10c-17-3-27-18-40-30c-13-12-27-27-40-40c-13-13-27-27-40-40c-13-13-27-25-40-40c-13-15-60-42-40-50z" fill="#bfcafd"/>
<path d="M720 500c3-17 21-23 40-30c22-8 58-17 90-20c32-3 70-5 100 0c30 5 55 18 80 30c25 12 58 23 70 40c12 17 13 43 0 60c-13 17-53 32-80 40c-27 8-53 15-80 10c-27-5-57-35-80-40c-23-5-40 13-60 10c-20-3-47-13-60-30c-13-17-23-53-20-70z" fill="#9fb0fc"/>
<path d="M760 520c0-13 22-22 40-30c20-8 53-17 80-20c27-3 57-5 80 0c23 5 45 17 60 30c15 13 33 33 30 50c-3 17-30 38-50 50c-20 12-48 23-70 20c-22-3-38-32-60-40c-22-8-52 0-70-10c-18-10-40-37-40-50z" fill="#8096fc"/>
<path d="M850 590c0-10 32-18 50-20c18-2 43 5 60 10c17 5 40 12 40 20c0 8-23 25-40 30c-17 5-42 7-60 0c-18-7-50-30-50-40z" fill="#607bfb"/>
<path d="M-30 480c15-14 63-10 90-10c27 0 55 2 70 10c15 8 25 28 20 40c-5 12-30 23-50 30c-20 7-48 9-70 10c-22 1-50 8-60-5c-10-13-15-61 0-75z" fill="#bfcafd"/>
<path d="M110 570c-2-10 7-24 20-30c15-7 50-10 70-10c20 0 33 12 50 10c17-2 29-23 50-20c22 3 65 27 80 40c12 11 17 30 10 40c-7 10-29 18-50 20c-22 2-57-12-80-10c-23 2-40 22-60 20c-20-2-45-20-60-30c-14-9-28-20-30-30z" fill="#ffffff"/>
<path d="M300 510c-3-8 7-32 20-40c13-8 43-8 60-5c17 3 37 17 40 25c3 8-9 16-20 20c-13 5-43 10-60 10c-16 0-37-2-40-10z" fill="#ffcabf"/>
<path d="M-30 570c15-23 65 3 90 10c25 7 47 17 60 30c13 13 23 35 20 50c-3 15-23 30-40 40c-17 10-38 17-60 20c-22 3-58 25-70 0c-12-25-15-127 0-150z" fill="#dfe5fe"/>
<path d="M-30 590c12-17 52 2 70 10c18 8 37 25 40 40c3 15-2 40-20 50c-18 10-75 27-90 10c-15-17-12-93 0-110z" fill="#bfcafd"/>
<path d="M170 700c0-25 18-56 40-70c22-14 63-17 90-15c27 2 52 11 70 25c18 14 38 38 40 60c2 22-12 54-30 70c-18 16-52 23-80 25c-28 2-68 1-90-15c-22-16-40-55-40-80z" fill="#ffe4df"/>
<path d="M200 700c0-18 13-40 30-50c17-10 50-12 70-10c20 2 37 10 50 20c13 10 28 25 30 40c2 15-7 38-20 50c-13 12-38 18-60 20c-22 2-53 2-70-10c-17-12-30-42-30-60z" fill="#ffcabf"/>
<path d="M440 760c3-15 13-37 30-50c17-13 45-23 70-30c25-7 53-12 80-10c27 2 60 15 80 20c16 4 40 3 40 10c0 7-23 20-40 30c-17 10-43 20-60 30c-17 10-23 22-40 30c-17 8-40 15-60 20c-20 5-45 12-60 10c-14-2-23-10-30-20c-7-10-13-25-10-40z" fill="#ffcabf"/>
<path d="M460 760c2-13 15-30 30-40c15-10 40-17 60-20c20-3 48-5 60 0c12 5 15 18 10 30c-5 12-23 28-40 40c-17 12-42 25-60 30c-17 5-35 7-45 0c-10-7-17-27-15-40z" fill="#ffaf9f"/>
<path d="M480 760c2-10 17-23 30-30c13-7 37-12 50-10c13 2 32 10 30 20c-2 10-25 32-40 40c-15 8-38 13-50 10c-12-3-22-20-20-30z" fill="#ff9480"/>
<path d="M560 980c-31-13 17-53 30-80c13-27 32-55 50-80c18-25 38-53 60-70c22-17 55-33 70-30c15 3 13 30 20 50c7 20 13 53 20 70c5 13 22 20 20 30c-2 10-22 16-30 30c-8 14-17 39-20 52c-3 11 11 27 0 28c-37 5-188 13-220 0z" fill="#bfcafd"/>
<path d="M580 980c-20-13 23-53 40-80c17-27 43-60 60-80c14-17 27-35 40-40c13-5 30-2 40 10c10 12 20 42 20 60c0 18-13 33-20 50c-7 17-17 39-20 52c-3 11 11 26 0 28c-27 5-140 13-160 0z" fill="#9fb0fc"/>
<path d="M600 980c-10-10 23-42 40-60c17-18 43-43 60-50c15-6 37 0 40 10c3 10-13 33-20 50c-7 17 0 42-20 50c-20 8-90 10-100 0z" fill="#8096fc"/>
<path d="M780 720c10-10 50-13 70-10c20 3 45 17 50 30c5 13-13 35-20 50c-7 15-13 28-20 40c-7 12-12 30-20 30c-8 0-22-15-30-30c-8-15-15-42-20-60c-5-18-20-40-10-50z" fill="#bfcafd"/>
<path d="M700 660c3-10 38-20 60-30c22-10 47-28 70-30c23-2 42 13 70 20c28 7 67 18 100 20c33 2 70-7 100-5c30 2 63 6 80 15c16 9 23 28 20 40c-3 12-23 22-40 30c-17 8-43 18-60 20c-16 2-25-4-40-10c-17-7-43-28-60-30c-17-2-23 15-40 20c-17 5-42 13-60 10c-18-3-33-22-50-30c-17-8-32-18-50-20c-18-2-43 13-60 10c-17-3-43-20-40-30z" fill="#ffcabf"/>
<path d="M830 640c3-9 32-17 50-15c18 2 40 21 60 25c20 4 40-2 60 0c20 2 36 7 60 10c25 3 72 3 90 10c14 5 25 22 20 30c-5 8-33 20-50 20c-17 0-30-13-50-20c-20-7-50-20-70-20c-20 0-33 15-50 20c-17 5-35 13-50 10c-15-3-28-18-40-30c-12-12-33-31-30-40z" fill="#ffaf9f"/>
<path d="M860 650c2-8 27-13 40-10c13 3 35 20 40 30c5 10-2 27-10 30c-8 3-28-2-40-10c-12-8-32-32-30-40z" fill="#ff9480"/>
<path d="M1080 680c2-7 28-12 40-10c12 2 32 18 30 25c-2 7-28 17-40 15c-12-2-32-23-30-30z" fill="#ff9480"/>
<path d="M960 700c5-10 27-20 40-20c13 0 30 10 40 20c10 10 10 28 20 40c10 12 27 22 40 30c13 8 32 10 40 20c8 10 13 30 10 40c-3 10-18 20-30 20c-12 0-27-12-40-20c-13-8-27-20-40-30c-13-10-28-20-40-30c-12-10-23-18-30-30c-7-12-15-30-10-40z" fill="#9fb0fc"/>
<path d="M1060 790c0-10 27-12 40-10c13 2 33 11 40 20c7 9 7 28 0 35c-7 7-27 13-40 5c-13-8-40-40-40-50z" fill="#8096fc"/>
<path d="M1085 800c3-6 27-8 35-5c8 3 18 19 15 25c-3 6-22 15-30 12c-8-3-23-26-20-32z" fill="#607bfb"/>
<path d="M820 880c2-8 17-22 30-30c13-8 29-17 50-20c22-3 57-3 80 0c23 3 47 12 60 20c12 8 23 20 20 30c-3 10-22 24-40 30c-18 6-47 5-70 5c-23 0-52-3-70-5c-16-2-30-5-40-10c-10-5-22-12-20-20z" fill="#ffcabf"/>
<path d="M870 870c0-8 32-17 50-20c18-3 43-3 60 0c17 3 38 12 40 20c2 8-15 21-30 25c-17 5-50 9-70 5c-20-4-50-22-50-30z" fill="#ffaf9f"/>
<path d="M1140 860c0-13 13-45 20-60c6-13 10-28 20-30c10-2 32 10 40 20c8 10 13 27 10 40c-3 13-18 32-30 40c-12 8-30 12-40 10c-10-2-20-9-20-20z" fill="#ffcabf"/>
<path d="M1165 830c1-11 13-32 20-35c7-3 21 7 25 15c4 8 5 27 0 35c-5 8-22 17-30 15c-8-2-16-19-15-30z" fill="#ffaf9f"/>
<path d="M1210 600c0-15 23-32 40-40c17-8 50-27 60-10c10 17 10 93 0 110c-10 17-43 0-60-10c-17-10-40-35-40-50z" fill="#bfcafd"/>
<path d="M120 800c8-8 50-18 80-20c30-2 70 7 100 10c30 3 70 5 80 10c10 5-9 18-20 20c-22 3-75-1-110 0c-35 1-78 8-100 5c-15-2-38-17-30-25z" fill="#dfe5fe"/>
<path d="M-30 800c15-12 60 13 90 20c30 7 58 18 90 20c32 2 70-8 100-10c30-2 55 2 80 0c25-2 52-3 70-10c18-7 28-30 40-30c12 0 17 23 30 30c13 7 38 5 50 10c10 4 23 9 20 20c-3 12-27 35-40 50c-13 15-28 27-40 40c-12 13-10 38-30 40c-60 7-268 15-330 0c-38-9-18-75-40-90c-22-15-75 15-90 0c-15-15-15-78 0-90z" fill="#ffcabf"/>
<path d="M-30 820c15-5 60 13 90 20c30 7 58 18 90 20c32 2 70-8 100-10c30-2 55 2 80 0c25-2 53-7 70-10c12-2 23-13 30-10c7 3 15 18 10 30c-5 12-22 30-40 40c-18 10-45 17-70 20c-25 3-50 3-80 0c-30-3-68-13-100-20c-32-7-60-15-90-20c-30-5-75 0-90-10c-15-10-15-45 0-50z" fill="#ffaf9f"/>
<path d="M20 850c12-2 50 7 80 10c30 3 70 10 100 10c30 0 55-10 80-10c25 0 52 7 70 10c16 3 42 4 40 10c-2 6-30 21-50 25c-20 4-47 1-70 0c-23-1-42-3-70-5c-28-2-72-6-100-10c-28-4-57-8-70-15c-10-5-21-23-10-25z" fill="#ff9480"/>
<path d="M280 880c3-6 27-10 40-10c13 0 35 5 40 10c5 5-2 17-10 20c-10 4-38 8-50 5c-12-3-23-19-20-25z" fill="#ff7a60"/>
<path d="M-30 900c12-14 50-8 70-5c20 3 40 11 50 25c10 14 30 50 10 60c-20 10-108 13-130 0c-22-13-12-66 0-80z" fill="#bfcafd"/>
</g></g>
<clipPath id="c22"><rect x="255.0" y="1280.0" width="249.0" height="187.0"/></clipPath>
<g clip-path="url(#c22)">
<rect x="255.0" y="1280.0" width="249.0" height="187.0" fill="#dfe5fe"/>
<g transform="translate(255.0 1280.0) scale(0.19529)">
<path d="M-30 790c22-35 78-10 130-10c55 0 133 12 200 10c67-2 150-15 200-20c40-4 77-15 100-10c22 5 23 32 40 40c17 8 36 10 60 10c27 0 75-3 100-10c23-6 27-24 50-30c33-8 92-17 150-20c58-3 148 1 200 0c44-1 92-45 110-5c18 40 96 227 0 245c-223 41-1117 33-1340 0c-79-12-22-165 0-200z" fill="#ffffff"/>
<path d="M100 100c2-18 13-32 30-40c17-8 42-13 70-10c28 3 67 28 100 30c33 2 77-23 100-20c22 3 35 22 40 40c5 18 0 50-10 70c-10 20-37 30-50 50c-13 20-17 50-30 70c-13 20-28 38-50 50c-22 12-62 23-80 20c-18-3-21-22-30-40c-12-22-28-65-40-90c-11-24-22-38-30-60c-8-22-22-52-20-70z" fill="#ffffff"/>
<path d="M-30 -30c22-30 103-12 130 0c27 12 30 48 30 70c0 22-17 43-30 60c-13 17-28 32-50 40c-22 8-67 38-80 10c-13-28-22-150 0-180z" fill="#ffffff"/>
<path d="M470 250c-5-12-2-43 5-60c7-17 25-33 35-40c8-6 22-8 25 0c3 8 0 31-5 50c-5 19-15 57-25 65c-10 8-30-3-35-15z" fill="#ffffff"/>
<path d="M900 400c13-17 67-23 100-30c33-7 67-7 100-10c33-3 65-8 100-10c35-2 92-33 110-5c18 28 18 147 0 175c-18 28-75-10-110-10c-35 0-67 12-100 10c-33-2-70-12-100-20c-30-8-63-13-80-30c-17-17-33-53-20-70z" fill="#ffffff"/>
<path d="M1150 400c8-12 43-15 70-20c27-5 75-27 90-10c15 17 15 93 0 110c-15 17-67-5-90-10c-21-5-38-8-50-20c-12-12-28-38-20-50z" fill="#ffe4df"/>
<path d="M450 -30c-36 13 12 67 30 90c18 23 52 42 80 50c28 8 67 8 90 0c23-8 38-27 50-50c12-23 55-78 20-90c-42-15-230-15-270 0z" fill="#bfcafd"/>
<path d="M500 -30c-23 12 13 53 30 70c17 17 48 30 70 30c22 0 48-13 60-30c12-17 36-59 10-70c-27-12-147-12-170 0z" fill="#9fb0fc"/>
<path d="M540 -30c-14 8 17 39 30 50c13 11 37 18 50 15c13-3 24-24 30-35c6-11 17-27 5-30c-18-5-101-8-115 0z" fill="#8096fc"/>
<path d="M565 -30c-7 7 14 35 25 40c11 5 32-3 40-10c8-7 16-25 5-30c-11-5-63-7-70 0z" fill="#607bfb"/>
<path d="M880 -30c-27 12 0 52 20 70c20 18 67 30 100 40c33 10 75 23 100 20c25-3 50-27 50-40c0-13-35-25-50-40c-15-15-15-44-40-50c-37-8-153-12-180 0z" fill="#bfcafd"/>
<path d="M940 -30c-10 10 22 47 40 60c18 13 57 25 70 20c13-5 12-37 10-50c-2-13-6-27-20-30c-20-5-90-10-100 0z" fill="#9fb0fc"/>
<path d="M220 40c2-15 40-58 60-70c20-12 53-10 60 0c7 10-8 45-20 60c-12 15-33 28-50 30c-17 2-52-5-50-20z" fill="#bfcafd"/>
<path d="M620 230c10-17 46-24 80-30c38-7 100-10 150-10c50 0 108 3 150 10c41 7 67 20 100 30c33 10 80 18 100 30c15 9 28 32 20 40c-8 8-42 10-70 10c-28 0-67-10-100-10c-33 0-67 7-100 10c-33 3-75 2-100 10c-24 8-32 32-50 40c-18 8-40 13-60 10c-20-3-43-18-60-30c-17-12-30-22-40-40c-10-18-30-53-20-70z" fill="#bfcafd"/>
<path d="M1040 250c5-6 37-12 60-10c23 2 63 16 80 25c13 7 28 25 20 30c-8 5-48 3-70 0c-22-3-45-13-60-20c-14-7-35-19-30-25z" fill="#9fb0fc"/>
<path d="M-30 280c15-10 63 2 90 10c27 8 48 27 70 40c22 13 35 32 60 40c25 8 58 17 90 10c32-7 75-33 100-50c24-16 33-45 50-50c17-5 43 10 50 20c7 10 2 28-10 40c-13 13-42 30-70 40c-28 10-67 17-100 20c-33 3-67 3-100 0c-33-3-73-13-100-20c-25-6-38-15-60-20c-22-5-58 3-70-10c-12-13-15-60 0-70z" fill="#bfcafd"/>
<path d="M-30 440c18-23 80-5 110 0c30 5 42 22 70 30c28 8 67 17 100 20c33 3 72-7 100 0c28 7 50 23 70 40c20 17 47 46 50 60c3 14-14 24-30 25c-20 2-58-11-90-15c-32-4-67-6-100-10c-33-4-68-13-100-15c-32-2-60 4-90 5c-30 1-75 23-90 0c-15-23-18-117 0-140z" fill="#bfcafd"/>
<path d="M450 450c0-6 45-10 70-10c25 0 53 3 80 10c27 7 55 27 80 30c25 3 45-10 70-10c25 0 62 2 80 10c18 8 28 27 30 40c2 13-7 34-20 40c-13 6-40-2-60-5c-20-3-43-7-60-15c-17-8-22-21-40-30c-20-10-53-24-80-30c-27-6-55 0-80-5c-25-5-70-19-70-25z" fill="#bfcafd"/>
<path d="M1030 600c0-12 42-22 70-30c28-8 65-18 100-20c35-2 92-7 110 10c18 17 18 75 0 90c-18 15-75 2-110 0c-35-2-72-2-100-10c-28-8-70-28-70-40z" fill="#bfcafd"/>
<path d="M-30 715c22-6 92-9 130-5c38 4 67 20 100 30c33 10 67 25 100 30c33 5 75 3 100 0c21-3 67-16 50-20c-17-4-108 0-150-5c-41-5-67-22-100-25c-33-3-62 1-100 5c-38 4-108 22-130 20c-12-1-12-27 0-30z" fill="#bfcafd"/>
<path d="M600 790c2-9 30-35 50-40c20-5 52 6 70 10c17 4 23 15 40 15c22 0 77-17 90-15c12 2 0 23-10 30c-12 8-37 16-60 20c-23 4-57 6-80 5c-23-1-43-6-60-10c-17-4-42-6-40-15z" fill="#bfcafd"/>
<path d="M190 440c3-4 20-14 30-15c10-1 27 6 30 10c3 4-3 13-10 15c-8 3-32 4-40 2c-6-1-13-8-10-12z" fill="#ffffff"/>
<path d="M490 395c3-4 23-7 30-5c7 2 13 16 10 20c-3 4-23 8-30 5c-7-3-13-16-10-20z" fill="#ffffff"/>
<path d="M210 640c3-5 23-14 40-15c20-2 63 1 80 5c11 3 25 16 20 20c-5 4-30 4-50 5c-20 1-55 3-70 0c-10-2-23-10-20-15z" fill="#ffffff"/>
<path d="M470 650c5-5 35-13 50-15c15-2 37 1 40 5c3 4-9 16-20 20c-12 4-38 7-50 5c-10-1-25-10-20-15z" fill="#ffffff"/>
<path d="M640 640c7-6 42-15 60-15c18 0 45 8 50 15c5 7-7 22-20 25c-15 3-55-1-70-5c-11-3-27-14-20-20z" fill="#ffffff"/>
<path d="M880 620c3-6 24-12 40-10c17 2 52 12 60 20c8 7 1 23-10 25c-13 3-55-4-70-10c-12-5-23-19-20-25z" fill="#ffffff"/>
<path d="M730 690c3-4 42-10 70-10c28 0 87 5 100 10c11 4-9 19-20 20c-20 2-75-2-100-5c-21-3-53-11-50-15z" fill="#ffffff"/>
<path d="M1170 165c0-7 17-10 30-10c13 0 42 4 50 10c8 6 8 20 0 25c-8 5-37 9-50 5c-13-4-30-23-30-30z" fill="#ffffff"/>
<path d="M850 770c13-8 59-18 100-20c42-2 100 4 150 5c50 1 125-3 150 0c8 1 8 19 0 20c-25 3-100-1-150 0c-50 1-112 1-150 5c-33 4-63 22-80 20c-14-1-32-22-20-30z" fill="#ffe4df"/>
<path d="M1060 -30c-26 7 15 43 30 60c15 17 33 30 60 40c27 10 73 18 100 20c24 2 50 15 60-5c10-20 42-96 0-115c-42-19-213-10-250 0z" fill="#ffffff"/>
</g></g>
<clipPath id="c23"><rect x="503.0" y="1094.0" width="249.0" height="186.0"/></clipPath>
<g clip-path="url(#c23)">
<rect x="503.0" y="1094.0" width="249.0" height="186.0" fill="#ffffff"/>
<g transform="translate(503.0 1094.0) scale(0.19529)">
<path d="M-30 -30c223-26 1117-60 1340 0c139 37 10 297 0 360c-4 25-42 20-60 20c-18 0-29-16-50-20c-25-5-67-7-100-10c-33-3-67-7-100-10c-33-3-67 2-100-10c-33-12-80-57-100-60c-18-3-5 31-20 40c-17 10-53 18-80 20c-27 2-57-2-80-10c-23-8-33-29-60-40c-28-12-75-22-110-30c-35-8-67-12-100-20c-33-8-72-18-100-30c-28-12-45-32-70-40c-25-8-50-9-80-10c-30-1-78 4-100 5c-12 0-28 12-30 0c-5-26-62-148 0-155z" fill="#ffe4df"/>
<path d="M430 150c5-8 41-17 70-20c32-3 97-5 120 0c14 3 30 22 20 30c-10 8-52 17-80 20c-28 3-68 5-90 0c-19-4-45-22-40-30z" fill="#ffcabf"/>
<path d="M940 250c7-11 33-29 60-35c27-6 67-2 100 0c33 2 65 7 100 10c35 3 92-8 110 10c18 18 10 83 0 100c-10 17-38 6-60 5c-22-1-45-8-70-12c-25-4-53-5-80-10c-27-5-57-12-80-18c-23-6-47-12-60-20c-12-8-27-19-20-30z" fill="#ffcabf"/>
<path d="M-30 240c22-43 92 2 130 0c38-2 67-12 100-10c33 2 73 12 100 20c26 8 55 18 60 30c5 12-12 32-30 40c-18 8-58 3-80 10c-22 7-45 18-50 30c-5 12 20 25 20 40c0 15-8 37-20 50c-12 13-30 22-50 30c-20 8-48 15-70 20c-22 5-42 10-60 10c-18 0-46 10-50-10c-8-45-22-217 0-260z" fill="#ffe4df"/>
<path d="M-30 380c15-18 63-10 90-10c27 0 55 2 70 10c15 8 25 25 20 40c-5 15-32 38-50 50c-18 12-38 18-60 20c-22 2-58 8-70-10c-12-18-15-82 0-100z" fill="#ffcabf"/>
<path d="M100 290c2-10 33-26 60-30c27-4 78 0 100 5c15 4 35 17 30 25c-5 8-37 15-60 20c-23 5-58 13-80 10c-22-3-52-20-50-30z" fill="#ffcabf"/>
<path d="M-30 180c15-8 68 2 90 5c17 3 35 7 40 15c5 8 1 24-10 30c-12 7-40 9-60 10c-20 1-50 5-60-5c-10-10-15-47 0-55z" fill="#dfe5fe"/>
<path d="M-30 520c7-36 60-5 90-10c30-5 58-12 90-20c32-8 72-22 100-25c28-3 45 0 70 5c25 5 53 17 80 25c27 8 47 22 80 25c33 3 93 0 120-8c22-7 22-28 40-42c20-15 72-38 80-50c8-12-32-17-30-25c2-8 22-23 40-25c18-2 53 2 70 10c17 8 32 30 30 40c-2 10-43 14-40 20c3 6 35 15 60 15c27 0 75-6 100-15c24-9 48-30 50-40c2-10-35-10-35-20c0-10 15-33 35-40c22-8 70-15 100-10c30 5 53 22 80 40c27 18 58 53 80 70c18 14 48 7 50 30c8 90 191 437 0 510c-223 85-1117 77-1340 0c-174-60-15-382 0-460z" fill="#dfe5fe"/>
<path d="M870 640c3-17 28-30 50-40c22-10 52-18 80-20c28-2 65-3 90 5c25 8 55 27 60 45c5 18-15 41-30 60c-15 19-37 47-60 55c-23 8-53 3-80-5c-27-8-62-23-80-40c-18-17-33-43-30-60z" fill="#ffffff"/>
<path d="M-30 560c12-22 48 3 70 0c22-3 35-14 60-20c27-7 70-13 100-20c30-7 50-22 80-20c30 2 67 20 100 30c33 10 63 25 100 30c37 5 83 3 120 0c37-3 70-10 100-20c30-10 55-30 80-40c25-10 42-15 70-20c28-5 67-2 100-10c33-8 67-32 100-40c33-8 67-17 100-10c33 7 73 37 100 50c24 12 50 18 60 30c10 12 15 36 0 40c-18 5-75-10-110-10c-35 0-67 5-100 10c-33 5-67 13-100 20c-33 7-67 18-100 20c-33 2-67-12-100-10c-33 2-67 15-100 20c-33 5-63 8-100 10c-37 2-83-3-120 0c-37 3-70 15-100 20c-30 5-50 7-80 10c-30 3-67 7-100 10c-33 3-73 3-100 10c-26 7-38 23-60 30c-22 7-58 30-70 10c-12-20-12-108 0-130z" fill="#bfcafd"/>
<path d="M-30 580c10-12 38 3 60 5c22 2 42 7 70 5c28-2 67-18 100-20c33-2 72 5 100 10c28 5 65 13 70 20c5 7-22 17-40 20c-20 3-50-2-80 0c-30 2-68 5-100 10c-32 5-60 15-90 20c-30 5-75 22-90 10c-15-12-10-68 0-80z" fill="#9fb0fc"/>
<path d="M-30 590c8-8 41 2 50 10c9 8 13 32 5 40c-8 8-46 18-55 10c-9-8-8-52 0-60z" fill="#8096fc"/>
<path d="M20 700c10-17 33-31 60-40c30-10 75-13 120-20c45-7 103-13 150-20c47-7 88-18 130-20c42-2 90 2 120 10c28 8 47 22 60 40c13 18 10 55 20 70c10 15 23 14 40 20c20 7 70 12 80 20c10 8-6 27-20 30c-25 5-93-2-130 0c-36 2-57 8-90 10c-33 2-75-2-110 0c-35 2-67 7-100 10c-33 3-67 7-100 10c-33 3-68 12-100 10c-32-2-68-8-90-20c-22-12-33-32-40-50c-7-18-10-43 0-60z" fill="#ffffff"/>
<path d="M60 740c0-17 17-39 40-50c23-12 60-14 100-20c42-7 108-13 150-20c40-6 65-16 100-20c35-4 80-8 110-5c30 3 55 13 70 25c15 12 20 33 20 50c0 17-5 37-20 50c-15 13-48 25-70 30c-22 5-45 7-60 0c-15-7-13-37-30-40c-17-3-42 13-70 20c-28 7-67 15-100 20c-33 5-67 8-100 10c-33 2-77 8-100 0c-23-8-40-33-40-50z" fill="#ffe4df"/>
<path d="M120 740c3-8 21-23 40-30c22-8 54-12 90-20c40-8 108-22 150-30c40-8 70-18 100-20c30-2 63 0 80 10c17 10 20 33 20 50c0 17-7 42-20 50c-13 8-47 7-60 0c-13-7-2-37-20-40c-20-3-67 13-100 20c-33 7-67 15-100 20c-33 5-73 8-100 10c-24 1-47 3-60 0c-11-3-23-12-20-20z" fill="#ffcabf"/>
<path d="M210 730c6-7 25-18 40-20c15-2 42-1 50 5c8 6 8 23 0 30c-8 7-36 9-50 10c-14 1-28-1-35-5c-7-4-10-14-5-20z" fill="#ffaf9f"/>
<path d="M200 850c13-8 60-14 100-20c42-7 100-15 150-20c50-5 92-7 150-10c58-3 133-7 200-10c67-3 142-5 200-10c58-5 98-13 150-20c52-7 133-47 160-20c27 27 18 150 0 180c-18 30-75 3-110 0c-35-3-67-15-100-20c-33-5-67-8-100-10c-33-2-67-3-100-5c-33-2-67-3-100-5c-33-2-67-8-100-10c-33-2-67-2-100 0c-33 2-67 8-100 10c-33 2-67 0-100 0c-33 0-70 1-100 0c-30-1-63 0-80-5c-12-4-31-19-20-25z" fill="#bfcafd"/>
<path d="M420 840c28-7 117-15 180-20c63-5 133-7 200-10c67-3 142-6 200-10c58-4 98-11 150-15c52-4 133-27 160-10c27 17 18 96 0 115c-18 19-67 3-110 0c-43-3-100-15-150-20c-50-5-108-8-150-10c-40-2-67 2-100 0c-33-2-67-8-100-10c-33-2-67-2-100 0c-33 2-72 8-100 10c-28 2-57 3-70 0c-9-2-19-18-10-20z" fill="#9fb0fc"/>
<path d="M860 830c20-5 92-10 140-15c48-5 98-12 150-15c52-3 133-17 160-5c27 12 18 63 0 75c-18 12-67 2-110 0c-43-2-108-12-150-15c-40-3-72-3-100-5c-28-2-55-2-70-5c-10-2-30-13-20-15z" fill="#8096fc"/>
<path d="M1040 840c0-6 35-16 60-20c27-5 65-7 100-8c35-1 92-5 110 3c16 7 17 38 0 45c-18 8-75 3-110 2c-35-1-73-3-100-7c-25-3-60-9-60-15z" fill="#607bfb"/>
<path d="M1140 840c5-4 23-13 40-15c17-2 48 1 60 5c8 3 17 15 10 20c-7 5-33 8-50 8c-17 0-40-3-50-6c-6-2-15-8-10-12z" fill="#4061fa"/>
<path d="M200 920c17-15 59-23 100-30c42-7 100-9 150-10c50-1 112 2 150 5c32 3 80 7 80 15c0 8-50 21-80 30c-30 9-80 14-100 22c-13 5-6 27-20 28c-50 5-233 10-280 0c-23-5-17-45 0-60z" fill="#ffffff"/>
<path d="M230 940c12-12 40-28 70-35c32-7 80-9 120-10c40-1 97 2 120 5c10 1 28 9 20 15c-10 7-60 14-80 25c-20 11-18 36-40 40c-42 7-175 7-210 0c-16-3-11-28 0-40z" fill="#ffe4df"/>
<path d="M300 930c15-12 57-22 80-25c23-3 50 1 60 5c7 3 7 15 0 20c-10 7-43 14-60 22c-17 8-25 23-40 28c-15 5-43 8-50 0c-7-8-5-38 10-50z" fill="#ffcabf"/>
<path d="M700 920c17-13 67-17 100-20c33-3 67-1 100 0c33 1 67 2 100 5c33 3 67 9 100 15c33 6 65 15 100 20c35 5 92 3 110 10c11 4 12 29 0 30c-102 5-508 10-610 0c-24-2-17-47 0-60z" fill="#ffffff"/>
<path d="M-30 770c10-26 55 0 70 10c15 10 13 30 20 50c7 20 20 50 20 70c0 20-2 42-20 52c-18 10-75 38-90 8c-15-30-12-160 0-190z" fill="#ffffff"/>
<path d="M120 865c2-5 12-14 20-15c8-1 27 5 30 10c3 5-3 16-10 20c-7 4-23 4-30 2c-7-2-12-12-10-17z" fill="#bfcafd"/>
</g></g>
<clipPath id="c24"><rect x="503.0" y="1280.0" width="249.0" height="187.0"/></clipPath>
<g clip-path="url(#c24)">
<rect x="503.0" y="1280.0" width="249.0" height="187.0" fill="#dfe5fe"/>
<g transform="translate(503.0 1280.0) scale(0.19529)">
<path d="M-30 220c22-10 92 15 130 20c38 5 60 7 100 10c42 3 108 18 150 10c42-8 92-37 100-60c8-23-33-60-50-80c-16-20-53-27-50-40c3-13 48-22 70-40c22-18 24-65 60-70c80-12 340-15 420 0c43 8 43 65 60 90c16 24 42 43 40 60c-2 17-25 37-50 40c-25 3-67-18-100-20c-33-2-72 2-100 10c-28 8-72 25-70 40c2 15 44 40 80 50c37 10 100 7 140 10c40 3 67 12 100 10c33-2 67-15 100-20c33-5 65-10 100-10c35 0 92-15 110 10c18 25 18 118 0 140c-18 22-75-8-110-10c-35-2-67 2-100 0c-33-2-67-7-100-10c-33-3-67-8-100-10c-33-2-67-5-100-5c-33 0-67 3-100 5c-33 2-67 10-100 10c-33 0-67-5-100-10c-33-5-67-13-100-20c-33-7-67-17-100-20c-33-3-67 2-100 0c-33-2-62-8-100-10c-38-2-108 13-130 0c-22-13-22-70 0-80z" fill="#bfcafd"/>
<path d="M350 60c7-10 43-10 70-20c28-10 77-28 100-40c18-9 20-28 40-30c40-5 160-12 200 0c31 9 37 48 40 70c3 22-3 48-20 60c-17 12-50 10-80 10c-30 0-70-12-100-10c-30 2-55 15-80 20c-25 5-47 13-70 10c-23-3-53-18-70-30c-16-11-37-30-30-40z" fill="#9fb0fc"/>
<path d="M350 270c13-8 59-18 100-20c42-2 100 7 150 10c50 3 100 7 150 10c50 3 108 5 150 10c41 5 67 18 100 20c33 2 67-8 100-10c33-2 65-2 100 0c35 2 92 0 110 10c18 10 18 42 0 50c-18 8-67 1-110 0c-43-1-100-2-150-5c-50-3-100-8-150-10c-50-2-100-1-150 0c-50 1-100 7-150 5c-50-2-112-13-150-20c-32-6-63-12-80-20c-13-6-32-22-20-30z" fill="#9fb0fc"/>
<path d="M640 200c27-32 110 11 160 15c50 4 90 8 140 10c50 2 98 0 160 0c62 0 175-35 210 0c35 35 35 176 0 209c-35 33-148-6-210-9c-62-3-110-7-160-10c-50-3-90-5-140-7c-50-2-133 31-160-4c-27-35-27-172 0-204z" fill="#bfcafd"/>
<path d="M640 262c43-17 183 5 260 6c77 1 132 3 200 2c68-1 175-26 210-8c35 18 35 98 0 118c-35 20-142 5-210 5c-68 0-123-3-200-5c-77-2-217 12-260-8c-40-18-41-94 0-110z" fill="#9fb0fc"/>
<path d="M984 330c-7-10 31-26 56-32c28-7 66-7 110-8c45-1 133-10 160 2c26 11 18 58 0 70c-18 12-72 3-110 3c-38 0-84 1-120-5c-36-6-89-20-96-30z" fill="#8096fc"/>
<path d="M540 20c7-13 30-42 60-50c30-8 97-10 120 0c23 10 23 43 20 60c-3 17-20 33-40 40c-20 7-57 3-80 0c-23-3-47-12-60-20c-12-8-26-17-20-30z" fill="#8096fc"/>
<path d="M390 90c2-8 18-20 30-20c12 0 35 12 40 20c5 8-2 21-10 25c-8 4-30 4-40 0c-10-4-22-17-20-25z" fill="#607bfb"/>
<path d="M130 -30c-31 9 20 52 40 70c20 18 53 35 80 40c27 5 55-2 80-10c25-8 55-23 70-40c15-17 45-55 20-60c-45-10-248-12-290 0z" fill="#ffffff"/>
<path d="M180 -30c-20 7 7 36 20 50c13 14 40 32 60 35c20 3 47-6 60-15c13-9 17-28 20-40c3-12 12-28 0-30c-27-5-137-8-160 0z" fill="#ffcabf"/>
<path d="M240 -30c-10 8 10 41 20 50c10 9 30 13 40 5c10-8 30-46 20-55c-10-9-70-8-80 0z" fill="#ffaf9f"/>
<path d="M110 180c2-11 22-27 40-30c18-3 53 2 70 10c17 8 33 30 30 40c-3 10-32 18-50 20c-18 2-45 2-60-5c-15-7-32-24-30-35z" fill="#ffffff"/>
<path d="M-30 360c22-27 92-7 130-5c38 2 67 7 100 15c33 8 70 27 100 30c30 3 55-10 80-10c25 0 52 2 70 10c18 8 32 23 40 40c8 17 17 43 10 60c-7 17-25 35-50 40c-33 7-100 2-150 0c-50-2-100-7-150-10c-50-3-120-8-150-10c-12-1-28 7-30-5c-5-27-22-128 0-155z" fill="#ffffff"/>
<path d="M-30 380c22-20 92-3 130 0c38 3 67 12 100 20c33 8 70 22 100 25c30 3 63-9 80-5c14 3 25 22 20 30c-5 8-29 16-50 20c-25 5-67 7-100 10c-33 3-67 7-100 10c-33 3-70 8-100 10c-30 2-67 20-80 0c-13-20-22-100 0-120z" fill="#ffe4df"/>
<path d="M670 430c7-12 29-18 50-20c22-2 53 5 80 10c27 5 53 17 80 20c27 3 52-3 80 0c28 3 67 12 90 20c22 8 27 24 50 30c25 7 65 8 100 10c35 2 92-17 110 0c18 17 18 85 0 100c-18 15-75-7-110-10c-35-3-67-6-100-10c-33-4-67-12-100-15c-33-3-67-4-100-5c-33-1-67 1-100 0c-33-1-77 2-100-5c-20-6-37-23-40-35c-3-12 18-25 20-40c2-15-17-38-10-50z" fill="#ffffff"/>
<path d="M500 480c7-11 40-37 60-50c20-13 49-30 60-30c11 0 12 20 5 30c-8 12-37 29-55 40c-18 11-38 23-50 25c-10 1-25-6-20-15z" fill="#ffffff"/>
<path d="M-30 590c22-12 92-3 130-5c38-2 67-3 100-5c33-2 67-7 100-5c33 2 67 11 100 15c33 4 67 8 100 10c33 2 67-2 100 0c33 2 67 10 100 10c33 0 67-8 100-10c33-2 67-2 100 0c33 2 75 5 100 10c21 4 58 15 50 20c-8 5-60 7-100 10c-42 3-108 7-150 10c-40 3-67 10-100 10c-33 0-67-7-100-10c-33-3-67-8-100-10c-33-2-67 2-100 0c-33-2-67-10-100-10c-33 0-67 7-100 10c-33 3-62 7-100 10c-38 3-108 20-130 10c-22-10-22-58 0-70z" fill="#bfcafd"/>
<path d="M-30 700c22-28 83-10 130-10c47 0 100 7 150 10c50 3 105 3 150 10c45 7 95 20 120 30c16 6 37 20 30 30c-7 10-50 17-70 30c-20 13-28 38-50 50c-22 12-50 18-80 20c-30 2-78-5-100-10c-14-3-16-19-30-20c-17-2-42 7-70 10c-28 3-70 8-100 10c-30 2-67 27-80 0c-13-27-22-132 0-160z" fill="#ffffff"/>
<path d="M-30 860c55-18 275-2 330 20c41 16 42 96 0 110c-55 18-275 22-330 0c-48-19-49-114 0-130z" fill="#ffffff"/>
<path d="M480 830c10-10 46-27 80-30c37-3 92 7 140 10c48 3 100 7 150 10c50 3 115 3 150 10c26 5 53 18 60 30c7 12-3 36-20 40c-27 6-92-2-140-5c-48-3-100-7-150-10c-50-3-108-1-150-5c-41-4-80-12-100-20c-13-6-30-20-20-30z" fill="#ffffff"/>
<path d="M560 660c17-7 92-10 140-10c48 0 103 5 150 10c47 5 122 13 130 20c8 7-47 17-80 20c-38 3-100 2-150 0c-50-2-118-3-150-10c-20-4-57-23-40-30z" fill="#ffffff"/>
<path d="M-30 750c18-5 78-6 110-5c32 1 77 6 80 10c3 4-35 12-60 15c-32 3-108 8-130 5c-10-2-10-22 0-25z" fill="#ffe4df"/>
<path d="M520 820c20-3 105-3 160 0c55 3 142 13 170 20c8 2 8 19 0 20c-25 2-102-7-150-10c-48-3-110-5-140-10c-18-3-58-17-40-20z" fill="#ffe4df"/>
<path d="M300 915c33-3 133-6 200-5c67 1 133 7 200 10c67 3 140 8 200 10c60 2 133 2 160 5c6 1 6 15 0 15c-43 2-167-2-260-5c-93-3-217-13-300-15c-80-2-167 2-200 0c-6 0-6-14 0-15z" fill="#ffe4df"/>
<path d="M1100 830c17-10 65-15 100-20c35-5 92-23 110-10c18 13 18 77 0 90c-18 13-75-7-110-10c-35-3-83-2-100-10c-14-7-14-32 0-40z" fill="#bfcafd"/>
<path d="M1100 -30c-23 7-7 45 10 60c17 15 57 23 90 30c33 7 92 25 110 10c18-15 35-83 0-100c-35-17-177-10-210 0z" fill="#ffffff"/>
</g></g>
<clipPath id="c25"><rect x="752.0" y="1094.0" width="249.0" height="186.0"/></clipPath>
<g clip-path="url(#c25)">
<rect x="752.0" y="1094.0" width="249.0" height="186.0" fill="#dfe5fe"/>
<g transform="translate(752.0 1094.0) scale(0.19529)">
<path d="M-30 -30c223-60 1117-25 1340 0c60 7 18 130 0 150c-18 20-83-28-110-30c-21-1-33 7-50 20c-17 13-33 43-50 60c-17 17-27 29-50 40c-25 12-67 20-100 30c-33 10-72 20-100 30c-28 10-52 32-70 30c-18-2-27-23-40-40c-13-17-23-42-40-60c-17-18-33-40-60-50c-27-10-73-7-100-10c-24-3-45-15-60-10c-15 5-22 23-30 40c-8 17-8 40-20 60c-12 20-28 42-50 60c-22 18-50 35-80 45c-30 10-67 15-100 17c-33 2-67 1-100-2c-33-3-78-12-100-15c-12-2-29 7-30-5c-5-61-139-323 0-360z" fill="#ffe4df"/>
<path d="M320 40c12-6 47-14 80-15c47-2 133 1 200 5c67 4 133 17 200 20c67 3 142-2 200 0c58 2 133 5 150 10c17 5-28 19-50 20c-42 2-133-9-200-10c-67-1-142 5-200 5c-58 0-100-4-150-5c-50-1-113 2-150 0c-28-1-57-5-70-10c-8-3-18-16-10-20z" fill="#ffffff"/>
<path d="M1100 130c20-12 65-20 100-20c35 0 92-12 110 20c18 32 10 145 0 170c-9 23-36-11-60-20c-27-10-68-32-100-40c-32-8-78 0-90-10c-12-10 13-33 20-50c7-17 1-39 20-50z" fill="#ffffff"/>
<path d="M270 310c2-9 15-21 30-25c22-5 73-7 100-5c25 2 48 8 60 20c12 12 13 35 10 50c-3 15-18 37-30 40c-12 3-23-15-40-20c-18-6-51-10-70-15c-18-5-35-7-45-15c-10-8-17-21-15-30z" fill="#ffffff"/>
<path d="M-30 335c22-3 92 16 130 20c38 4 67 5 100 3c33-2 70-8 100-18c30-10 57-30 80-45c23-15 40-41 60-45c20-4 40 10 60 20c20 10 37 28 60 40c23 12 73 26 80 35c7 9-22 21-40 20c-20-1-55-17-80-25c-25-8-48-25-70-25c-22 0-36 15-60 25c-25 10-58 26-90 35c-32 9-67 15-100 17c-33 2-62 0-100-4c-38-4-108-9-130-18c-13-5-14-33 0-35z" fill="#ffffff"/>
<path d="M-30 230c15-13 60-7 90-5c30 2 67 7 90 15c22 7 50 20 50 30c0 10-28 24-50 30c-23 7-60 9-90 10c-30 1-75 8-90-5c-15-13-15-62 0-75z" fill="#ffcabf"/>
<path d="M450 170c0-10 13-26 30-30c18-4 53 2 80 5c27 3 57 4 80 15c23 11 52 33 60 50c8 17 0 43-10 50c-10 7-30-5-50-10c-22-5-53-12-80-20c-27-8-62-20-80-30c-15-8-30-20-30-30z" fill="#dfe5fe"/>
<path d="M720 130c10-12 50-16 80-20c30-4 67-5 100-5c33 0 75-1 100 5c23 5 47 17 50 30c3 13-13 37-30 50c-17 13-43 20-70 30c-27 10-63 22-90 30c-27 8-52 23-70 20c-18-3-32-25-40-40c-8-15-5-33-10-50c-5-17-30-38-20-50z" fill="#ffcabf"/>
<path d="M-30 370c15-33 60-7 90-10c30-3 58-12 90-10c32 2 67 12 100 20c33 8 75 22 100 30c20 7 53 15 50 20c-3 5-45 10-70 10c-25 0-50-10-80-10c-30 0-82 0-100 10c-18 10-10 30-10 50c0 22 13 60 10 80c-3 20-15 37-30 40c-15 3-40-13-60-20c-20-7-45-17-60-20c-12-3-28 12-30 0c-5-32-15-157 0-190z" fill="#bfcafd"/>
<path d="M520 440c12-17 50-30 80-40c30-10 67-16 100-20c33-4 67-3 100-5c33-2 67-5 100-5c33 0 67 2 100 5c33 3 67 11 100 15c33 4 77 2 100 10c21 8 40 27 40 40c0 13-30 23-40 40c-10 17-3 47-20 60c-17 13-50 17-80 20c-30 3-67 2-100 0c-33-2-67-12-100-15c-33-3-73-7-100-5c-25 2-43 10-60 20c-17 10-23 27-40 40c-17 13-40 32-60 40c-20 8-40 10-60 10c-20 0-43-3-60-10c-17-7-37-17-40-30c-3-13 12-32 20-50c8-18 27-40 30-60c3-20-22-43-10-60z" fill="#bfcafd"/>
<path d="M510 590c2-12 8-32 20-40c12-8 35-13 50-10c15 3 37 17 40 30c3 13-8 38-20 50c-12 12-36 19-50 20c-14 1-28-7-35-15c-7-8-7-23-5-35z" fill="#9fb0fc"/>
<path d="M810 480c3-6 20-18 30-20c10-2 28 5 30 10c2 5-12 16-20 20c-8 4-23 7-30 5c-7-2-13-9-10-15z" fill="#9fb0fc"/>
<path d="M780 620c0-10 22-18 40-20c20-2 50 3 80 5c30 2 67 3 100 5c33 2 75 0 100 5c22 4 50 14 50 25c0 11-47 27-50 40c-3 13 30 27 30 40c0 13-18 27-30 40c-12 13-23 35-40 40c-17 5-43-2-60-10c-17-8-30-25-40-40c-10-15-7-38-20-50c-13-12-40-13-60-20c-20-7-43-10-60-20c-17-10-40-30-40-40z" fill="#ffffff"/>
<path d="M1050 800c0-12 33-62 50-80c16-17 27-27 50-30c25-3 73 5 100 10c25 5 50 3 60 20c10 17 18 70 0 80c-18 10-75-18-110-20c-35-2-75 7-100 10c-20 3-50 22-50 10z" fill="#ffffff"/>
<path d="M140 470c7-12 35-18 60-20c27-2 67 7 100 10c33 3 70 3 100 10c30 7 63 18 80 30c15 10 22 25 20 40c-2 15-17 35-30 50c-13 15-30 32-50 40c-20 8-47 8-70 10c-23 2-52-7-70 0c-18 7-27 40-40 40c-13 0-30-23-40-40c-10-17-13-40-20-60c-7-20-13-42-20-60c-7-18-27-38-20-50z" fill="#ffe4df"/>
<path d="M160 480c2-12 23-14 40-15c23-1 67 6 100 10c33 4 72 7 100 15c28 8 57 18 70 30c12 11 15 27 10 40c-5 13-27 29-40 40c-13 11-22 20-40 25c-18 5-48 6-70 5c-22-1-42-12-60-10c-18 2-38 23-50 20c-12-3-14-23-20-40c-6-17-8-40-15-60c-7-20-27-48-25-60z" fill="#ffcabf"/>
<path d="M200 500c14-8 67-2 100 0c33 2 73 3 100 10c26 7 50 19 60 30c9 10 7 24 0 35c-7 11-23 23-40 30c-17 7-40 14-60 15c-20 1-42-5-60-10c-18-5-36-10-50-20c-14-10-27-25-35-40c-8-15-29-42-15-50z" fill="#ffaf9f"/>
<path d="M260 545c8-7 37-13 60-15c23-2 58 0 80 5c22 5 45 16 50 25c5 9-8 22-20 30c-12 8-30 18-50 20c-20 2-52-4-70-10c-18-6-32-16-40-25c-8-9-18-23-10-30z" fill="#ff9480"/>
<path d="M300 570c3-7 32-13 50-15c18-2 47 1 60 5c11 3 23 13 20 20c-3 7-23 17-40 20c-17 3-45 3-60-2c-15-5-33-21-30-28z" fill="#ff7a60"/>
<path d="M40 640c0 7 20 40 30 60c10 20 15 42 30 60c15 18 35 35 60 50c25 15 58 28 90 40c32 12 78 28 100 30c14 1 42-12 30-20c-12-8-70-20-100-30c-30-10-57-20-80-30c-23-10-43-17-60-30c-17-13-28-32-40-50c-12-18-20-47-30-60c-9-12-30-27-30-20z" fill="#ffffff"/>
<path d="M60 620c2-13 18-15 30-10c12 5 27 25 40 40c13 15 23 35 40 50c17 15 38 28 60 40c22 12 52 20 70 30c18 10 27 18 40 30c13 12 30 28 40 40c9 11 25 27 20 30c-5 3-30-5-50-10c-20-5-45-12-70-20c-25-8-57-20-80-30c-23-10-43-18-60-30c-17-12-30-25-40-40c-10-15-13-30-20-50c-7-20-22-57-20-70z" fill="#ffe4df"/>
<path d="M85 640c3-6 17 3 25 10c9 8 18 27 30 40c12 13 23 28 40 40c17 12 40 25 60 35c20 10 45 17 60 25c14 8 32 19 30 25c-2 6-24 12-40 10c-18-3-48-16-70-25c-22-9-43-18-60-30c-17-12-29-26-40-40c-11-14-19-30-25-45c-6-15-13-39-10-45z" fill="#ffaf9f"/>
<path d="M110 680c3-2 19 10 30 20c12 11 23 32 40 45c17 13 40 21 60 30c20 9 48 18 60 25c6 4 17 12 10 15c-7 3-32 4-50 0c-18-4-42-15-60-25c-18-10-37-22-50-35c-13-13-23-27-30-40c-7-13-13-33-10-35z" fill="#ff7a60"/>
<path d="M150 730c5 0 23 16 40 25c17 9 42 21 60 30c18 9 43 19 45 23c2 4-21 3-35 0c-16-4-43-14-60-23c-17-9-32-21-40-30c-7-8-15-25-10-25z" fill="#ff4520"/>
<path d="M260 660c2-10 23-18 40-20c17-2 40-2 60 5c20 7 47 23 60 35c13 12 23 30 20 40c-3 10-23 18-40 20c-17 2-42-3-60-10c-18-7-37-18-50-30c-13-12-32-30-30-40z" fill="#bfcafd"/>
<path d="M330 670c5-8 35-10 50-5c15 5 37 25 40 35c3 10-8 23-20 25c-12 2-38-6-50-15c-12-9-25-32-20-40z" fill="#9fb0fc"/>
<path d="M245 700c4-4 17 12 25 20c8 8 20 22 20 30c0 8-12 21-20 20c-8-1-21-13-25-25c-4-12-4-41 0-45z" fill="#ffcabf"/>
<path d="M350 750c3-10 31-3 50-10c22-8 57-33 80-40c23-7 47-5 60 0c13 5 27 20 20 30c-7 10-38 20-60 30c-22 10-50 23-70 30c-19 6-37 17-50 10c-13-7-33-40-30-50z" fill="#ffffff"/>
<path d="M400 870c3-25 10-47 20-60c10-13 23-18 40-20c17-2 43 3 60 10c17 7 23 23 40 30c17 7 37 5 60 10c23 5 50 13 80 20c30 7 73 13 100 20c25 6 47 10 60 20c13 10 22 27 20 40c-2 13-10 38-30 40c-80 7-375 18-450 0c-43-10-3-82 0-110z" fill="#ffe4df"/>
<path d="M420 870c3-21 10-39 20-50c10-11 27-15 40-15c13 0 30 7 40 15c10 8 7 24 20 30c13 7 36 6 60 10c27 5 70 14 100 20c30 6 57 9 80 15c23 6 48 11 60 20c11 9 17 24 10 35c-7 11-27 28-50 30c-72 5-317 18-380 0c-42-12-3-83 0-110z" fill="#ffaf9f"/>
<path d="M430 870c2-12 12-32 20-40c8-8 22-13 30-10c8 3 20 18 20 30c0 12-12 30-20 40c-8 10-22 18-30 20c-7 2-12-4-15-10c-3-7-7-18-5-30z" fill="#ff7a60"/>
<path d="M510 880c4-8 18-14 30-15c12-1 32 3 40 10c8 7 10 23 5 30c-5 7-23 14-35 15c-12 1-28-3-35-10c-7-7-9-22-5-30z" fill="#ff7a60"/>
<path d="M640 870c10-2 37 5 60 10c23 5 58 12 80 20c21 7 47 17 50 25c3 8-15 23-30 25c-15 2-40-4-60-10c-20-6-43-18-60-25c-16-7-33-13-40-20c-7-7-10-23 0-25z" fill="#ff7a60"/>
<path d="M520 760c10-10 70-17 100-20c30-3 50-3 80 0c30 3 67 12 100 20c33 8 75 18 100 30c23 11 33 28 50 40c17 12 48 22 50 30c2 8-22 20-40 20c-20 0-53-13-80-20c-27-7-50-15-80-20c-30-5-70-7-100-10c-30-3-57-5-80-10c-23-5-43-10-60-20c-17-10-50-30-40-40z" fill="#bfcafd"/>
<path d="M820 850c7-7 53-12 80-10c27 2 63 17 80 25c11 6 27 20 20 25c-7 5-37 7-60 5c-23-2-60-7-80-15c-19-7-47-23-40-30z" fill="#9fb0fc"/>
<path d="M1090 820c-2-15 10-35 20-50c10-15 25-32 40-40c15-8 30-12 50-10c20 2 52 15 70 20c16 4 36-6 40 10c7 27 10 125 0 150c-9 22-38 3-60 0c-22-3-48-13-70-20c-22-7-45-10-60-20c-15-10-28-25-30-40z" fill="#ffe4df"/>
<path d="M1110 830c3-11 25-30 40-40c15-10 30-18 50-20c20-2 52 7 70 10c16 3 34-5 40 10c7 18 10 83 0 100c-10 17-38 3-60 0c-22-3-50-14-70-20c-20-6-38-8-50-15c-11-6-23-14-20-25z" fill="#ffcabf"/>
<path d="M1140 830c0-10 25-24 40-30c15-6 33-7 50-5c17 2 40 4 50 15c10 11 17 39 10 50c-7 11-32 15-50 15c-18 0-43-7-60-15c-17-8-40-20-40-30z" fill="#ffaf9f"/>
<path d="M1180 830c2-8 18-18 30-20c12-2 31-1 40 5c9 6 18 22 15 30c-3 8-23 18-35 20c-12 2-27-4-35-10c-8-6-17-17-15-25z" fill="#ff9480"/>
<path d="M-30 780c12-18 48 3 70 10c22 7 42 20 60 30c18 10 28 21 50 30c25 10 67 22 100 30c33 8 75 10 100 20c24 10 58 31 50 40c-8 9-67 12-100 12c-33 0-67-7-100-12c-33-5-67-13-100-20c-33-7-78-17-100-20c-12-2-27 12-30 0c-5-20-12-102 0-120z" fill="#bfcafd"/>
<path d="M-30 830c10-8 42 3 60 10c18 7 48 22 50 30c2 8-22 18-40 20c-18 2-58 5-70-5c-12-10-10-47 0-55z" fill="#9fb0fc"/>
<path d="M-30 600c7-19 35 2 50 10c15 8 30 22 40 40c10 18 20 52 20 70c0 18-7 35-20 40c-13 5-45-7-60-10c-12-3-28 2-30-10c-5-25-8-118 0-140z" fill="#bfcafd"/>
<path d="M-30 935c38-5 158 13 230 15c72 2 167-10 200-5c14 2 14 34 0 35c-72 6-358 8-430 0c-18-2-18-43 0-45z" fill="#ffffff"/>
<path d="M1180 500c3-13 24-18 40-20c16-2 46-5 55 10c9 15 13 68 0 80c-13 12-59 2-75-10c-16-12-23-47-20-60z" fill="#bfcafd"/>
</g></g>
<clipPath id="c26"><rect x="752.0" y="1280.0" width="249.0" height="187.0"/></clipPath>
<g clip-path="url(#c26)">
<rect x="752.0" y="1280.0" width="249.0" height="187.0" fill="#dfe5fe"/>
<g transform="translate(752.0 1280.0) scale(0.19529)">
<path d="M-30 -30c60-37 302-12 360 0c28 6-2 52-10 70c-8 18-42 25-40 40c2 15 38 33 50 50c12 17 25 37 20 50c-5 13-27 25-50 30c-25 6-67 7-100 5c-33-2-67-11-100-15c-33-4-78-8-100-10c-12-1-28 12-30 0c-5-37-60-183 0-220z" fill="#ffffff"/>
<path d="M-30 80c22-13 98 0 130 5c26 4 52 13 60 25c8 12 7 40-10 50c-17 10-60 9-90 10c-30 1-75 10-90-5c-15-15-22-72 0-85z" fill="#dfe5fe"/>
<path d="M730 150c0-18 18-50 30-70c12-20 25-40 40-50c15-10 33-13 50-10c17 3 41 17 50 30c9 13 8 32 5 50c-3 18-16 40-25 60c-9 20-17 51-30 60c-13 9-35 0-50-5c-15-5-28-14-40-25c-12-11-30-22-30-40z" fill="#ffffff"/>
<path d="M980 150c-3-14 10-48 20-70c10-22 30-42 40-60c10-18-1-46 20-50c45-8 208-38 250 0c42 38 18 195 0 230c-18 35-75-15-110-20c-35-5-70-8-100-10c-30-2-60-2-80-5c-17-3-37-1-40-15z" fill="#ffffff"/>
<path d="M1080 100c-10-17 3-48 10-70c7-22 4-53 30-60c37-10 158-27 190 0c32 27 10 132 0 160c-8 23-36 10-60 10c-27 0-72-3-100-10c-28-7-60-13-70-30z" fill="#ffe4df"/>
<path d="M1090 -30c-19 8 0 38 10 50c10 12 32 23 50 25c18 2 48-3 60-15c12-12 30-50 10-60c-20-10-110-8-130 0z" fill="#ffcabf"/>
<path d="M740 -30c-15 5 7 28 20 35c13 7 42 11 60 10c18-1 42-7 50-15c8-8 12-27 0-30c-22-5-112-6-130 0z" fill="#ffcabf"/>
<path d="M640 420c23-20 77-18 120-20c43-2 84 7 140 10c57 3 132 12 200 10c68-2 175-65 210-20c35 45 35 243 0 290c-35 47-142-5-210-10c-68-5-143-13-200-20c-56-7-98-10-140-20c-42-10-87-20-110-40c-23-20-28-50-30-80c-2-30-3-80 20-100z" fill="#bfcafd"/>
<path d="M-30 222c22-34 81 3 130 6c49 3 111 8 163 12c52 4 117 0 150 15c32 15 42 40 47 75c5 35 16 114-17 134c-33 20-123-11-180-15c-57-4-114-7-163-9c-49-2-108 30-130-6c-22-36-22-178 0-212z" fill="#bfcafd"/>
<path d="M-30 262c30-18 125 5 180 8c55 3 112 5 150 10c33 4 72 5 80 20c8 15-2 57-30 70c-30 14-90 13-150 15c-63 2-192 15-230-5c-38-20-30-100 0-118z" fill="#9fb0fc"/>
<path d="M-30 290c18-12 75-1 110 2c35 3 82 8 100 18c15 8 23 31 10 40c-13 9-54 13-90 15c-37 2-108 9-130-3c-22-12-18-60 0-72z" fill="#8096fc"/>
<path d="M380 100c-2-18 27-37 40-40c13-3 27 8 40 20c17 15 37 53 60 70c23 17 50 22 80 30c30 8 70 12 100 20c30 8 55 22 80 30c25 8 42 13 70 20c28 7 67 13 100 20c33 7 67 13 100 20c33 7 75 8 100 20c25 12 45 35 50 50c5 15-4 32-20 40c-17 8-50 10-80 10c-30 0-67-10-100-10c-33 0-67 5-100 10c-33 5-75 10-100 20c-24 10-33 28-50 40c-17 12-28 23-50 30c-25 8-77 22-100 20c-20-1-37-17-40-30c-3-13 10-35 20-50c10-15 27-27 40-40c13-13 37-28 40-40c3-12-10-25-20-30c-10-5-30-8-40 0c-10 8-10 40-20 50c-10 10-30 17-40 10c-10-7-13-32-20-50c-7-18-12-40-20-60c-8-20-18-42-30-60c-12-18-25-30-40-50c-15-20-48-52-50-70z" fill="#bfcafd"/>
<path d="M680 260c7-8 43-22 60-20c17 2 22 22 40 30c18 8 42 13 70 20c28 7 67 13 100 20c33 7 75 12 100 20c22 7 50 22 50 30c0 8-29 18-50 20c-25 2-67-5-100-5c-33 0-72 1-100 5c-28 4-48 13-70 20c-22 7-40 15-60 20c-20 5-47 13-60 10c-13-3-25-18-20-30c5-12 37-27 50-40c13-13 28-28 30-40c2-12-13-20-20-30c-7-10-27-22-20-30z" fill="#9fb0fc"/>
<path d="M740 300c2-10 20-22 30-20c10 2 15 22 30 30c15 8 35 14 60 20c25 6 67 10 90 15c20 4 52 11 50 15c-2 4-37 9-60 10c-23 1-57-3-80-5c-23-2-43-1-60-5c-17-4-30-10-40-20c-10-10-22-30-20-40z" fill="#8096fc"/>
<path d="M370 90c-5-13 37-40 50-60c13-20 13-50 30-60c17-10 55-15 70 0c15 15 13 65 20 90c7 24 27 48 20 60c-7 12-42 12-60 10c-18-2-29-14-50-20c-22-7-75-7-80-20z" fill="#bfcafd"/>
<path d="M440 40c0-12 17-26 30-20c13 7 38 42 50 60c12 18 23 43 20 50c-3 7-28-3-40-10c-12-7-20-17-30-30c-10-13-30-38-30-50z" fill="#9fb0fc"/>
<path d="M-30 440c15-26 60-12 90-10c30 2 58 13 90 20c32 7 67 15 100 20c33 5 67 10 100 10c33 0 78-17 100-10c22 7 22 30 30 50c8 20 7 53 20 70c13 17 57 20 60 30c3 10-20 27-40 30c-20 3-52-5-80-10c-28-5-58-15-90-20c-32-5-67-7-100-10c-33-3-68-7-100-10c-32-3-60-8-90-10c-30-2-75 20-90-5c-15-25-15-119 0-145z" fill="#ffffff"/>
<path d="M470 560c-3-14 5-40 10-60c5-20 13-57 20-60c7-3 18 23 20 40c2 17-13 43-10 60c3 17 32 32 30 40c-2 8-28 8-40 5c-12-3-27-11-30-25z" fill="#ffffff"/>
<path d="M120 545c2-4 24-7 40-5c20 2 68 14 80 20c7 4-2 18-10 18c-15 1-62-8-80-13c-14-4-32-16-30-20z" fill="#ffe4df"/>
<path d="M300 570c8-3 36-6 50-5c14 1 35 9 35 13c0 4-22 11-35 12c-13 1-37-2-45-5c-6-2-11-12-5-15z" fill="#ffe4df"/>
<path d="M620 640c10-12 50-28 80-40c30-12 67-20 100-30c33-10 67-18 100-30c33-12 67-30 100-40c33-10 67-15 100-20c33-5 65-8 100-10c35-2 92-22 110 0c18 22 18 108 0 130c-18 22-75 1-110 0c-35-1-67-3-100-5c-33-2-67-6-100-5c-33 1-67 6-100 10c-33 4-67 8-100 15c-33 7-73 16-100 25c-25 9-47 30-60 30c-13 0-29-19-20-30z" fill="#bfcafd"/>
<path d="M640 720c23-10 77-17 120-20c43-3 100-3 140 0c40 3 67 13 100 20c33 7 100 12 100 20c0 8-67 22-100 30c-33 8-63 15-100 20c-37 5-83 10-120 10c-37 0-73-3-100-10c-26-7-53-18-60-30c-7-12 4-33 20-40z" fill="#bfcafd"/>
<path d="M-30 790c22-13 92 8 130 10c38 2 67-2 100 0c33 2 67 7 100 10c33 3 77 3 100 10c19 5 40 18 40 30c0 12-19 32-40 40c-23 8-67 9-100 10c-33 1-67-3-100-5c-33-2-67-3-100-5c-33-2-78-8-100-10c-12-1-26 11-30 0c-5-15-22-77 0-90z" fill="#bfcafd"/>
<path d="M870 480c-2-6 17-16 30-18c13-2 41 3 50 8c7 4 12 15 5 20c-7 5-31 12-45 10c-14-2-38-14-40-20z" fill="#ffffff"/>
<path d="M430 680c3-6 32-13 50-15c18-2 53 0 60 5c7 5-8 21-20 25c-13 5-45 7-60 5c-14-2-33-14-30-20z" fill="#ffffff"/>
<path d="M580 830c3-9 37-13 60-15c23-2 53 3 80 5c27 2 50 10 80 10c30 0 73-12 100-10c25 2 60 12 60 20c0 8-34 23-60 30c-27 7-67 8-100 10c-33 2-70 7-100 5c-30-2-60-6-80-15c-20-9-43-31-40-40z" fill="#ffffff"/>
<path d="M100 770c7-5 55-10 80-10c25 0 62 6 70 10c8 4-10 13-20 15c-18 3-68 7-90 5c-18-2-47-15-40-20z" fill="#ffffff"/>
</g></g>
<clipPath id="c27"><rect x="255.0" y="1218.0" width="249.0" height="124.0"/></clipPath>
<g clip-path="url(#c27)">
<rect x="255.0" y="1218.0" width="249.0" height="124.0" fill="#dfe5fe"/>
<g transform="translate(255.0 1218.0) scale(0.19529)">
<path d="M120 150c2-12 47-32 60-50c13-18 12-38 20-60c8-22 1-60 30-70c33-12 138-12 170 0c27 10 13 48 20 70c7 22 20 40 20 60c0 20-5 48-20 60c-15 12-47 18-70 15c-23-3-50-31-70-35c-20-4-32 4-50 10c-18 6-42 25-60 25c-18 0-52-13-50-25z" fill="#ffffff"/>
<path d="M200 100c-2-15 13-47 30-60c17-13 50-20 70-20c20 0 37 8 50 20c13 12 30 35 30 50c0 15-15 37-30 40c-15 3-42-20-60-20c-18 0-35 22-50 20c-15-2-38-15-40-30z" fill="#ffe4df"/>
<path d="M260 80c3-8 18-22 30-25c12-3 32 3 40 10c8 7 10 23 5 30c-5 7-24 9-35 10c-11 1-23-1-30-5c-7-4-13-12-10-20z" fill="#ffcabf"/>
<path d="M20 60c5-8 27-19 40-20c13-1 37 8 40 15c3 7-8 24-20 30c-12 6-40 9-50 5c-10-4-15-22-10-30z" fill="#bfcafd"/>
<path d="M140 160c8-8 43-21 60-20c17 1 40 18 40 25c0 7-25 17-40 20c-15 3-40 4-50 0c-10-4-18-18-10-25z" fill="#bfcafd"/>
<path d="M320 170c2-8 19-19 30-20c11-1 32 8 35 15c3 7-7 25-15 30c-8 5-27 4-35 0c-8-4-17-17-15-25z" fill="#bfcafd"/>
<path d="M440 140c-2-18 15-43 30-60c15-17 35-32 60-40c25-8 62-12 90-10c28 2 60 15 80 20c16 4 40 2 40 10c0 8-23 28-40 40c-17 12-43 20-60 30c-17 10-23 22-40 30c-17 8-40 15-60 20c-20 5-43 17-60 10c-17-7-38-32-40-50z" fill="#ffffff"/>
<path d="M460 130c2-15 15-38 30-50c15-12 38-20 60-25c22-5 55-9 70-5c14 4 23 18 20 30c-3 12-23 32-40 45c-17 13-40 27-60 35c-20 8-47 15-60 10c-13-5-22-25-20-40z" fill="#ffcabf"/>
<path d="M475 125c2-12 16-27 30-35c14-8 37-12 55-15c18-3 43-6 50 0c7 6-1 24-10 35c-10 12-32 27-50 35c-18 8-42 18-55 15c-13-3-22-23-20-35z" fill="#ffaf9f"/>
<path d="M495 120c3-8 13-20 25-25c12-5 34-7 45-5c10 2 23 8 20 15c-3 7-22 23-35 30c-13 7-36 13-45 10c-9-3-13-17-10-25z" fill="#ff9480"/>
<path d="M-30 150c15-18 60-1 90 5c30 6 58 27 90 30c32 3 70-11 100-10c30 1 55 16 80 15c25-1 52-12 70-20c18-8 27-33 40-30c13 3 23 42 40 50c17 8 49-7 60 0c11 7 12 27 5 40c-7 13-27 27-45 40c-18 13-37 32-60 40c-23 8-48 10-80 10c-32 0-75-7-110-10c-35-3-75-3-100-10c-23-6-33-23-50-30c-17-7-30-9-50-10c-22-1-67 23-80 5c-13-18-15-97 0-115z" fill="#ffffff"/>
<path d="M-30 160c15-13 60 4 90 10c30 6 58 22 90 25c32 3 70-6 100-5c30 1 55 11 80 10c25-1 52-8 70-15c18-6 28-27 40-25c12 2 17 28 30 35c13 7 40-1 50 5c10 6 15 19 10 30c-5 11-23 24-40 35c-17 11-37 23-60 30c-23 7-50 10-80 10c-30 0-67-7-100-10c-33-3-75-3-100-10c-23-6-27-26-50-30c-30-6-108 11-130-5c-22-16-15-77 0-90z" fill="#ffe4df"/>
<path d="M-30 170c15-9 60 9 90 15c30 6 58 17 90 20c32 3 70-6 100-5c30 1 55 11 80 10c25-1 52-10 70-15c15-4 25-17 35-15c10 2 14 24 25 30c11 6 35-2 40 5c5 7 0 24-10 35c-10 11-28 23-50 30c-23 7-58 12-90 12c-32 0-68-8-100-12c-32-4-65-3-90-10c-25-7-33-26-60-30c-32-5-108 12-130 0c-22-12-15-61 0-70z" fill="#ffcabf"/>
<path d="M-30 185c15-5 60 9 90 15c30 6 58 18 90 20c32 2 70-6 100-5c30 1 55 11 80 10c25-1 53-13 70-15c12-1 25-2 30 5c5 7 8 25 0 35c-8 10-28 20-50 25c-22 5-55 9-80 7c-25-2-45-12-70-17c-25-5-55-5-80-10c-25-5-41-16-70-20c-30-4-92 3-110-5c-16-7-15-40 0-45z" fill="#ffaf9f"/>
<path d="M20 210c12-2 50 11 80 15c30 4 70 10 100 10c30 0 55-10 80-10c25 0 52 7 70 10c16 3 42 4 40 10c-2 6-30 23-50 27c-20 4-47 0-70-2c-23-2-42-5-70-8c-28-3-72-8-100-12c-28-4-57-8-70-15c-10-5-21-23-10-25z" fill="#ff9480"/>
<path d="M280 245c3-6 27-10 40-10c13 0 35 5 40 10c5 5-2 17-10 20c-10 4-38 8-50 5c-12-3-23-19-20-25z" fill="#ff7a60"/>
<path d="M300 250c3-3 18-8 25-8c7 0 18 7 20 10c2 3-5 9-10 10c-7 2-24 2-30 0c-5-2-8-9-5-12z" fill="#ff5f40"/>
<path d="M-30 320c13-34 67-3 90 0c21 3 37 7 50 20c13 13 23 42 30 60c7 18 12 30 10 50c-2 20-20 45-20 70c0 25 13 55 20 80c7 25 35 58 20 70c-15 12-92 12-110 0c-18-12 10-53 0-70c-10-17-45-23-60-30c-12-5-28 3-30-10c-5-42-15-200 0-240z" fill="#ffffff"/>
<path d="M150 440c12-17 29-17 50-20c25-3 77 7 100 0c22-6 23-30 40-40c17-10 45-27 60-20c15 7 25 38 30 60c5 22 8 50 0 70c-8 20-37 30-50 50c-13 20-22 48-30 70c-8 22 4 52-20 60c-28 10-120 12-150 0c-28-11-22-45-30-70c-8-25-20-53-20-80c0-27 8-63 20-80z" fill="#ffffff"/>
<path d="M330 390c5-10 11-26 20-30c9-4 30-5 35 5c5 10 1 37-5 55c-6 18-20 43-30 50c-10 7-25-2-30-10c-5-8-2-28 0-40c2-12 5-20 10-30z" fill="#ffe4df"/>
<path d="M150 300c15-10 67 7 100 10c33 3 72 8 100 10c28 2 62-5 70 0c8 5-8 23-20 30c-12 7-33 2-50 10c-17 8-28 33-50 40c-22 7-57 5-80 0c-23-5-48-13-60-30c-12-17-25-60-10-70z" fill="#bfcafd"/>
<path d="M220 340c7-8 45-10 60-10c13 0 28 3 30 10c2 7-8 24-20 30c-12 6-38 10-50 5c-12-5-27-27-20-35z" fill="#9fb0fc"/>
<path d="M285 330c0-4 11-9 15-8c4 1 10 9 10 13c0 4-8 11-12 10c-4-1-13-11-13-15z" fill="#8096fc"/>
<path d="M470 330c7-15 28-28 50-40c22-12 53-18 80-30c27-12 57-27 80-40c23-13 43-37 60-40c17-3 32 7 40 20c8 13 13 40 10 60c-3 20-15 43-30 60c-15 17-47 27-60 40c-13 13-10 30-20 40c-10 10-23 15-40 20c-17 5-40 12-60 10c-20-2-43-12-60-20c-17-8-32-17-40-30c-8-13-17-35-10-50z" fill="#bfcafd"/>
<path d="M500 330c4-12 22-25 40-35c18-10 47-17 70-25c23-8 52-20 70-20c18 0 37 8 40 20c3 12-12 33-20 50c-8 17-17 37-30 50c-13 13-32 26-50 30c-18 4-42 0-60-5c-18-5-35-14-45-25c-10-11-19-28-15-40z" fill="#9fb0fc"/>
<path d="M530 320c5-10 23-23 40-30c17-7 45-12 60-10c14 2 26 8 30 20c4 12 2 37-5 50c-7 13-21 26-35 30c-14 4-37 0-50-5c-13-5-23-16-30-25c-7-9-15-20-10-30z" fill="#8096fc"/>
<path d="M560 320c4-8 18-17 30-20c12-3 31-5 40 0c9 5 16 20 15 30c-1 10-11 24-20 30c-9 6-25 8-35 5c-10-3-20-13-25-20c-5-7-9-17-5-25z" fill="#607bfb"/>
<path d="M640 160c8-13 40-30 60-40c20-10 45-23 60-20c15 3 23 23 30 40c7 17 12 50 10 60c-1 8-12 3-20 0c-10-3-25-20-40-20c-15 0-35 17-50 20c-15 3-32 7-40 0c-8-7-18-27-10-40z" fill="#bfcafd"/>
<path d="M560 200c8-12 40-25 60-40c20-15 43-37 60-50c16-12 30-28 40-30c10-2 23 12 20 20c-3 8-25 18-40 30c-15 12-33 27-50 40c-17 13-37 30-50 40c-12 9-23 22-30 20c-7-2-17-20-10-30z" fill="#ffffff"/>
<path d="M470 570c-5-12-2-43 5-60c7-17 25-33 35-40c8-6 22-8 25 0c3 8 0 31-5 50c-5 19-15 57-25 65c-10 8-30-3-35-15z" fill="#ffffff"/>
<path d="M880 300c8-13 47-27 70-30c23-3 48 2 70 10c22 8 47 23 60 40c13 17 23 43 20 60c-3 17-23 32-40 40c-17 8-42 13-60 10c-18-3-33-17-50-30c-17-13-38-33-50-50c-12-17-28-37-20-50z" fill="#bfcafd"/>
<path d="M960 310c7-8 27-17 40-15c13 2 35 14 40 25c5 11-2 32-10 40c-8 8-28 12-40 10c-12-2-25-15-30-25c-5-10-7-27 0-35z" fill="#9fb0fc"/>
<path d="M1040 570c3-10 37-18 60-20c23-2 63 2 80 10c16 8 25 28 20 40c-5 12-30 28-50 30c-20 2-52-10-70-20c-18-10-43-30-40-40z" fill="#bfcafd"/>
<path d="M620 547c10-17 46-24 80-30c38-7 100-10 150-10c50 0 108 3 150 10c41 7 67 20 100 30c33 10 80 18 100 30c15 9 28 32 20 40c-8 8-42 10-70 10c-28 0-67-10-100-10c-33 0-67 7-100 10c-33 3-75 2-100 10c-24 8-32 32-50 40c-18 8-40 13-60 10c-20-3-43-18-60-30c-17-12-30-22-40-40c-10-18-30-53-20-70z" fill="#bfcafd"/>
<path d="M1040 567c5-6 37-13 60-10c23 3 63 16 80 25c13 7 28 25 20 30c-8 5-48 3-70 0c-22-3-45-12-60-20c-14-7-35-19-30-25z" fill="#9fb0fc"/>
<path d="M555 335c-21-10 11-45 20-65c9-20 23-38 35-55c12-17 25-35 40-50c15-15 38-46 50-40c12 6 20 44 20 75c0 34 8 108-20 130c-28 22-124 15-145 5z" fill="#bfcafd"/>
</g></g>
<clipPath id="c28"><rect x="503.0" y="1218.0" width="249.0" height="124.0"/></clipPath>
<g clip-path="url(#c28)">
<rect x="503.0" y="1218.0" width="249.0" height="124.0" fill="#dfe5fe"/>
<g transform="translate(503.0 1218.0) scale(0.19529)">
<path d="M-30 60c15-25 53-22 90-30c38-8 92-10 140-20c48-10 88-35 150-40c83-7 295-15 350 0c36 10-12 65-20 90c-8 25-10 45-30 60c-20 15-57 25-90 30c-33 5-75-3-110 0c-35 3-60 14-100 20c-42 6-105 12-150 15c-45 3-82 6-120 5c-38-1-92 12-110-10c-18-22-15-95 0-120z" fill="#ffffff"/>
<path d="M60 130c0-16 17-47 40-60c23-13 60-14 100-20c42-7 108-13 150-20c40-6 65-15 100-20c35-5 80-13 110-10c30 3 55 17 70 30c15 13 20 35 20 50c0 15-5 30-20 40c-15 11-48 22-70 25c-22 3-45 1-60-5c-15-6-13-28-30-30c-17-2-42 13-70 20c-28 7-67 14-100 20c-33 6-67 12-100 15c-33 3-77 6-100 0c-21-5-40-19-40-35z" fill="#ffe4df"/>
<path d="M120 110c3-9 21-23 40-30c22-8 54-14 90-20c40-7 108-13 150-20c40-6 70-18 100-20c30-2 63 0 80 10c17 10 20 35 20 50c0 15-7 32-20 40c-13 8-47 10-60 5c-13-5-4-32-20-35c-20-3-67 9-100 15c-33 6-67 14-100 20c-33 6-73 13-100 15c-24 2-47 0-60-5c-12-4-23-16-20-25z" fill="#ffcabf"/>
<path d="M210 105c6-7 25-17 40-20c15-3 42-1 50 5c8 6 8 21 0 28c-8 7-36 11-50 12c-14 1-28-1-35-5c-7-4-10-14-5-20z" fill="#ffaf9f"/>
<path d="M700 -30c77-12 378-12 450 0c29 5-5 48-20 70c-15 22-48 52-70 60c-22 8-36-4-60-10c-27-7-75-30-100-30c-23 0-30 22-50 30c-20 8-48 20-70 20c-22 0-45-8-60-20c-15-12-27-30-30-50c-3-20-18-66 10-70z" fill="#ffffff"/>
<path d="M200 225c13-7 60-14 100-20c42-7 100-15 150-20c50-5 92-10 150-13c58-3 133-4 200-7c67-3 142-5 200-10c58-5 98-13 150-20c52-7 133-47 160-20c27 27 18 150 0 180c-18 30-75 3-110 0c-35-3-67-15-100-20c-33-5-67-10-100-13c-33-3-67-3-100-4c-33-1-67-1-100-3c-33-2-67-8-100-10c-33-2-67-2-100 0c-33 2-67 8-100 10c-33 2-67 0-100 0c-33 0-70 1-100 0c-30-1-63 0-80-5c-12-4-31-19-20-25z" fill="#bfcafd"/>
<path d="M420 215c28-7 117-15 180-20c63-5 133-7 200-10c67-3 142-6 200-10c58-4 98-11 150-15c52-4 133-28 160-10c27 18 18 96 0 115c-18 19-67 3-110 0c-43-3-100-15-150-20c-50-5-108-8-150-10c-40-2-67 2-100 0c-33-2-67-8-100-10c-33-2-67-2-100 0c-33 2-72 8-100 10c-28 2-57 3-70 0c-9-2-19-18-10-20z" fill="#9fb0fc"/>
<path d="M860 205c20-5 92-10 140-15c48-5 98-12 150-15c52-3 133-17 160-5c27 12 18 62 0 75c-18 13-67 3-110 0c-43-3-108-12-150-15c-40-3-72-3-100-5c-28-2-55-2-70-5c-10-2-30-13-20-15z" fill="#8096fc"/>
<path d="M1040 215c0-6 35-16 60-20c27-5 65-7 100-8c35-1 92-5 110 3c16 7 17 38 0 45c-18 8-75 3-110 2c-35-1-73-3-100-7c-25-3-60-9-60-15z" fill="#607bfb"/>
<path d="M1140 215c5-5 23-13 40-15c17-2 48 1 60 5c8 3 17 15 10 20c-7 5-33 8-50 8c-17 0-40-3-50-6c-6-2-15-8-10-12z" fill="#4061fa"/>
<path d="M100 330c0-10 27-29 50-40c25-11 59-21 100-28c42-7 98-10 150-12c52-2 113-1 160 0c47 1 97 1 120 5c11 2 29 14 20 20c-10 7-48 14-80 20c-33 6-90 7-120 15c-26 7-47 18-60 30c-13 12-10 30-20 40c-10 10-22 17-40 20c-20 3-53 5-80 0c-27-5-55-22-80-30c-25-8-50-13-70-20c-20-7-50-10-50-20z" fill="#ffffff"/>
<path d="M200 320c5-13 35-30 60-40c25-10 58-14 90-18c32-4 65-4 100-4c35 0 92 0 110 4c7 1 7 15 0 18c-13 6-57 8-80 15c-23 7-43 14-60 25c-17 11-27 29-40 40c-13 11-23 21-40 25c-17 4-42 4-60 0c-18-4-37-14-50-25c-13-11-35-27-30-40z" fill="#ffe4df"/>
<path d="M230 330c7-11 35-26 60-35c25-9 65-17 90-20c24-2 57-3 60 5c3 8-25 25-40 40c-15 15-33 40-50 50c-17 10-33 12-50 10c-17-2-38-12-50-20c-12-8-27-19-20-30z" fill="#ffcabf"/>
<path d="M260 340c0-10 18-23 30-25c12-2 33 7 40 15c7 8 7 28 0 35c-7 7-28 14-40 10c-12-4-30-25-30-35z" fill="#ffaf9f"/>
<path d="M330 400c3-8 68 0 90-10c22-10 23-35 40-50c17-15 32-33 60-40c32-8 87-8 130-10c43-2 97-5 130 0c30 5 50 17 70 30c20 13 32 35 50 50c18 15 60 28 60 40c0 12-34 23-60 30c-27 7-67 7-100 10c-33 3-67 10-100 10c-33 0-73-12-100-10c-25 2-40 18-60 20c-20 2-37-5-60-10c-23-5-55-10-80-20c-25-10-73-32-70-40z" fill="#bfcafd"/>
<path d="M550 330c10-9 42-13 70-15c28-2 78-3 100 5c19 7 20 27 30 40c10 13 32 29 30 40c-2 11-22 21-40 25c-20 4-57 4-80 0c-23-4-43-16-60-25c-17-9-32-18-40-30c-8-12-20-31-10-40z" fill="#9fb0fc"/>
<path d="M380 410c3-7 23-13 40-15c17-2 40 1 60 5c20 4 53 12 60 20c7 8-7 25-20 30c-13 5-40 2-60 0c-20-2-47-8-60-15c-11-6-23-18-20-25z" fill="#9fb0fc"/>
<path d="M400 410c4-5 28-11 40-10c12 1 28 9 30 15c2 6-11 17-20 20c-9 3-27-1-35-5c-8-4-19-15-15-20z" fill="#8096fc"/>
<path d="M425 408c3-3 19-5 25-3c6 2 10 12 8 15c-2 3-18 7-23 5c-5-2-13-14-10-17z" fill="#607bfb"/>
<path d="M1100 330c5-9 28-22 50-25c25-3 73 3 100 5c24 2 50-2 60 10c10 12 18 55 0 65c-18 10-78-1-110-5c-32-4-63-12-80-20c-13-6-25-21-20-30z" fill="#ffffff"/>
<path d="M110 510c2-11 22-27 40-30c18-3 53 2 70 10c17 8 33 30 30 40c-3 10-32 18-50 20c-18 2-45 2-60-5c-15-7-32-24-30-35z" fill="#ffffff"/>
<path d="M350 560c17-22 67-18 100-20c33-2 60 2 100 5c42 3 92 11 150 15c58 4 150 5 200 10c41 4 67 17 100 20c33 3 67-2 100 0c33 2 65 7 100 10c35 3 92-2 110 10c18 12 24 59 0 60c-160 10-800 18-960 0c-44-5-17-88 0-110z" fill="#bfcafd"/>
<path d="M-30 560c22-17 92 7 130 10c38 3 60 7 100 10c42 3 125-5 150 10c25 15 31 73 0 80c-63 13-317 18-380 0c-42-12-22-93 0-110z" fill="#bfcafd"/>
<path d="M640 600c43-14 183-13 260-15c77-2 132 5 200 5c68 0 175-18 210-5c32 12 34 81 0 85c-112 14-558 12-670 0c-28-3-27-61 0-70z" fill="#9fb0fc"/>
<path d="M-30 110c10-26 55 0 70 10c15 10 13 30 20 50c7 20 20 50 20 70c0 20-2 40-20 50c-18 10-75 40-90 10c-15-30-12-160 0-190z" fill="#ffffff"/>
</g></g>
<clipPath id="c29"><rect x="752.0" y="1218.0" width="249.0" height="124.0"/></clipPath>
<g clip-path="url(#c29)">
<rect x="752.0" y="1218.0" width="249.0" height="124.0" fill="#dfe5fe"/>
<g transform="translate(752.0 1218.0) scale(0.19529)">
<path d="M40 0c7 17 20 48 30 70c10 22 15 40 30 60c15 20 35 45 60 60c25 15 58 20 90 30c32 10 78 28 100 30c14 1 42-12 30-20c-12-8-70-20-100-30c-30-10-57-20-80-30c-23-10-43-17-60-30c-17-13-28-32-40-50c-12-18-23-40-30-60c-7-20-3-50-10-60c-7-10-27-5-30 0c-3 5 5 18 10 30z" fill="#ffffff"/>
<path d="M60 -30c2-13 20 3 30 10c12 8 27 25 40 40c13 15 23 35 40 50c17 15 38 28 60 40c22 12 52 20 70 30c18 10 27 18 40 30c13 12 30 28 40 40c9 11 25 27 20 30c-5 3-30-5-50-10c-20-5-45-12-70-20c-25-8-57-20-80-30c-23-10-43-18-60-30c-17-12-30-25-40-40c-10-15-14-29-20-50c-7-23-22-77-20-90z" fill="#ffe4df"/>
<path d="M85 10c3-6 17 3 25 10c9 8 18 27 30 40c12 13 23 28 40 40c17 12 40 25 60 35c20 10 45 17 60 25c14 8 32 19 30 25c-2 6-24 12-40 10c-18-3-48-16-70-25c-22-9-43-18-60-30c-17-12-29-26-40-40c-11-14-19-30-25-45c-6-15-13-39-10-45z" fill="#ffaf9f"/>
<path d="M110 50c3-2 19 10 30 20c12 11 23 32 40 45c17 13 40 21 60 30c20 9 48 18 60 25c6 4 17 12 10 15c-7 3-32 4-50 0c-18-4-42-15-60-25c-18-10-37-22-50-35c-13-13-23-27-30-40c-7-13-13-33-10-35z" fill="#ff7a60"/>
<path d="M150 100c5 0 23 16 40 25c17 9 42 21 60 30c18 9 43 19 45 23c2 4-21 3-35 0c-16-4-43-14-60-23c-17-9-32-21-40-30c-7-8-15-25-10-25z" fill="#ff4520"/>
<path d="M180 -30c-13 7 10 27 20 40c10 13 28 38 40 40c12 2 23-17 30-30c7-13 25-42 10-50c-15-8-87-7-100 0z" fill="#ffe4df"/>
<path d="M260 30c2-10 23-18 40-20c17-2 40-2 60 5c20 7 47 23 60 35c13 12 23 30 20 40c-3 10-23 18-40 20c-17 2-42-3-60-10c-18-7-37-18-50-30c-13-12-32-30-30-40z" fill="#bfcafd"/>
<path d="M330 40c5-8 35-10 50-5c15 5 37 25 40 35c3 10-8 23-20 25c-12 2-38-6-50-15c-12-9-25-32-20-40z" fill="#9fb0fc"/>
<path d="M245 70c4-4 17 12 25 20c8 8 20 22 20 30c0 8-12 21-20 20c-8-1-21-13-25-25c-4-12-4-41 0-45z" fill="#ffcabf"/>
<path d="M325 95c3-7 17-9 25-5c8 4 20 20 20 30c0 10-13 28-20 30c-7 2-16-11-20-20c-4-9-8-28-5-35z" fill="#ffe4df"/>
<path d="M350 120c3-10 31-3 50-10c22-8 57-33 80-40c23-7 47-5 60 0c13 5 27 20 20 30c-7 10-38 20-60 30c-22 10-50 23-70 30c-19 6-37 17-50 10c-13-7-33-40-30-50z" fill="#ffffff"/>
<path d="M400 240c0-17 10-47 20-60c10-13 23-18 40-20c17-2 43 3 60 10c17 7 23 23 40 30c17 7 37 5 60 10c23 5 50 13 80 20c30 7 73 13 100 20c25 6 47 10 60 20c13 10 22 28 20 40c-2 12-13 27-30 30c-17 3-45-3-70-10c-25-7-57-23-80-30c-23-7-43-10-60-10c-16 0-24 9-40 10c-20 2-57 2-80 0c-23-2-43-7-60-10c-16-3-30-2-40-10c-10-8-20-23-20-40z" fill="#ffe4df"/>
<path d="M420 240c2-13 10-39 20-50c10-11 27-15 40-15c13 0 30 7 40 15c10 8 7 24 20 30c13 7 36 6 60 10c27 5 70 14 100 20c30 6 57 9 80 15c23 6 48 11 60 20c11 9 17 28 10 35c-7 7-30 8-50 5c-22-3-53-16-80-25c-27-9-60-28-80-30c-17-2-23 12-40 15c-17 3-38 6-60 5c-22-1-52-7-70-10c-16-3-32-3-40-10c-8-7-12-17-10-30z" fill="#ffaf9f"/>
<path d="M430 240c2-12 12-32 20-40c8-8 22-13 30-10c8 3 20 18 20 30c0 12-12 30-20 40c-8 10-22 18-30 20c-7 2-12-4-15-10c-3-7-7-18-5-30z" fill="#ff7a60"/>
<path d="M510 250c4-8 18-14 30-15c12-1 32 3 40 10c8 7 10 23 5 30c-5 7-23 14-35 15c-12 1-28-3-35-10c-7-7-9-22-5-30z" fill="#ff7a60"/>
<path d="M640 240c10-2 37 5 60 10c23 5 58 12 80 20c21 7 47 17 50 25c3 8-15 23-30 25c-15 2-40-4-60-10c-20-6-43-18-60-25c-16-7-33-13-40-20c-7-7-10-23 0-25z" fill="#ff7a60"/>
<path d="M480 270c2-10 14-30 20-30c6 0 14 20 15 30c1 10-5 25-10 30c-5 5-16 5-20 0c-4-5-7-20-5-30z" fill="#ffffff"/>
<path d="M520 130c10-10 70-17 100-20c30-3 50-3 80 0c30 3 67 12 100 20c33 8 75 18 100 30c23 11 33 28 50 40c17 12 48 22 50 30c2 8-22 20-40 20c-20 0-53-13-80-20c-27-7-50-15-80-20c-30-5-70-7-100-10c-30-3-57-5-80-10c-23-5-43-10-60-20c-17-10-50-30-40-40z" fill="#bfcafd"/>
<path d="M820 220c7-7 53-12 80-10c27 2 63 17 80 25c11 6 27 20 20 25c-7 5-37 7-60 5c-23-2-60-7-80-15c-19-7-47-23-40-30z" fill="#9fb0fc"/>
<path d="M600 60c0-10 30-27 50-30c20-3 52 2 70 10c18 8 40 30 40 40c0 10-22 18-40 20c-18 2-50-3-70-10c-20-7-50-20-50-30z" fill="#bfcafd"/>
<path d="M780 -30c47-10 258-5 320 0c23 2 50 17 50 30c0 13-47 35-50 50c-3 15 30 27 30 40c0 13-18 27-30 40c-12 13-23 35-40 40c-17 5-43-2-60-10c-17-8-30-25-40-40c-10-15-7-38-20-50c-13-12-40-13-60-20c-20-7-43-7-60-20c-17-13-68-54-40-60z" fill="#ffffff"/>
<path d="M1050 170c0-12 33-62 50-80c16-17 27-27 50-30c25-3 73 5 100 10c25 5 50 3 60 20c10 17 18 70 0 80c-18 10-75-18-110-20c-35-2-75 7-100 10c-20 3-50 22-50 10z" fill="#ffffff"/>
<path d="M1090 190c-2-15 10-35 20-50c10-15 25-32 40-40c15-8 30-12 50-10c20 2 52 15 70 20c16 4 36-6 40 10c7 27 10 125 0 150c-9 22-38 3-60 0c-22-3-48-13-70-20c-22-7-45-10-60-20c-15-10-28-25-30-40z" fill="#ffe4df"/>
<path d="M1110 200c3-11 25-30 40-40c15-10 30-18 50-20c20-2 52 7 70 10c16 3 34-5 40 10c7 18 10 83 0 100c-10 17-38 3-60 0c-22-3-50-14-70-20c-20-6-38-8-50-15c-11-6-23-14-20-25z" fill="#ffcabf"/>
<path d="M1140 200c0-10 25-24 40-30c15-6 33-7 50-5c17 2 40 4 50 15c10 11 17 39 10 50c-7 11-32 15-50 15c-18 0-43-7-60-15c-17-8-40-20-40-30z" fill="#ffaf9f"/>
<path d="M1180 200c2-8 18-18 30-20c12-2 31-1 40 5c9 6 18 22 15 30c-3 8-23 18-35 20c-12 2-27-4-35-10c-8-6-17-17-15-25z" fill="#ff9480"/>
<path d="M-30 150c12-18 48 3 70 10c22 7 42 20 60 30c18 10 28 21 50 30c25 10 67 22 100 30c33 8 75 10 100 20c24 10 58 31 50 40c-8 9-67 12-100 12c-33 0-67-7-100-12c-33-5-67-13-100-20c-33-7-78-17-100-20c-12-2-27 12-30 0c-5-20-12-102 0-120z" fill="#bfcafd"/>
<path d="M-30 195c12-9 47 3 70 10c23 7 67 25 70 35c3 10-28 19-50 22c-23 3-75 9-90-2c-15-11-12-56 0-65z" fill="#9fb0fc"/>
<path d="M-30 212c12-5 53 5 70 10c13 4 32 13 30 18c-2 5-23 12-40 14c-17 2-50 5-60-2c-10-7-12-35 0-40z" fill="#8096fc"/>
<path d="M-30 -30c7-19 35 2 50 10c15 8 30 22 40 40c10 18 20 52 20 70c0 18-7 35-20 40c-13 5-45-7-60-10c-12-3-28 2-30-10c-5-25-8-118 0-140z" fill="#bfcafd"/>
<path d="M-30 305c38-35 172 14 230 15c48 1 95-15 120-10c20 4 28 25 30 40c2 15-8 38-20 50c-12 12-50 8-50 20c0 12 38 33 50 50c12 17 25 37 20 50c-5 13-27 25-50 30c-25 6-67 7-100 5c-33-2-67-11-100-15c-33-4-78-8-100-10c-12-1-28 12-30 0c-5-38-38-190 0-225z" fill="#ffffff"/>
<path d="M-30 420c22-13 98 0 130 5c26 4 52 13 60 25c8 12 7 40-10 50c-17 10-60 9-90 10c-30 1-75 10-90-5c-15-15-22-72 0-85z" fill="#dfe5fe"/>
<path d="M380 440c-2-12 30-23 40-40c10-17 12-47 20-60c8-12 16-19 30-20c17-2 48 5 70 10c22 5 43 8 60 20c17 12 40 35 40 50c0 15-40 27-40 40c0 13 23 30 40 40c17 10 40 10 60 20c20 10 47 28 60 40c11 9 7 23 20 30c15 8 50 13 70 20c20 7 42 7 50 20c8 13 24 57 0 60c-75 10-383 8-450 0c-28-4 38-32 50-50c12-18 20-40 20-60c0-20-12-45-20-60c-8-15-18-25-30-30c-12-5-25 5-40 0c-15-5-48-18-50-30z" fill="#bfcafd"/>
<path d="M440 380c0-12 17-26 30-20c13 7 38 42 50 60c12 18 23 43 20 50c-3 7-28-3-40-10c-12-7-20-17-30-30c-10-13-30-38-30-50z" fill="#9fb0fc"/>
<path d="M680 600c10-15 43-22 60-20c17 2 30 15 40 30c10 15 37 50 20 60c-17 10-100 12-120 0c-20-12-10-55 0-70z" fill="#9fb0fc"/>
<path d="M590 390c3-6 20-15 30-15c10 0 27 9 30 15c3 6-2 17-10 20c-8 3-32 3-40 0c-8-3-13-14-10-20z" fill="#ffffff"/>
<path d="M500 480c4-5 22-16 30-15c8 1 20 14 20 20c0 6-12 13-20 15c-8 2-20-2-25-5c-5-3-9-10-5-15z" fill="#ffffff"/>
<path d="M730 490c0-18 18-50 30-70c12-20 25-40 40-50c15-10 33-13 50-10c17 3 41 17 50 30c9 13 8 32 5 50c-3 18-16 40-25 60c-9 20-17 51-30 60c-13 9-35 0-50-5c-15-5-28-14-40-25c-12-11-30-22-30-40z" fill="#ffffff"/>
<path d="M800 470c0-10 12-27 20-30c8-3 25 2 30 10c5 8 5 32 0 40c-5 8-22 13-30 10c-8-3-20-20-20-30z" fill="#ffe4df"/>
<path d="M980 490c-3-14 10-48 20-70c10-22 37-40 40-60c3-20-30-48-20-60c10-12 50-7 80-10c30-3 65-8 100-10c35-2 93-41 110 0c18 43 18 220 0 260c-18 40-75-15-110-20c-35-5-70-8-100-10c-30-2-60-2-80-5c-17-3-37-1-40-15z" fill="#ffffff"/>
<path d="M1030 330c7-10 27-25 50-30c25-6 72-8 100-5c28 3 60 13 70 25c10 12 7 38-10 50c-17 12-63 18-90 20c-27 2-52-5-70-10c-17-5-32-12-40-20c-8-8-17-20-10-30z" fill="#ffe4df"/>
<path d="M1080 440c-10-12-5-34 10-40c20-8 73-10 110-10c37 0 92-3 110 10c18 13 10 57 0 70c-10 13-36 10-60 10c-27 0-72-3-100-10c-28-7-60-18-70-30z" fill="#ffe4df"/>
<path d="M1090 330c3-9 40-20 60-20c20 0 52 12 60 20c8 8 2 25-10 30c-13 6-52 10-70 5c-18-5-43-26-40-35z" fill="#ffcabf"/>
<path d="M900 360c7-5 32 2 40 10c8 8 13 32 10 40c-3 8-22 12-30 10c-8-2-17-10-20-20c-3-10-7-35 0-40z" fill="#bfcafd"/>
</g></g>
<clipPath id="c30"><rect x="380.0" y="1190.0" width="249.0" height="124.0"/></clipPath>
<g clip-path="url(#c30)">
<rect x="380.0" y="1190.0" width="249.0" height="124.0" fill="#bfcafd"/>
<g transform="translate(380.0 1190.0) scale(0.19529)">
<path d="M60 -30c-29 6 5 50 20 70c15 20 42 37 70 50c28 13 70 23 100 30c30 7 55 13 80 10c25-3 50-18 70-30c20-12 43-18 50-40c7-22 25-82-10-90c-65-15-320-12-380 0z" fill="#9fb0fc"/>
<path d="M100 -30c-25 5 3 42 20 60c17 18 53 37 80 50c27 13 55 25 80 30c25 5 50 7 70 0c20-7 42-17 50-40c8-23 38-87 0-100c-50-17-253-10-300 0z" fill="#8096fc"/>
<path d="M200 90c7-6 38-11 60-10c22 1 57 8 70 15c10 5 18 19 10 25c-8 6-40 11-60 10c-20-1-47-8-60-15c-11-6-27-19-20-25z" fill="#607bfb"/>
<path d="M-30 -30c15-23 73-12 90 0c17 12 13 48 10 70c-3 22-13 48-30 60c-17 12-58 32-70 10c-12-22-15-117 0-140z" fill="#dfe5fe"/>
<path d="M-30 150c15-17 60-12 90-20c30-8 63-23 90-25c27-2 45 7 70 15c25 8 50 28 80 30c30 2 73-15 100-20c24-4 40-13 60-10c20 3 43 17 60 30c17 13 37 35 40 50c3 15-7 32-20 40c-13 8-40 12-60 10c-20-2-43-12-60-20c-17-8-25-25-40-30c-15-5-37-7-50 0c-13 7-17 32-30 40c-13 8-33 17-50 10c-17-7-32-40-50-50c-18-10-37-10-60-10c-23 0-52 3-80 10c-28 7-75 38-90 30c-15-8-15-63 0-80z" fill="#ffffff"/>
<path d="M60 170c5-8 22-22 40-30c18-8 47-20 70-20c23 0 48 13 70 20c22 7 40 19 60 20c20 1 37-12 60-15c23-3 57-3 80 0c23 3 43 6 60 15c17 9 37 28 40 40c3 12-8 24-20 30c-12 6-33 8-50 5c-17-3-38-12-50-20c-12-8-7-24-20-30c-13-7-45-16-60-10c-15 6-18 36-30 45c-12 9-27 13-40 10c-13-3-25-21-40-30c-15-9-32-22-50-25c-18-3-42 3-60 5c-18 2-40 12-50 10c-9-1-15-12-10-20z" fill="#ffcabf"/>
<path d="M180 150c7-5 32-12 50-10c18 2 48 15 60 25c11 9 13 27 10 35c-3 8-18 17-30 15c-12-2-27-17-40-25c-13-8-32-13-40-20c-7-6-17-15-10-20z" fill="#ffaf9f"/>
<path d="M420 180c4-7 27-15 40-15c13 0 32 7 40 15c8 8 15 22 10 30c-5 8-28 16-40 15c-12-1-27-13-35-20c-8-7-19-18-15-25z" fill="#ffaf9f"/>
<path d="M225 160c5-4 24-8 35-5c11 3 26 13 30 20c4 7 2 22-5 25c-7 3-26-2-35-5c-9-3-16-9-20-15c-4-6-10-16-5-20z" fill="#ff9480"/>
<path d="M-30 240c13-34 65 5 90 20c25 15 45 47 60 70c15 23 27 47 30 70c3 23 5 53-10 70c-15 17-52 27-80 30c-28 3-78 24-90-10c-15-43-15-212 0-250z" fill="#9fb0fc"/>
<path d="M-30 330c12-17 48 2 70 10c22 8 47 25 60 40c13 15 23 37 20 50c-3 13-20 27-40 30c-20 3-62-7-80-10c-12-2-27 2-30-10c-5-20-12-93 0-110z" fill="#8096fc"/>
<path d="M100 220c8-8 40-20 60-20c20 0 37 12 60 20c23 8 63 17 80 30c17 13 23 38 20 50c-3 12-23 20-40 20c-17 0-47-23-60-20c-13 3-12 30-20 40c-8 10-20 27-30 20c-10-7-20-42-30-60c-10-18-23-37-30-50c-6-11-18-22-10-30z" fill="#9fb0fc"/>
<path d="M130 290c-2-15 12-42 20-40c8 2 23 33 30 50c7 17 13 43 10 50c-3 7-21-1-30-10c-10-10-28-35-30-50z" fill="#dfe5fe"/>
<path d="M-30 200c12-8 55 3 70 10c13 6 23 22 20 30c-3 8-25 18-40 20c-15 2-42 5-50-5c-8-10-12-47 0-55z" fill="#ffe4df"/>
<path d="M320 190c3-10 27-12 40-10c13 2 32 10 40 20c8 10 13 30 10 40c-3 10-18 20-30 20c-12 0-30-8-40-20c-10-12-23-40-20-50z" fill="#9fb0fc"/>
<path d="M330 195c4-6 26-8 35-5c9 3 20 18 20 25c0 7-13 18-20 20c-7 2-19-3-25-10c-6-7-14-24-10-30z" fill="#8096fc"/>
<path d="M400 260c5-10 25-22 40-20c15 2 38 18 50 30c12 12 20 28 20 40c0 12-10 27-20 30c-10 3-27-3-40-10c-13-7-32-18-40-30c-8-12-15-30-10-40z" fill="#9fb0fc"/>
<path d="M440 290c2-8 20-12 30-10c10 2 27 17 30 25c3 8-3 22-10 25c-7 3-22 2-30-5c-8-7-22-27-20-35z" fill="#607bfb"/>
<path d="M460 300c1-5 14-8 20-5c6 3 16 15 15 20c-1 5-14 13-20 10c-6-3-16-20-15-25z" fill="#4061fa"/>
<path d="M500 260c2-7 25-13 40-10c15 3 40 15 50 30c10 15 13 43 10 60c-3 17-17 32-30 40c-13 8-37 13-50 10c-13-3-30-20-30-30c0-10 24-18 30-30c6-12 8-28 5-40c-3-12-27-23-25-30z" fill="#ffffff"/>
<path d="M520 300c4-12 20-22 30-20c10 2 25 18 30 30c5 12 5 30 0 40c-5 10-21 20-30 20c-9 0-20-8-25-20c-5-12-9-38-5-50z" fill="#ffcabf"/>
<path d="M530 310c2-9 18-17 25-15c7 2 15 17 17 25c2 8-2 20-7 25c-5 5-19 11-25 5c-6-6-12-31-10-40z" fill="#ffaf9f"/>
<path d="M538 318c0-6 12-12 17-10c5 2 11 14 10 20c-1 6-9 16-13 14c-4-2-14-18-14-24z" fill="#ff9480"/>
<path d="M160 380c2-12 20-30 40-40c20-10 53-18 80-20c27-2 57 5 80 10c23 5 40 12 60 20c20 8 43 22 60 30c16 8 40 13 40 20c0 7-22 19-40 20c-20 2-55-10-80-10c-25 0-45 8-70 10c-25 2-57 7-80 5c-23-2-45-7-60-15c-15-8-32-18-30-30z" fill="#ffffff"/>
<path d="M190 375c3-8 22-19 40-25c18-6 45-10 70-10c25 0 58 5 80 10c21 5 35 12 50 20c15 8 42 20 40 25c-2 5-30 4-50 5c-22 1-53-2-80 0c-27 2-58 10-80 10c-20 0-38-4-50-10c-11-6-23-17-20-25z" fill="#ffcabf"/>
<path d="M230 375c4-6 18-13 30-15c12-2 33 0 40 5c7 5 7 19 0 25c-7 6-29 9-40 10c-10 1-20-1-25-5c-5-4-9-14-5-20z" fill="#ffaf9f"/>
<path d="M590 130c3-10 18-27 30-30c12-3 33 2 40 10c7 8 5 30 0 40c-5 10-20 18-30 20c-10 2-23-3-30-10c-7-7-13-20-10-30z" fill="#8096fc"/>
<path d="M650 230c8-17 45-22 70-30c25-8 50-13 80-20c30-7 67-13 100-20c33-7 67-14 100-20c33-6 67-12 100-15c33-3 65-1 100 0c35 1 92-24 110 5c18 29 18 142 0 170c-18 28-75-2-110 0c-35 2-67 7-100 10c-33 3-67 7-100 10c-33 3-67 8-100 10c-33 2-70 5-100 5c-30 0-58 1-80-5c-22-6-38-13-50-30c-12-17-28-53-20-70z" fill="#ffffff"/>
<path d="M690 260c3-12 28-25 50-35c22-10 50-17 80-25c30-8 67-13 100-20c33-7 67-14 100-20c33-6 67-13 100-15c33-2 68 3 100 5c32 2 75-10 90 10c15 20 18 90 0 110c-18 20-75 7-110 10c-35 3-67 7-100 10c-33 3-67 7-100 10c-33 3-67 8-100 10c-33 2-70 2-100 0c-30-2-62-2-80-10c-18-8-33-28-30-40z" fill="#ffe4df"/>
<path d="M720 262c5-10 30-21 50-30c20-9 43-15 70-22c27-7 58-12 90-18c32-6 68-14 100-20c32-6 58-12 90-14c32-2 68 2 100 4c32 2 75-6 90 10c15 16 18 70 0 86c-18 16-75 7-110 10c-35 3-67 7-100 10c-33 3-67 7-100 10c-33 3-67 8-100 10c-33 2-73 1-100 0c-24-1-47-2-60-8c-13-6-25-18-20-28z" fill="#ffcabf"/>
<path d="M830 250c0-9 15-21 30-25c15-4 46-4 60 0c14 4 25 17 25 25c0 8-12 20-25 25c-14 5-45 9-60 5c-15-4-30-21-30-30z" fill="#ffaf9f"/>
<path d="M1100 200c7-12 30-26 50-30c20-4 53-3 70 5c17 8 30 30 30 45c0 15-13 37-30 45c-17 8-52 9-70 5c-18-4-32-18-40-30c-8-12-17-28-10-40z" fill="#ffaf9f"/>
<path d="M830 360c10-7 42-12 70-15c28-3 67-3 100-5c33-2 67-3 100-5c33-2 65-4 100-5c35-1 92-8 110 0c18 8 18 41 0 50c-18 9-75 5-110 5c-35 0-67-5-100-5c-33 0-67 3-100 5c-33 2-73 5-100 5c-24 0-48 0-60-5c-10-4-19-19-10-25z" fill="#9fb0fc"/>
<path d="M800 480c0-10 14-29 30-40c17-12 42-22 70-30c28-8 67-12 100-15c33-3 67-1 100 0c33 1 87-1 100 5c13 6-7 24-20 30c-20 8-80 10-100 20c-16 8-7 28-20 40c-13 12-42 22-60 30c-18 8-30 20-50 20c-20 0-50-13-70-20c-20-7-37-13-50-20c-13-6-30-10-30-20z" fill="#ffffff"/>
<path d="M850 470c0-12 28-31 50-40c22-9 52-12 80-15c28-3 77-6 90 0c13 6-2 24-10 35c-8 11-23 20-40 30c-17 10-40 27-60 30c-20 3-42-3-60-10c-18-7-50-18-50-30z" fill="#ffe4df"/>
<path d="M870 480c2-8 25-24 40-30c15-6 38-8 50-5c12 3 22 16 20 25c-2 9-17 26-30 30c-13 4-37-2-50-5c-13-3-32-7-30-15z" fill="#ffcabf"/>
<path d="M1000 520c3-12 43-23 60-20c17 3 35 27 40 40c5 13 0 35-10 40c-10 5-35 0-50-10c-15-10-43-38-40-50z" fill="#8096fc"/>
<path d="M1150 440c17-10 73-10 100-10c24 0 50-12 60 10c10 22 10 98 0 120c-10 22-38 13-60 10c-22-3-53-17-70-30c-17-13-25-33-30-50c-5-17-17-40 0-50z" fill="#9fb0fc"/>
<path d="M380 400c5-3 27 8 40 20c13 12 27 33 40 50c13 17 20 38 40 50c20 12 57 16 80 20c23 4 40 5 60 5c20 0 53-7 60-5c7 2-9 18-20 20c-17 3-53 2-80 0c-27-2-58-5-80-10c-21-5-35-8-50-20c-15-12-27-35-40-50c-13-15-32-27-40-40c-8-13-15-37-10-40z" fill="#ffffff"/>
<path d="M560 480c2-14 10-47 20-60c10-13 32-23 40-20c8 3 13 24 10 40c-3 17-20 49-30 60c-8 9-23 8-30 5c-7-3-11-14-10-25z" fill="#ffffff"/>
<path d="M575 470c0-12 13-40 20-50c6-9 22-15 25-10c3 5-1 26-5 40c-4 14-13 42-20 45c-7 3-20-13-20-25z" fill="#ffe4df"/>
<path d="M630 270c2-11 23-10 30-5c7 5 5 21 10 35c7 18 27 53 30 70c2 12-3 28-10 30c-7 2-23-8-30-20c-7-12-5-32-10-50c-5-18-22-49-20-60z" fill="#ffffff"/>
<path d="M40 560c2-9 38-15 60-15c22 0 60 7 70 15c10 8 3 28-10 35c-13 7-50 11-70 5c-20-6-52-31-50-40z" fill="#dfe5fe"/>
<path d="M200 625c17-10 63-14 100-15c37-1 95-2 120 8c22 9 53 46 30 52c-37 9-208 8-250 0c-18-3-15-36 0-45z" fill="#dfe5fe"/>
<path d="M330 430c13-13 65-15 90-10c25 5 52 23 60 40c8 17 3 47-10 60c-13 13-48 23-70 20c-22-3-48-22-60-40c-12-18-23-57-10-70z" fill="#9fb0fc"/>
<path d="M180 520c7-13 55-22 80-20c25 2 63 18 70 30c7 12-12 32-30 40c-18 8-60 18-80 10c-20-8-47-47-40-60z" fill="#9fb0fc"/>
<path d="M680 635c7-12 23-27 40-35c17-8 42-10 60-10c18 0 37 13 50 10c13-3 22-30 30-30c8 0 13 19 20 30c7 11 17 23 20 35c3 12 14 33 0 35c-37 6-183 6-220 0c-14-2-7-23 0-35z" fill="#ffffff"/>
<path d="M1050 -30c-19 8-7 40 10 50c17 10 70 18 90 10c20-8 47-50 30-60c-17-10-110-8-130 0z" fill="#ffffff"/>
<path d="M620 -30c-17 7 7 32 20 40c13 8 43 12 60 5c17-7 53-37 40-45c-13-8-103-7-120 0z" fill="#ffe4df"/>
<path d="M760 -30c-28 9 5 55 20 70c15 15 42 18 70 20c28 2 75 5 100-10c25-15 82-67 50-80c-32-13-203-12-240 0z" fill="#dfe5fe"/>
</g></g>
<defs><path id="coast" d="M987.9 266.0L998.2 267.0M261.4 263.9L275.9 263.1L278.0 270.7L286.2 273.2L296.6 275.9L300.7 272.2L306.9 274.7L315.2 275.9L321.4 275.5L325.6 275.3L322.5 278.0L325.6 284.2L328.7 290.4L331.8 296.6L332.4 301.8L335.9 308.0L340.1 313.2L344.2 315.7L348.3 318.3L354.5 316.9L361.2 315.7L360.8 318.5L356.6 325.6L353.5 331.8L346.3 338.0L341.1 343.8L337.0 349.4L335.9 354.6L337.0 360.8L339.0 369.1L335.9 374.2L329.7 379.4L327.6 383.5L328.7 389.7L323.5 392.9L323.1 398.0L319.4 402.2L313.2 408.4L308.0 410.4L300.7 410.9L293.5 411.1L292.5 406.3L289.4 399.1L286.2 393.9L285.2 385.6L280.0 377.3L279.6 371.1L283.1 364.9L283.8 360.8L281.1 352.5L279.0 348.4L273.8 342.1L274.9 338.0L275.3 332.8L272.8 330.8L268.7 331.2L264.5 327.0L259.3 327.0M998.2 329.3L994.1 329.7L990.0 329.7L984.8 331.0L981.7 329.7L977.5 326.0L974.4 324.6L972.4 320.4L969.3 317.3L965.7 314.2L965.5 311.1L964.1 309.7L966.1 307.0L966.6 300.8L965.1 296.6L967.2 291.4L970.3 286.3L973.4 282.7L977.5 280.5L980.0 278.0L980.2 274.9L982.7 271.2L986.2 269.3L987.9 266.0M325.6 275.3L326.6 274.9L328.7 271.8L329.7 267.6L329.7 264.1L325.6 264.5L321.4 265.2L318.3 264.5L313.8 264.1L311.7 263.5L310.0 260.4L311.1 259.4L309.6 257.3L309.0 255.6L304.9 256.3L302.4 256.5L302.8 259.4L304.9 261.4L302.8 262.5L301.8 264.5L299.7 263.5L298.7 260.8L297.6 259.4L295.6 256.7L295.6 254.2L294.5 253.1L291.4 251.1L288.3 250.0L286.2 248.0L284.2 246.9L283.6 245.5L281.1 245.9L280.7 248.0L283.1 249.8L284.2 252.1L287.3 253.1L288.3 254.2L292.5 255.6L293.5 256.9L290.4 256.3L289.4 257.3L290.4 258.3L289.4 259.8L287.7 261.4L288.3 260.4L287.7 257.3L284.2 255.6L280.7 253.8L276.5 250.0L273.4 248.2L270.7 249.4L267.6 251.1L263.5 250.0L261.8 253.1L257.3 255.2M996.2 264.1L988.9 265.6L987.3 264.1L984.8 263.3L981.7 263.5L981.1 260.0L982.1 255.2L981.7 251.1L983.7 249.6L990.0 250.0L996.2 250.2L997.6 248.0L997.8 244.9L995.1 242.2L991.0 241.1L990.6 239.7L994.1 239.1L997.2 239.3L996.8 237.4M255.2 237.6L258.3 236.2L258.7 234.5L262.4 233.7L264.5 231.8L265.5 230.0L269.7 229.3L272.8 228.3L273.2 225.2L272.2 222.1L275.9 221.1L276.9 223.1L275.9 225.2L277.6 227.7L280.0 227.9L284.2 228.3L288.3 227.7L293.5 226.9L295.6 227.5L298.7 226.2L298.7 222.1L300.7 220.9L303.8 222.1L305.5 220.4L303.8 219.0L303.8 217.3L309.0 216.9L313.2 216.7L317.3 215.9L314.2 214.6L309.0 215.1L302.8 216.1L299.7 214.4L299.3 211.8L300.7 209.1L305.9 206.0L307.6 204.5L304.9 203.9L300.7 204.3L299.3 206.6L294.5 209.1L291.0 211.8L290.8 214.4L293.9 215.9L290.4 218.6L289.4 222.1L288.3 223.8L285.2 224.2L281.7 225.4L281.1 223.1L279.0 220.0L278.0 218.0L276.5 217.3L272.8 219.6L269.7 220.0L266.6 218.4L265.5 214.9L265.5 211.8L269.7 209.7L274.9 208.0L278.0 206.0L282.1 203.5L285.2 200.0L288.3 198.3L293.5 196.0L298.7 195.2L303.8 194.0L309.0 193.1L314.2 193.5L319.4 194.6L317.3 195.8L323.5 196.4L329.7 197.3L338.0 199.7L340.5 202.0L334.9 203.3L326.6 202.2L323.1 201.4L326.6 204.5L327.2 206.8L331.8 207.8L333.4 206.0L338.0 206.4L338.6 203.9L342.1 202.6L346.7 202.9L346.3 201.0L345.9 198.5L350.4 199.3L351.4 201.4L358.7 199.3L367.0 198.9L375.2 197.7L380.4 195.8L387.7 196.6L393.9 197.7L397.0 198.9L398.0 196.9L393.9 195.6L393.5 193.1L397.0 190.4L404.2 189.4L405.9 192.1L405.3 197.3L407.7 199.3L409.4 197.3L408.4 193.1L410.4 190.0L416.6 190.6L421.8 191.1L422.8 188.0L433.2 186.9L435.3 184.8L445.6 183.2L458.0 182.4L470.5 179.3L476.7 180.7L487.0 181.7L491.1 183.8L490.1 186.9L482.9 187.3L489.1 188.0L499.4 188.0L509.8 188.6L518.1 190.0L523.2 193.1L528.4 192.1L538.8 192.1L545.0 189.6L557.4 190.4L565.7 192.1L569.8 193.5L580.1 193.1L586.4 195.8L594.6 195.8L602.9 195.2L608.1 197.3L613.3 195.6L621.5 195.8L627.8 197.3L634.0 200.4L638.1 202.0L644.3 202.4L649.1 203.5L642.2 206.6L631.9 206.0L624.6 206.6L622.6 210.7L615.3 212.2L608.1 215.9L598.8 215.9L592.6 220.0L590.5 224.2L592.6 226.7L586.4 230.4L580.1 234.5L579.1 231.4L578.1 227.3L577.0 222.1L580.1 220.0L586.4 215.9L593.6 212.4L586.4 212.8L579.1 213.2L573.9 216.9L565.7 216.9L557.4 217.3L550.1 218.0L541.9 222.1L539.8 227.3L542.9 228.3L547.0 230.4L547.7 232.4L546.0 236.6L545.0 240.7L540.8 244.9L535.6 249.0L530.5 251.5L526.3 252.1L523.8 254.2L523.2 257.3L520.1 258.3L522.2 262.5L522.8 266.6L519.1 268.3L516.6 267.6L517.0 264.5L516.6 262.0L513.9 261.4L513.9 258.3L511.8 257.3L507.7 256.3L506.7 259.4L503.6 257.3L499.4 259.4L500.5 261.4L504.6 262.3L508.7 263.5L505.6 264.5L502.5 267.6L504.6 271.8L507.3 274.9L506.7 278.0L507.7 280.1L505.6 282.1L503.2 286.7L499.4 289.4L496.3 292.5L491.1 293.9L486.0 295.6L482.9 296.6L479.8 295.2L476.7 296.6L474.6 299.7L475.6 302.8L478.7 307.0L481.2 313.2L480.8 316.3L476.7 318.8L472.9 321.4L472.1 319.4L469.4 318.3L467.3 315.2L464.2 313.6L462.6 312.1L462.2 315.2L461.1 318.3L460.7 321.0L462.8 323.5L464.2 326.0L467.3 327.7L469.2 331.8L470.5 335.9L469.4 337.2L466.3 335.5L464.2 333.9L463.2 329.7L462.2 326.6L459.1 323.5L458.7 319.4L459.5 315.2L457.6 311.1L457.2 305.9L453.9 305.9L450.8 307.0L449.8 302.8L446.0 296.6L443.5 293.5L439.4 294.5L435.3 295.6L434.2 298.7L431.1 299.7L426.0 304.9L421.2 308.0L421.2 313.2L420.4 318.8L416.6 322.5L415.2 323.1L413.1 320.4L410.4 315.2L408.4 309.0L406.3 303.9L405.9 299.7L405.3 296.6L402.2 297.0L398.4 293.9L400.7 292.5L397.0 291.4L394.5 288.7L388.7 287.7L382.5 287.9L375.2 287.1L373.2 284.2L370.1 284.6L364.9 284.2L360.8 280.5L358.7 277.6L356.2 277.6L354.5 279.0L356.2 282.1L358.7 285.2L360.3 288.3L361.8 286.7L361.8 289.4L364.9 290.0L368.0 289.4L371.5 285.8L372.1 289.4L376.3 291.0L379.0 293.5L376.3 297.6L374.6 300.8L372.1 302.8L369.0 304.9L363.2 307.0L356.6 310.5L348.3 313.6L345.2 313.8L343.8 310.1L343.2 305.9L340.1 300.8L335.9 295.6L333.8 290.4L330.7 286.3L327.6 282.1L327.2 279.0L325.6 275.3M313.2 254.2L315.2 254.8L319.4 254.8L323.5 253.1L327.6 253.1L330.7 254.6L333.8 255.2L338.0 255.2L341.1 254.0L340.1 251.1L335.9 249.0L332.8 247.6L333.8 245.9L335.9 242.8L331.8 243.8L328.7 246.3L325.6 248.0L323.5 246.3L324.5 244.9L321.4 243.8L318.3 244.9L316.7 246.5L314.6 249.0L313.2 251.1L313.2 254.2M356.6 262.5L360.8 263.9L367.0 263.5L365.9 259.4L364.9 256.3L363.9 253.1L360.8 249.0L360.8 246.9L364.9 245.9L364.9 242.8L358.7 243.8L354.5 244.9L352.5 248.0L353.5 251.1L356.6 254.2L357.7 256.7L356.6 259.4L356.6 262.5M652.6 204.3L656.7 206.6L664.0 206.6L667.1 208.6L659.8 209.7L656.7 212.8L658.8 214.9L665.0 215.9L665.0 218.6L673.3 218.6L674.3 221.1L669.1 224.2L662.9 226.2L658.8 227.3L669.1 225.2L675.4 222.5L680.5 220.0L682.6 217.3L686.7 217.5L685.7 214.2L690.9 213.8L694.0 215.9L698.1 214.4L702.3 215.9L710.5 216.5L715.7 219.0L719.9 222.1L725.0 226.2L729.2 227.3L731.2 229.3L735.4 233.5L736.4 235.6L741.6 239.3L742.2 240.3L743.7 243.8L743.2 251.1L743.0 256.7L745.7 261.4L747.8 263.9L750.5 268.3L755.0 269.7L757.7 272.4L760.2 276.9L763.3 281.1L767.5 286.3L770.6 290.4L773.0 292.5L772.6 289.8L769.5 285.2L766.4 280.1L762.9 274.9L766.4 275.3L767.9 279.0L771.6 283.2L774.7 287.3L779.9 291.9L781.9 296.6L783.0 299.7L789.2 303.2L795.4 305.5L801.6 307.6L805.7 306.5L809.9 309.7L815.1 312.1L818.8 313.2L822.3 316.3L822.9 319.4L826.4 321.4L828.5 322.9L831.6 324.1L834.7 325.0L834.7 322.5L836.8 321.4L838.9 322.9L840.3 325.6L839.9 330.8L837.8 334.9L834.7 338.4L833.1 342.1L834.1 345.7L832.2 349.4L832.7 352.5L835.8 356.6L838.9 361.8L842.4 368.6L848.2 373.8L853.3 377.3L855.0 381.5L854.8 389.7L853.3 398.0L852.3 404.2L851.9 410.4L849.2 416.7L848.2 422.9L847.1 429.1L846.1 435.3L844.0 441.5L847.1 447.7L853.3 451.8L859.6 454.5L864.7 453.9L859.6 449.8L857.5 445.6L859.6 442.5L864.1 438.4L860.6 435.3L864.7 433.2L865.8 428.0L869.9 424.9L871.4 420.8L880.3 419.8L882.9 415.6L879.6 411.5L886.5 412.1L890.0 409.4L894.7 404.2L899.5 398.0L899.9 392.9L904.1 389.7L911.3 387.7L915.4 385.6L917.5 381.5L919.6 375.3L919.6 367.0L923.7 362.8L927.9 357.7L927.9 352.5L923.7 349.4L917.5 345.9L910.3 345.2L907.2 343.2L901.0 341.5L896.8 339.0L896.8 336.3L893.7 331.2L888.5 328.1L882.3 327.7L878.2 323.5L873.0 319.4L870.9 317.9L866.8 319.0L863.7 318.3L858.5 316.7L853.3 316.9L852.3 314.6L850.2 316.3L845.1 317.7L843.0 320.8L840.9 322.1L838.9 320.8L835.8 320.4L832.7 321.9L830.0 320.8L827.5 317.9L826.9 314.2L827.9 309.0L824.4 307.2L819.2 307.4L816.7 307.4L817.8 303.9L819.2 299.7L820.2 296.0L817.1 295.6L813.4 296.6L812.6 299.7L809.9 301.6L804.7 302.4L801.6 300.8L798.5 295.6L798.1 290.4L799.1 286.3L799.5 282.1L803.7 279.6L806.8 278.6L812.0 279.6L815.1 279.6L816.1 277.4L820.2 277.2L823.3 278.4L826.4 278.0L828.9 281.1L830.6 285.2L832.7 287.9L834.1 287.3L834.7 284.2L833.3 280.1L831.8 276.3L833.1 273.4L836.8 270.7L839.9 268.7L843.6 266.6L843.0 263.5L843.0 260.4L845.1 260.4L847.1 257.3L847.1 255.8L851.3 254.8L855.4 253.8L854.0 251.1L857.5 249.0L861.6 247.4L863.7 250.0L869.9 247.6L874.0 245.9L876.1 244.9L874.0 242.8L867.8 244.2L865.8 241.1L866.8 238.7L861.6 239.1L856.5 241.1L853.3 243.2L857.5 239.3L862.7 236.2L869.9 236.0L876.1 236.0L881.3 233.5L884.4 232.4L884.4 229.3L880.3 227.3L876.1 225.2L872.6 222.1L870.9 219.0L866.8 215.3L863.7 218.0L859.6 219.0L856.5 218.0L855.4 213.8L851.3 212.2L845.1 211.1L838.9 210.7L838.9 214.9L840.3 219.0L837.8 222.1L841.6 224.2L836.8 227.3L835.8 232.4L833.7 233.9L830.6 230.8L830.0 226.2L824.4 225.6L818.2 223.1L809.9 222.1L807.8 218.6L804.3 218.0L804.7 214.9L807.8 211.8L812.0 209.7L814.0 207.6L819.2 206.6L822.3 203.5L828.5 202.9L831.6 201.4L830.6 198.3L824.4 195.6L818.2 197.3L814.0 198.3L812.0 196.2L806.8 196.2L803.7 198.9L799.5 199.7L793.3 199.7L787.1 199.3L780.9 197.7L774.7 199.3L766.4 199.7L762.3 198.3L758.1 197.3L749.9 195.6L741.6 196.2L735.4 194.8L729.2 195.6L721.9 196.2L716.7 197.3L708.5 195.8L700.2 195.2L691.9 194.2L683.6 193.1L676.4 192.5L671.2 193.7L665.0 194.8L660.9 197.3L655.7 198.7L660.9 200.4L665.0 202.4L660.9 202.9L655.7 203.9L652.6 204.3M907.2 215.9L911.3 215.5L913.4 211.8L917.5 206.6L923.7 204.1L932.0 200.4L942.3 198.7L950.6 196.2L954.8 194.2L950.6 191.1L954.8 188.0L958.9 184.8L961.0 180.7L956.8 177.6L963.0 174.5L967.2 171.4L954.8 169.9L938.2 167.7L917.5 167.7L901.0 169.3L886.5 169.7L876.1 170.4L869.9 171.8L861.6 173.9L855.4 177.6L849.2 178.6L855.4 180.7L859.6 182.8L872.0 182.8L880.3 184.8L884.4 189.0L887.5 193.1L892.7 195.2L888.5 197.3L894.7 199.3L889.6 202.4L891.6 205.5L896.8 209.7L899.9 213.8L907.2 215.9M953.7 208.0L961.0 208.9L969.3 207.0L972.4 204.9L969.3 202.9L963.0 203.1L956.8 203.5L952.7 202.9L950.0 204.5L954.8 205.5L950.6 206.0L953.7 208.0M988.9 236.6L994.1 235.3M255.2 234.9L257.9 233.9L258.7 231.0L255.8 230.4M999.9 227.3L997.2 225.6L995.7 224.2L996.2 221.1L992.0 220.7L994.1 218.8L990.0 218.8L987.9 221.1L988.9 224.2L990.4 226.2L993.7 226.7L994.1 229.3L991.0 230.0L991.4 232.4L989.5 232.9L993.1 233.7L988.9 236.6M987.9 232.0L987.5 229.3L988.3 227.1L984.8 225.8L979.6 227.9L980.6 230.4L979.2 232.4L982.7 233.5L987.9 232.0M346.3 391.8L352.5 391.8L357.7 375.3L359.3 372.2L357.2 365.3L354.5 369.1L350.4 372.8L346.3 375.3L346.3 381.5L344.8 386.6L346.3 391.8M420.8 320.0L424.5 324.6L422.8 327.7L420.8 327.2L420.4 323.5L420.8 320.0M524.3 275.3L527.4 274.9L528.4 271.8L531.5 270.7L534.6 270.3L538.3 268.7L541.9 268.3L545.0 267.2L546.6 265.6L547.0 261.4L548.7 258.3L547.7 254.6L545.0 256.3L544.5 259.4L541.9 262.5L538.8 263.5L536.7 265.6L534.6 266.4L530.5 266.6L526.3 268.9L524.3 270.7L523.6 272.4L524.3 275.3M545.0 254.2L547.0 252.1L551.2 253.1L556.3 250.5L554.3 249.0L551.2 248.0L548.7 246.1L548.1 250.0L545.6 251.1L545.0 254.2M549.1 244.9L552.2 243.2L551.2 238.7L553.2 237.6L551.2 233.5L551.2 228.3L549.1 230.4L549.1 236.6L549.1 244.9M504.0 292.5L505.2 294.5L506.7 291.4L507.3 288.3L505.6 288.3L504.0 292.5M480.2 300.3L481.8 302.2L483.9 301.2L484.9 299.1L482.9 298.7L480.2 300.3M504.6 301.8L507.7 301.8L508.1 305.9L506.7 309.0L507.7 311.1L511.8 313.2L510.8 314.2L507.7 312.1L505.0 311.1L503.6 308.0L504.2 304.9L504.6 301.8M507.7 325.6L510.8 323.9L511.8 322.5L515.0 320.4L517.0 324.6L516.0 327.0L514.5 328.1L511.8 326.6L507.7 325.6M507.7 315.7L509.8 316.3L510.4 318.3L511.8 319.0L512.9 317.3L515.0 316.7L514.5 314.4L512.9 314.6L511.8 316.9L509.8 315.2L507.7 315.7M497.8 322.5L502.5 318.3L502.5 316.7L500.5 319.4L497.8 322.5M480.8 337.0L482.9 336.6L484.9 337.0L486.0 334.5L489.1 333.5L492.2 330.8L494.3 328.7L496.9 325.6L498.8 327.0L501.5 329.3L499.4 331.2L498.8 333.9L499.4 338.0L498.4 340.1L496.3 342.8L495.9 346.3L494.9 347.9L492.2 348.4L489.1 346.7L486.4 346.9L483.3 345.2L482.9 342.8L480.8 340.1L480.8 337.0M452.4 328.5L457.0 329.3L460.1 332.8L463.2 335.5L465.9 336.3L469.4 340.1L471.5 343.8L474.6 346.3L474.2 352.1L471.5 351.9L467.3 348.8L464.2 345.2L462.8 341.7L460.1 339.0L459.1 336.3L456.0 332.8L452.4 328.5M473.1 354.1L476.2 352.5L479.8 353.9L484.5 353.5L488.5 354.4L492.2 356.2L491.8 357.9L487.0 357.3L481.8 356.2L477.7 356.0L474.6 355.2L473.1 354.1M494.3 357.3L497.4 357.0L501.5 357.3L505.6 357.7L509.8 357.3L509.4 358.3L504.6 358.7L500.5 358.3L496.3 358.5L494.3 357.3M510.8 361.4L513.9 359.3L518.1 357.5L517.0 358.7L512.9 361.2L510.8 361.4M502.5 351.5L504.4 346.3L506.7 349.4L509.4 349.4L506.7 344.2L510.2 342.1L506.1 342.1L504.0 339.7L506.7 337.8L513.5 337.2L512.5 339.2L505.2 338.8L503.2 340.1L502.1 343.2L501.1 345.7L502.5 347.3L502.5 351.5M519.1 336.3L520.1 339.0L521.2 341.7L520.1 340.1L521.2 338.0L519.9 335.9L519.1 336.3M526.3 341.7L529.4 340.9L532.5 341.7L533.6 345.2L535.6 346.9L539.8 343.4L543.9 344.6L547.0 345.5L552.2 347.3L556.8 350.4L560.5 352.5L559.4 354.1L562.6 357.7L566.7 361.4L563.6 361.4L559.4 359.7L556.3 356.6L553.2 356.0L551.2 358.7L547.0 358.9L542.9 356.6L540.8 357.3L542.5 354.1L540.8 351.5L535.6 349.2L531.5 347.9L530.1 345.9L532.1 344.6L528.4 344.2L526.3 341.7M562.1 351.7L565.7 350.4L568.8 348.8L570.4 349.4L568.8 351.9L565.7 352.9L562.1 351.7M576.0 352.5L579.1 354.6L583.3 356.6L587.4 359.7L590.5 362.2M599.8 370.1L601.5 373.2L603.5 376.7M594.6 381.9L597.7 384.2L600.8 386.2M622.2 376.3L624.6 376.7L624.4 377.7L622.4 377.5L622.2 376.3M669.1 294.5L673.3 295.6L676.4 297.0L677.8 298.3L679.5 299.7L677.8 300.8L677.4 299.1M490.1 385.6L491.1 385.2L495.3 382.9L500.5 382.1L505.6 380.4L508.3 377.3L510.8 375.3L513.9 372.2L517.0 369.1L520.1 370.7L523.2 370.9L524.3 367.0L526.3 365.3L529.4 363.9L534.6 365.3L538.3 364.9L536.7 368.0L535.6 371.1L539.8 373.2L543.9 376.3L546.6 375.9L548.1 371.1L548.5 365.9L550.1 362.4L552.2 365.9L552.2 369.7L555.9 371.1L557.4 376.3L558.0 379.4L562.6 381.9L564.6 386.2L567.3 388.7L571.5 392.9L572.5 397.0L572.5 401.1L571.2 406.3L568.3 409.8L566.7 413.6L565.7 417.3L561.5 418.5L558.4 420.8L555.3 419.3L552.2 420.4L547.0 419.1L544.5 416.7L543.5 414.0L540.8 413.8L540.2 410.4L538.8 413.6L536.3 412.1L534.6 409.4L532.5 407.8L528.4 406.3L522.2 405.7L516.0 406.9L511.8 408.4L510.8 410.2L503.6 410.2L499.4 412.5L495.3 412.1L493.2 411.1L494.3 406.3L493.2 402.2L491.1 397.0L490.1 393.9L490.1 389.7L490.1 385.6M554.7 424.5L558.4 424.9L562.1 424.7L561.5 428.7L559.4 430.3L556.3 428.7L554.7 424.5M612.6 411.3L616.4 414.6L618.4 416.0L619.5 417.9L623.6 418.1L624.2 419.8L621.5 421.8L621.1 423.9L618.0 426.2L616.8 425.6L617.4 422.9L614.9 421.4L616.8 418.7L616.4 416.2L613.3 412.5L612.6 411.3M612.6 423.9L615.7 426.4L612.8 430.1L609.7 431.8L608.7 434.9L605.0 436.5L601.9 435.7L599.8 434.9L603.5 431.1L608.1 428.7L611.2 425.3L612.6 423.9M255.2 485.0L275.9 485.0L296.6 485.0L317.3 483.9L327.6 482.9L338.0 481.9L358.7 478.7L369.0 476.7L379.4 479.4L389.7 480.4L400.1 481.9L404.2 485.0L410.4 483.9L416.6 481.9L431.1 478.3L441.5 478.1L462.2 476.7L482.9 477.3L503.6 478.3L524.3 477.1L534.6 476.7L545.0 478.1L555.3 478.7L565.7 481.9L586.4 485.0L596.7 486.6L607.1 488.1L609.1 491.2L602.9 495.3L598.8 500.5L607.1 501.5L627.8 502.1L648.4 502.5L669.1 501.5L679.5 499.4L694.0 496.3L710.5 494.9L731.2 494.3L751.9 493.2L772.6 492.2L783.0 491.2L793.3 490.8L803.7 491.6L814.0 491.2L834.7 491.2L845.1 489.1L855.4 486.0L861.6 482.9L865.8 478.7L869.9 475.6L876.1 472.5L882.3 470.9L880.3 473.6L874.0 475.6L870.9 478.7L869.9 481.9L872.0 485.0L874.0 489.1L872.0 493.2L865.8 496.3L855.4 498.4L845.1 500.5L865.8 502.5L886.5 502.5L907.2 501.5L927.9 499.4L938.2 497.4L948.6 494.3L958.9 491.2L969.3 489.1L979.6 487.0L990.0 485.6L1000.3 485.0M361.8 192.1L367.0 193.5L373.2 193.7L370.1 190.0L375.2 186.9L385.6 183.2L397.0 181.1L391.8 180.7L379.4 182.2L371.1 184.8L365.9 189.0L361.8 192.1M278.0 177.6L286.2 180.7L292.5 179.7L298.7 177.6L292.5 174.9L304.9 173.9L296.6 173.5L284.2 174.9L278.0 177.6M453.9 176.6L462.2 178.2L470.5 177.6L472.5 175.5L462.2 173.5L453.9 174.5L453.9 176.6M538.8 184.8L545.0 188.0L553.2 186.9L565.7 184.8L557.4 183.8L547.0 182.8L538.8 184.8M627.8 193.1L631.9 193.5L632.9 192.5L628.8 192.1L627.8 193.1M872.0 203.5L865.8 209.7L859.6 210.7L851.3 207.6L847.1 206.6L838.9 206.6L843.0 203.5L849.2 200.4L843.0 197.3L834.7 195.2L824.4 195.2L816.1 193.1L818.2 188.0L830.6 187.5L838.9 189.4L847.1 192.1L855.4 194.2L861.6 197.3L865.8 200.4L872.0 203.5M783.0 197.3L772.6 198.3L762.3 196.6L756.1 192.1L762.3 189.0L772.6 189.0L783.0 190.0L787.1 194.2L783.0 197.3M872.0 169.3L845.1 168.1L818.2 170.4L812.0 173.5L822.3 176.6L818.2 178.6L826.4 181.7L836.8 181.7L843.0 177.6L851.3 175.1L863.7 172.4L872.0 169.3M745.7 192.1L741.6 190.0L744.7 186.9L756.1 186.5L760.2 189.0L756.1 192.1L745.7 192.1M834.7 184.8L824.4 185.9L812.0 185.5L809.9 182.8L818.2 181.7L830.6 182.8L834.7 184.8M780.9 184.8L772.6 185.9L764.4 185.3L758.1 183.8L766.4 181.7L776.8 182.2L780.9 184.8M820.2 178.0L809.9 178.6L803.7 175.5L809.9 172.4L820.2 174.5L820.2 178.0M807.8 190.0L801.6 191.1L795.4 189.0L799.5 186.9L807.8 187.3L807.8 190.0M832.7 207.6L826.4 209.7L820.2 208.2L824.4 204.5L830.6 205.5L832.7 207.6M877.6 241.3L884.4 243.2L890.6 243.4L891.2 240.7L888.5 237.6L884.4 236.6L885.0 233.5L881.3 235.6L877.6 241.3M824.4 295.0L829.5 292.5L834.7 292.5L840.9 295.6L846.7 298.3L839.9 298.9L838.9 297.4L834.7 295.2L830.6 294.1L827.5 294.5L824.4 295.0M846.3 301.8L849.2 298.9L855.4 299.1L858.5 301.6L854.4 302.4L851.3 302.8L846.3 301.8M838.2 302.2L842.4 302.8L839.9 303.2L838.2 302.2M861.2 302.0L864.3 302.2L862.7 302.8L861.2 302.0M874.0 446.7L880.3 446.5L879.2 448.1L875.1 448.1L874.0 446.7M397.6 441.5L400.7 441.9L400.1 442.9L398.0 442.7L397.6 441.5M281.1 261.4L287.3 261.0L286.7 263.9L281.1 262.3L281.1 261.4M272.4 259.4L275.1 258.9L275.3 255.2L272.4 255.6L272.4 259.4M273.2 254.2L274.9 254.0L274.7 251.1L273.2 252.1L273.2 254.2M303.8 267.0L309.6 267.2L309.0 267.6L303.8 267.0M322.1 267.6L326.6 266.4L324.5 268.5L322.1 267.6M735.4 235.1L741.6 236.6L744.7 239.7L741.6 239.3L735.4 235.1M725.0 228.3L727.5 229.3L728.8 232.0L726.1 230.4L725.0 228.3M681.6 221.1L684.7 220.4L684.7 222.1L681.6 221.1M858.5 449.1L864.7 453.3L858.5 454.5L853.3 451.8L855.4 449.8L858.5 449.1M845.1 487.0L855.4 482.9L859.6 486.0L855.4 490.1L845.1 489.1L845.1 487.0M896.8 502.5L907.2 501.5L915.4 503.6L907.2 506.7L892.7 505.7L896.8 502.5"/></defs>
<use href="#coast" y="0.00" fill="none" stroke="#000" stroke-width="0.75" stroke-linejoin="round"/>
<use href="#coast" y="470.10" fill="none" stroke="#000" stroke-width="0.75" stroke-linejoin="round"/>
<use href="#coast" y="940.20" fill="none" stroke="#000" stroke-width="0.75" stroke-linejoin="round"/>
<rect x="256" y="154" width="744" height="372" fill="none" stroke="#000" stroke-width="2"/>
<path d="M256 526v7M380 526v7M504 526v7M628 526v7M752 526v7M876 526v7M1000 526v7M256 154h-7.2M256 216h-7.2M256 278h-7.2M256 340h-7.2M256 402h-7.2M256 464h-7.2M256 526h-7.2" stroke="#000" stroke-width="2" fill="none"/>
<text x="255.5" y="552.7" font-size="16.67" text-anchor="middle">0°E</text>
<text x="379.5" y="552.7" font-size="16.67" text-anchor="middle">60°E</text>
<text x="503.5" y="552.7" font-size="16.67" text-anchor="middle">120°E</text>
<text x="627.5" y="552.7" font-size="16.67" text-anchor="middle">180°</text>
<text x="751.5" y="552.7" font-size="16.67" text-anchor="middle">120°W</text>
<text x="875.5" y="552.7" font-size="16.67" text-anchor="middle">60°W</text>
<text x="999.5" y="552.7" font-size="16.67" text-anchor="middle">0°W</text>
<text x="240.9" y="159.8" font-size="16.67" text-anchor="end">90°N</text>
<text x="240.9" y="221.8" font-size="16.67" text-anchor="end">60°N</text>
<text x="240.9" y="283.9" font-size="16.67" text-anchor="end">30°N</text>
<text x="240.9" y="345.9" font-size="16.67" text-anchor="end">0°</text>
<text x="240.9" y="407.9" font-size="16.67" text-anchor="end">30°S</text>
<text x="240.9" y="469.9" font-size="16.67" text-anchor="end">60°S</text>
<text x="240.9" y="531.9" font-size="16.67" text-anchor="end">90°S</text>
<rect x="256" y="624" width="744" height="372" fill="none" stroke="#000" stroke-width="2"/>
<path d="M256 996v7M380 996v7M504 996v7M628 996v7M752 996v7M876 996v7M1000 996v7M256 624h-7.2M256 686h-7.2M256 748h-7.2M256 810h-7.2M256 872h-7.2M256 934h-7.2M256 996h-7.2" stroke="#000" stroke-width="2" fill="none"/>
<text x="255.5" y="1022.7" font-size="16.67" text-anchor="middle">0°E</text>
<text x="379.5" y="1022.7" font-size="16.67" text-anchor="middle">60°E</text>
<text x="503.5" y="1022.7" font-size="16.67" text-anchor="middle">120°E</text>
<text x="627.5" y="1022.7" font-size="16.67" text-anchor="middle">180°</text>
<text x="751.5" y="1022.7" font-size="16.67" text-anchor="middle">120°W</text>
<text x="875.5" y="1022.7" font-size="16.67" text-anchor="middle">60°W</text>
<text x="999.5" y="1022.7" font-size="16.67" text-anchor="middle">0°W</text>
<text x="240.9" y="629.9" font-size="16.67" text-anchor="end">90°N</text>
<text x="240.9" y="691.9" font-size="16.67" text-anchor="end">60°N</text>
<text x="240.9" y="753.9" font-size="16.67" text-anchor="end">30°N</text>
<text x="240.9" y="815.9" font-size="16.67" text-anchor="end">0°</text>
<text x="240.9" y="877.9" font-size="16.67" text-anchor="end">30°S</text>
<text x="240.9" y="939.9" font-size="16.67" text-anchor="end">60°S</text>
<text x="240.9" y="1001.9" font-size="16.67" text-anchor="end">90°S</text>
<rect x="256" y="1094" width="744" height="372" fill="none" stroke="#000" stroke-width="2"/>
<path d="M256 1466v7M380 1466v7M504 1466v7M628 1466v7M752 1466v7M876 1466v7M1000 1466v7M256 1094h-7.2M256 1156h-7.2M256 1218h-7.2M256 1280h-7.2M256 1342h-7.2M256 1404h-7.2M256 1466h-7.2" stroke="#000" stroke-width="2" fill="none"/>
<text x="255.5" y="1492.7" font-size="16.67" text-anchor="middle">0°E</text>
<text x="379.5" y="1492.7" font-size="16.67" text-anchor="middle">60°E</text>
<text x="503.5" y="1492.7" font-size="16.67" text-anchor="middle">120°E</text>
<text x="627.5" y="1492.7" font-size="16.67" text-anchor="middle">180°</text>
<text x="751.5" y="1492.7" font-size="16.67" text-anchor="middle">120°W</text>
<text x="875.5" y="1492.7" font-size="16.67" text-anchor="middle">60°W</text>
<text x="999.5" y="1492.7" font-size="16.67" text-anchor="middle">0°W</text>
<text x="240.9" y="1099.8" font-size="16.67" text-anchor="end">90°N</text>
<text x="240.9" y="1161.8" font-size="16.67" text-anchor="end">60°N</text>
<text x="240.9" y="1223.8" font-size="16.67" text-anchor="end">30°N</text>
<text x="240.9" y="1285.8" font-size="16.67" text-anchor="end">0°</text>
<text x="240.9" y="1347.8" font-size="16.67" text-anchor="end">30°S</text>
<text x="240.9" y="1409.8" font-size="16.67" text-anchor="end">60°S</text>
<text x="240.9" y="1471.8" font-size="16.67" text-anchor="end">90°S</text>
<path d="M1061.6 476.16V477.16L1082.40 490.60L1103.2 477.16V476.16z" fill="#002cf8"/>
<rect x="1061.6" y="450.28" width="41.60" height="27.18" fill="#002cf8"/>
<rect x="1061.6" y="423.40" width="41.60" height="27.18" fill="#006ca4"/>
<rect x="1061.6" y="396.51" width="41.60" height="27.18" fill="#3c8c64"/>
<rect x="1061.6" y="369.63" width="41.60" height="27.18" fill="#48a610"/>
<rect x="1061.6" y="342.75" width="41.60" height="27.18" fill="#94b816"/>
<rect x="1061.6" y="315.87" width="41.60" height="27.18" fill="#d4c820"/>
<rect x="1061.6" y="288.99" width="41.60" height="27.18" fill="#ffc420"/>
<rect x="1061.6" y="262.10" width="41.60" height="27.18" fill="#ff9a10"/>
<rect x="1061.6" y="235.22" width="41.60" height="27.18" fill="#ff6a00"/>
<rect x="1061.6" y="208.34" width="41.60" height="27.18" fill="#ff2a00"/>
<path d="M1061.6 209.34V208.34L1082.40 194.90L1103.2 208.34V209.34z" fill="#ff2a00"/>
<path d="M1061.6 477.16L1082.40 490.60L1103.2 477.16V208.34L1082.40 194.90L1061.6 208.34z" fill="none" stroke="#000" stroke-width="1.67" stroke-linejoin="miter"/>
<text x="1154.9" y="457.9" font-size="18.75" text-anchor="end">0.0</text>
<text x="1154.9" y="431.0" font-size="18.75" text-anchor="end">10.0</text>
<text x="1154.9" y="404.1" font-size="18.75" text-anchor="end">20.0</text>
<text x="1154.9" y="377.2" font-size="18.75" text-anchor="end">30.0</text>
<text x="1154.9" y="350.4" font-size="18.75" text-anchor="end">40.0</text>
<text x="1154.9" y="323.5" font-size="18.75" text-anchor="end">50.0</text>
<text x="1154.9" y="296.6" font-size="18.75" text-anchor="end">60.0</text>
<text x="1154.9" y="269.7" font-size="18.75" text-anchor="end">70.0</text>
<text x="1154.9" y="242.8" font-size="18.75" text-anchor="end">80.0</text>
<path d="M1061.6 946.26V947.26L1082.40 960.70L1103.2 947.26V946.26z" fill="#002cf8"/>
<rect x="1061.6" y="920.38" width="41.60" height="27.18" fill="#002cf8"/>
<rect x="1061.6" y="893.50" width="41.60" height="27.18" fill="#006ca4"/>
<rect x="1061.6" y="866.61" width="41.60" height="27.18" fill="#3c8c64"/>
<rect x="1061.6" y="839.73" width="41.60" height="27.18" fill="#48a610"/>
<rect x="1061.6" y="812.85" width="41.60" height="27.18" fill="#94b816"/>
<rect x="1061.6" y="785.97" width="41.60" height="27.18" fill="#d4c820"/>
<rect x="1061.6" y="759.09" width="41.60" height="27.18" fill="#ffc420"/>
<rect x="1061.6" y="732.20" width="41.60" height="27.18" fill="#ff9a10"/>
<rect x="1061.6" y="705.32" width="41.60" height="27.18" fill="#ff6a00"/>
<rect x="1061.6" y="678.44" width="41.60" height="27.18" fill="#ff2a00"/>
<path d="M1061.6 679.44V678.44L1082.40 665.00L1103.2 678.44V679.44z" fill="#ff2a00"/>
<path d="M1061.6 947.26L1082.40 960.70L1103.2 947.26V678.44L1082.40 665.00L1061.6 678.44z" fill="none" stroke="#000" stroke-width="1.67" stroke-linejoin="miter"/>
<text x="1154.9" y="928.0" font-size="18.75" text-anchor="end">0.0</text>
<text x="1154.9" y="901.1" font-size="18.75" text-anchor="end">10.0</text>
<text x="1154.9" y="874.2" font-size="18.75" text-anchor="end">20.0</text>
<text x="1154.9" y="847.3" font-size="18.75" text-anchor="end">30.0</text>
<text x="1154.9" y="820.5" font-size="18.75" text-anchor="end">40.0</text>
<text x="1154.9" y="793.6" font-size="18.75" text-anchor="end">50.0</text>
<text x="1154.9" y="766.7" font-size="18.75" text-anchor="end">60.0</text>
<text x="1154.9" y="739.8" font-size="18.75" text-anchor="end">70.0</text>
<text x="1154.9" y="712.9" font-size="18.75" text-anchor="end">80.0</text>
<path d="M1061.6 1416.36V1417.36L1082.40 1430.80L1103.2 1417.36V1416.36z" fill="#002cf8"/>
<rect x="1061.6" y="1401.55" width="41.60" height="16.11" fill="#002cf8"/>
<rect x="1061.6" y="1385.73" width="41.60" height="16.11" fill="#2046f9"/>
<rect x="1061.6" y="1369.92" width="41.60" height="16.11" fill="#4061fa"/>
<rect x="1061.6" y="1354.11" width="41.60" height="16.11" fill="#607bfb"/>
<rect x="1061.6" y="1338.29" width="41.60" height="16.11" fill="#8096fc"/>
<rect x="1061.6" y="1322.48" width="41.60" height="16.11" fill="#9fb0fc"/>
<rect x="1061.6" y="1306.67" width="41.60" height="16.11" fill="#bfcafd"/>
<rect x="1061.6" y="1290.86" width="41.60" height="16.11" fill="#dfe5fe"/>
<rect x="1061.6" y="1275.04" width="41.60" height="16.11" fill="#ffffff"/>
<rect x="1061.6" y="1259.23" width="41.60" height="16.11" fill="#ffe4df"/>
<rect x="1061.6" y="1243.42" width="41.60" height="16.11" fill="#ffcabf"/>
<rect x="1061.6" y="1227.61" width="41.60" height="16.11" fill="#ffaf9f"/>
<rect x="1061.6" y="1211.79" width="41.60" height="16.11" fill="#ff9480"/>
<rect x="1061.6" y="1195.98" width="41.60" height="16.11" fill="#ff7a60"/>
<rect x="1061.6" y="1180.17" width="41.60" height="16.11" fill="#ff5f40"/>
<rect x="1061.6" y="1164.35" width="41.60" height="16.11" fill="#ff4520"/>
<rect x="1061.6" y="1148.54" width="41.60" height="16.11" fill="#ff2a00"/>
<path d="M1061.6 1149.54V1148.54L1082.40 1135.10L1103.2 1148.54V1149.54z" fill="#ff2a00"/>
<path d="M1061.6 1417.36L1082.40 1430.80L1103.2 1417.36V1148.54L1082.40 1135.10L1061.6 1148.54z" fill="none" stroke="#000" stroke-width="1.67" stroke-linejoin="miter"/>
<text x="1154.9" y="1409.1" font-size="18.75" text-anchor="end">-35.0</text>
<text x="1154.9" y="1393.3" font-size="18.75" text-anchor="end">-30.0</text>
<text x="1154.9" y="1377.5" font-size="18.75" text-anchor="end">-25.0</text>
<text x="1154.9" y="1361.7" font-size="18.75" text-anchor="end">-20.0</text>
<text x="1154.9" y="1345.9" font-size="18.75" text-anchor="end">-15.0</text>
<text x="1154.9" y="1330.1" font-size="18.75" text-anchor="end">-10.0</text>
<text x="1154.9" y="1314.3" font-size="18.75" text-anchor="end">-5.0</text>
<text x="1154.9" y="1298.5" font-size="18.75" text-anchor="end">-2.0</text>
<text x="1154.9" y="1282.6" font-size="18.75" text-anchor="end">2.0</text>
<text x="1154.9" y="1266.8" font-size="18.75" text-anchor="end">5.0</text>
<text x="1154.9" y="1251.0" font-size="18.75" text-anchor="end">10.0</text>
<text x="1154.9" y="1235.2" font-size="18.75" text-anchor="end">15.0</text>
<text x="1154.9" y="1219.4" font-size="18.75" text-anchor="end">20.0</text>
<text x="1154.9" y="1203.6" font-size="18.75" text-anchor="end">25.0</text>
<text x="1154.9" y="1187.8" font-size="18.75" text-anchor="end">30.0</text>
<text x="1154.9" y="1172.0" font-size="18.75" text-anchor="end">35.0</text>
<text x="1061.6" y="134.7" font-size="19.79" text-anchor="start">Max</text>
<text x="1188.8" y="134.7" font-size="19.79" text-anchor="end">112.60</text>
<text x="1061.6" y="156.8" font-size="19.79" text-anchor="start">Mean</text>
<text x="1188.8" y="156.8" font-size="19.79" text-anchor="end">23.94</text>
<text x="1061.6" y="178.9" font-size="19.79" text-anchor="start">Min</text>
<text x="1188.8" y="178.9" font-size="19.79" text-anchor="end">-2.01</text>
<text x="1061.6" y="604.8" font-size="19.79" text-anchor="start">Max</text>
<text x="1188.8" y="604.8" font-size="19.79" text-anchor="end">93.51</text>
<text x="1061.6" y="626.9" font-size="19.79" text-anchor="start">Mean</text>
<text x="1188.8" y="626.9" font-size="19.79" text-anchor="end">27.83</text>
<text x="1061.6" y="649.0" font-size="19.79" text-anchor="start">Min</text>
<text x="1188.8" y="649.0" font-size="19.79" text-anchor="end">-6.72</text>
<text x="1061.6" y="1074.9" font-size="19.79" text-anchor="start">Max</text>
<text x="1188.8" y="1074.9" font-size="19.79" text-anchor="end">36.39</text>
<text x="1061.6" y="1097.0" font-size="19.79" text-anchor="start">Mean</text>
<text x="1188.8" y="1097.0" font-size="19.79" text-anchor="end">-3.89</text>
<text x="1061.6" y="1119.1" font-size="19.79" text-anchor="start">Min</text>
<text x="1188.8" y="1119.1" font-size="19.79" text-anchor="end">-50.07</text>
<text x="637.5" y="94.3" font-size="37.50" text-anchor="middle">LWCF JJA global</text>
<text x="255.2" y="141.3" font-size="19.79" text-anchor="start">lnd_eu2.F2010-P3.ZMmicro.ne30pg2 (2010-2014)</text>
<text x="627.8" y="141.3" font-size="23.96" text-anchor="middle">lnd_eu2</text>
<text x="999.0" y="141.3" font-size="19.79" text-anchor="end">W/m2</text>
<text x="255.2" y="611.4" font-size="19.79" text-anchor="start">CERES-EBAF v4.0 (2001-2015)</text>
<text x="999.0" y="611.4" font-size="19.79" text-anchor="end">W m-2</text>
<text x="627.8" y="1080.9" font-size="23.96" text-anchor="middle">Model - Observation</text>
<text x="999.0" y="1081.5" font-size="19.79" text-anchor="end">W/m2</text>
<text x="1061.6" y="1462.0" font-size="19.79" text-anchor="start">RMSE</text>
<text x="1188.8" y="1462.0" font-size="19.79" text-anchor="end">7.64</text>
<text x="1061.6" y="1484.3" font-size="19.79" text-anchor="start">CORR</text>
<text x="1188.8" y="1484.3" font-size="19.79" text-anchor="end">0.92</text>
</svg>
</body></html>
